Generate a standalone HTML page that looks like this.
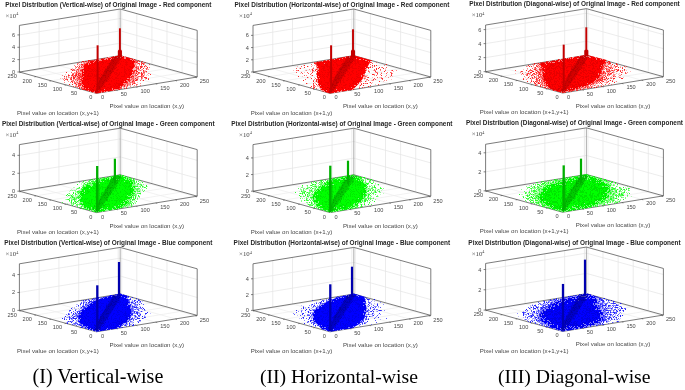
<!DOCTYPE html>
<html><head><meta charset="utf-8"><style>
html,body{margin:0;padding:0;background:#fff;width:685px;height:390px;overflow:hidden}
svg{display:block;filter:blur(0.3px)}
</style></head><body>
<svg width="685" height="390" viewBox="0 0 685 390">
<defs><filter id="rb" x="-20%" y="-20%" width="140%" height="140%"><feGaussianBlur stdDeviation="0.6"/></filter></defs>
<rect width="685" height="390" fill="#fff"/>
<line x1="39.16" y1="68.78" x2="39.16" y2="22.18" stroke="#e4e4e4" stroke-width="0.7"/>
<line x1="58.93" y1="65.57" x2="58.93" y2="18.97" stroke="#e4e4e4" stroke-width="0.7"/>
<line x1="78.69" y1="62.35" x2="78.69" y2="15.75" stroke="#e4e4e4" stroke-width="0.7"/>
<line x1="98.46" y1="59.14" x2="98.46" y2="12.54" stroke="#e4e4e4" stroke-width="0.7"/>
<line x1="118.22" y1="55.92" x2="118.22" y2="9.32" stroke="#e4e4e4" stroke-width="0.7"/>
<line x1="19.4" y1="59.64" x2="120.2" y2="43.24" stroke="#e4e4e4" stroke-width="0.7"/>
<line x1="19.4" y1="47.28" x2="120.2" y2="30.88" stroke="#e4e4e4" stroke-width="0.7"/>
<line x1="19.4" y1="34.92" x2="120.2" y2="18.52" stroke="#e4e4e4" stroke-width="0.7"/>
<line x1="182.1" y1="72.8" x2="182.1" y2="26.2" stroke="#e4e4e4" stroke-width="0.7"/>
<line x1="167" y1="68.61" x2="167" y2="22.01" stroke="#e4e4e4" stroke-width="0.7"/>
<line x1="151.91" y1="64.41" x2="151.91" y2="17.81" stroke="#e4e4e4" stroke-width="0.7"/>
<line x1="136.81" y1="60.22" x2="136.81" y2="13.62" stroke="#e4e4e4" stroke-width="0.7"/>
<line x1="121.71" y1="56.02" x2="121.71" y2="9.42" stroke="#e4e4e4" stroke-width="0.7"/>
<line x1="197.2" y1="64.64" x2="120.2" y2="43.24" stroke="#e4e4e4" stroke-width="0.7"/>
<line x1="197.2" y1="52.28" x2="120.2" y2="30.88" stroke="#e4e4e4" stroke-width="0.7"/>
<line x1="197.2" y1="39.92" x2="120.2" y2="18.52" stroke="#e4e4e4" stroke-width="0.7"/>
<line x1="116.16" y1="90.18" x2="39.16" y2="68.78" stroke="#ececec" stroke-width="0.7"/>
<line x1="135.93" y1="86.97" x2="58.93" y2="65.57" stroke="#ececec" stroke-width="0.7"/>
<line x1="155.69" y1="83.75" x2="78.69" y2="62.35" stroke="#ececec" stroke-width="0.7"/>
<line x1="175.46" y1="80.54" x2="98.46" y2="59.14" stroke="#ececec" stroke-width="0.7"/>
<line x1="195.22" y1="77.32" x2="118.22" y2="55.92" stroke="#ececec" stroke-width="0.7"/>
<line x1="81.3" y1="89.2" x2="182.1" y2="72.8" stroke="#ececec" stroke-width="0.7"/>
<line x1="66.2" y1="85.01" x2="167" y2="68.61" stroke="#ececec" stroke-width="0.7"/>
<line x1="51.11" y1="80.81" x2="151.91" y2="64.41" stroke="#ececec" stroke-width="0.7"/>
<line x1="36.01" y1="76.62" x2="136.81" y2="60.22" stroke="#ececec" stroke-width="0.7"/>
<line x1="20.91" y1="72.42" x2="121.71" y2="56.02" stroke="#ececec" stroke-width="0.7"/>
<line x1="120.2" y1="55.6" x2="120.2" y2="9" stroke="#9a9a9a" stroke-width="0.8"/>
<line x1="19.4" y1="72" x2="120.2" y2="55.6" stroke="#505050" stroke-width="0.75"/>
<line x1="197.2" y1="77" x2="120.2" y2="55.6" stroke="#505050" stroke-width="0.75"/>
<line x1="19.4" y1="72" x2="19.4" y2="25.4" stroke="#505050" stroke-width="0.75"/>
<line x1="19.4" y1="25.4" x2="120.2" y2="9" stroke="#505050" stroke-width="0.75"/>
<line x1="120.2" y1="9" x2="197.2" y2="30.4" stroke="#505050" stroke-width="0.75"/>
<line x1="197.2" y1="77" x2="197.2" y2="30.4" stroke="#505050" stroke-width="0.75"/>
<line x1="96.4" y1="93.4" x2="197.2" y2="77" stroke="#505050" stroke-width="0.75"/>
<line x1="96.4" y1="93.4" x2="19.4" y2="72" stroke="#505050" stroke-width="0.75"/>
<line x1="17.4" y1="72" x2="19.4" y2="72" stroke="#505050" stroke-width="0.7"/>
<text x="15.2" y="74" font-size="5.6" text-anchor="end" font-weight="normal" fill="#484848" font-family="'Liberation Sans', sans-serif">0</text>
<line x1="17.4" y1="59.64" x2="19.4" y2="59.64" stroke="#505050" stroke-width="0.7"/>
<text x="15.2" y="61.64" font-size="5.6" text-anchor="end" font-weight="normal" fill="#484848" font-family="'Liberation Sans', sans-serif">2</text>
<line x1="17.4" y1="47.28" x2="19.4" y2="47.28" stroke="#505050" stroke-width="0.7"/>
<text x="15.2" y="49.28" font-size="5.6" text-anchor="end" font-weight="normal" fill="#484848" font-family="'Liberation Sans', sans-serif">4</text>
<line x1="17.4" y1="34.92" x2="19.4" y2="34.92" stroke="#505050" stroke-width="0.7"/>
<text x="15.2" y="36.92" font-size="5.6" text-anchor="end" font-weight="normal" fill="#484848" font-family="'Liberation Sans', sans-serif">6</text>
<text x="100.9" y="99.4" font-size="5.6" text-anchor="start" font-weight="normal" fill="#484848" font-family="'Liberation Sans', sans-serif">0</text>
<text x="120.66" y="96.18" font-size="5.6" text-anchor="start" font-weight="normal" fill="#484848" font-family="'Liberation Sans', sans-serif">50</text>
<line x1="116.16" y1="90.18" x2="117.71" y2="90.61" stroke="#505050" stroke-width="0.6"/>
<text x="140.43" y="92.97" font-size="5.6" text-anchor="start" font-weight="normal" fill="#484848" font-family="'Liberation Sans', sans-serif">100</text>
<line x1="135.93" y1="86.97" x2="137.47" y2="87.4" stroke="#505050" stroke-width="0.6"/>
<text x="160.19" y="89.75" font-size="5.6" text-anchor="start" font-weight="normal" fill="#484848" font-family="'Liberation Sans', sans-serif">150</text>
<line x1="155.69" y1="83.75" x2="157.24" y2="84.18" stroke="#505050" stroke-width="0.6"/>
<text x="179.96" y="86.54" font-size="5.6" text-anchor="start" font-weight="normal" fill="#484848" font-family="'Liberation Sans', sans-serif">200</text>
<line x1="175.46" y1="80.54" x2="177" y2="80.97" stroke="#505050" stroke-width="0.6"/>
<text x="199.72" y="83.32" font-size="5.6" text-anchor="start" font-weight="normal" fill="#484848" font-family="'Liberation Sans', sans-serif">250</text>
<line x1="195.22" y1="77.32" x2="196.77" y2="77.75" stroke="#505050" stroke-width="0.6"/>
<line x1="81.3" y1="89.2" x2="79.72" y2="89.46" stroke="#505050" stroke-width="0.6"/>
<line x1="66.2" y1="85.01" x2="64.62" y2="85.26" stroke="#505050" stroke-width="0.6"/>
<line x1="51.11" y1="80.81" x2="49.53" y2="81.07" stroke="#505050" stroke-width="0.6"/>
<line x1="36.01" y1="76.62" x2="34.43" y2="76.87" stroke="#505050" stroke-width="0.6"/>
<line x1="20.91" y1="72.42" x2="19.33" y2="72.68" stroke="#505050" stroke-width="0.6"/>
<text x="92.3" y="99.4" font-size="5.6" text-anchor="end" font-weight="normal" fill="#484848" font-family="'Liberation Sans', sans-serif">0</text>
<text x="77.2" y="95.2" font-size="5.6" text-anchor="end" font-weight="normal" fill="#484848" font-family="'Liberation Sans', sans-serif">50</text>
<text x="62.1" y="91.01" font-size="5.6" text-anchor="end" font-weight="normal" fill="#484848" font-family="'Liberation Sans', sans-serif">100</text>
<text x="47.01" y="86.81" font-size="5.6" text-anchor="end" font-weight="normal" fill="#484848" font-family="'Liberation Sans', sans-serif">150</text>
<text x="31.91" y="82.62" font-size="5.6" text-anchor="end" font-weight="normal" fill="#484848" font-family="'Liberation Sans', sans-serif">200</text>
<text x="16.81" y="78.42" font-size="5.6" text-anchor="end" font-weight="normal" fill="#484848" font-family="'Liberation Sans', sans-serif">250</text>
<text x="5.5" y="17.6" font-size="6.8" text-anchor="start" font-weight="normal" fill="#444" font-family="'Liberation Serif', serif">×10<tspan font-size="4.2" dy="-2.4">4</tspan></text>
<text x="108.3" y="6.5" font-size="6.43" text-anchor="middle" font-weight="bold" fill="#262626" font-family="'Liberation Sans', sans-serif">Pixel Distribution (Vertical-wise) of Original Image - Red component</text>
<text x="57.9" y="114.5" font-size="6.15" text-anchor="middle" font-weight="normal" fill="#484848" font-family="'Liberation Sans', sans-serif">Pixel value on location (x,y+1)</text>
<text x="146.8" y="108.4" font-size="6.15" text-anchor="middle" font-weight="normal" fill="#484848" font-family="'Liberation Sans', sans-serif">Pixel value on location (x,y)</text>
<path d="M118.4 89.8 120.4 87.9 124.6 84 129 80 131.9 75 133.4 70 134.4 65 135.4 59.6 120.2 55.2 90.4 61 83.9 64.4 81.4 71.4 81.6 78.4 81.9 86 84 89.8 96.4 93.4Z" fill="#ff0000"/>
<path d="M119 55h2v1h-2zM104 58h2v1h-2zM126 58h2v1h-2zM102 59h1v1h-1zM104 59h1v1h-1zM107 59h1v1h-1zM110 59h1v1h-1zM123 59h2v1h-2zM127 59h2v1h-2zM131 59h2v1h-2zM134 59h1v1h-1zM94 60h1v1h-1zM96 60h1v1h-1zM102 60h1v1h-1zM109 60h1v1h-1zM125 60h1v1h-1zM128 60h4v1h-4zM89 61h1v1h-1zM97 61h2v1h-2zM102 61h1v1h-1zM106 61h1v1h-1zM121 61h1v1h-1zM123 61h1v1h-1zM126 61h1v1h-1zM132 61h3v1h-3zM91 62h1v1h-1zM95 62h1v1h-1zM97 62h1v1h-1zM101 62h3v1h-3zM105 62h1v1h-1zM125 62h3v1h-3zM132 62h1v1h-1zM87 63h1v1h-1zM92 63h1v1h-1zM95 63h1v1h-1zM100 63h1v1h-1zM103 63h1v1h-1zM107 63h1v1h-1zM120 63h1v1h-1zM126 63h1v1h-1zM130 63h1v1h-1zM132 63h1v1h-1zM87 64h1v1h-1zM94 64h1v1h-1zM97 64h2v1h-2zM102 64h1v1h-1zM120 64h1v1h-1zM125 64h3v1h-3zM89 65h1v1h-1zM92 65h1v1h-1zM97 65h1v1h-1zM122 65h1v1h-1zM126 65h1v1h-1zM88 66h1v1h-1zM101 66h1v1h-1zM105 66h1v1h-1zM118 66h1v1h-1zM124 66h1v1h-1zM129 66h2v1h-2zM132 66h1v1h-1zM88 67h1v1h-1zM93 67h1v1h-1zM99 67h1v1h-1zM103 67h2v1h-2zM121 67h2v1h-2zM124 67h1v1h-1zM130 67h3v1h-3zM83 68h2v1h-2zM88 68h3v1h-3zM94 68h1v1h-1zM99 68h1v1h-1zM124 68h1v1h-1zM127 68h1v1h-1zM82 69h1v1h-1zM91 69h3v1h-3zM95 69h1v1h-1zM99 69h1v1h-1zM102 69h1v1h-1zM117 69h2v1h-2zM124 69h2v1h-2zM128 69h2v1h-2zM84 70h2v1h-2zM87 70h2v1h-2zM92 70h1v1h-1zM94 70h1v1h-1zM96 70h1v1h-1zM100 70h1v1h-1zM116 70h2v1h-2zM124 70h1v1h-1zM126 70h1v1h-1zM128 70h1v1h-1zM130 70h1v1h-1zM82 71h1v1h-1zM85 71h2v1h-2zM89 71h3v1h-3zM93 71h1v1h-1zM95 71h1v1h-1zM98 71h2v1h-2zM102 71h1v1h-1zM124 71h2v1h-2zM129 71h1v1h-1zM83 72h1v1h-1zM86 72h1v1h-1zM97 72h1v1h-1zM114 72h3v1h-3zM119 72h1v1h-1zM121 72h1v1h-1zM124 72h2v1h-2zM84 73h2v1h-2zM88 73h2v1h-2zM91 73h2v1h-2zM100 73h1v1h-1zM114 73h1v1h-1zM116 73h2v1h-2zM119 73h1v1h-1zM125 73h2v1h-2zM129 73h1v1h-1zM83 74h2v1h-2zM88 74h1v1h-1zM92 74h1v1h-1zM94 74h1v1h-1zM96 74h1v1h-1zM98 74h2v1h-2zM115 74h2v1h-2zM118 74h2v1h-2zM124 74h1v1h-1zM126 74h1v1h-1zM129 74h3v1h-3zM87 75h2v1h-2zM90 75h1v1h-1zM92 75h1v1h-1zM94 75h4v1h-4zM100 75h1v1h-1zM117 75h2v1h-2zM124 75h1v1h-1zM128 75h1v1h-1zM83 76h1v1h-1zM85 76h1v1h-1zM87 76h5v1h-5zM94 76h3v1h-3zM112 76h1v1h-1zM117 76h1v1h-1zM121 76h4v1h-4zM83 77h1v1h-1zM93 77h1v1h-1zM98 77h1v1h-1zM111 77h1v1h-1zM115 77h2v1h-2zM129 77h1v1h-1zM83 78h1v1h-1zM87 78h1v1h-1zM89 78h2v1h-2zM95 78h1v1h-1zM98 78h1v1h-1zM110 78h1v1h-1zM112 78h1v1h-1zM115 78h4v1h-4zM120 78h1v1h-1zM82 79h1v1h-1zM85 79h4v1h-4zM97 79h1v1h-1zM113 79h2v1h-2zM122 79h1v1h-1zM85 80h1v1h-1zM90 80h1v1h-1zM93 80h2v1h-2zM109 80h1v1h-1zM111 80h1v1h-1zM116 80h1v1h-1zM118 80h1v1h-1zM123 80h1v1h-1zM125 80h2v1h-2zM82 81h1v1h-1zM88 81h1v1h-1zM95 81h1v1h-1zM108 81h1v1h-1zM111 81h1v1h-1zM120 81h2v1h-2zM125 81h1v1h-1zM82 82h1v1h-1zM87 82h1v1h-1zM116 82h1v1h-1zM121 82h2v1h-2zM125 82h1v1h-1zM88 83h1v1h-1zM92 83h1v1h-1zM95 83h1v1h-1zM109 83h1v1h-1zM114 83h1v1h-1zM116 83h5v1h-5zM123 83h1v1h-1zM83 84h1v1h-1zM88 84h1v1h-1zM91 84h1v1h-1zM106 84h1v1h-1zM108 84h3v1h-3zM115 84h1v1h-1zM118 84h3v1h-3zM122 84h1v1h-1zM82 85h1v1h-1zM84 85h1v1h-1zM113 85h1v1h-1zM115 85h1v1h-1zM118 85h2v1h-2zM121 85h1v1h-1zM84 86h1v1h-1zM105 86h1v1h-1zM110 86h2v1h-2zM114 86h1v1h-1zM116 86h2v1h-2zM87 87h1v1h-1zM90 87h1v1h-1zM107 87h2v1h-2zM110 87h1v1h-1zM118 87h1v1h-1zM85 88h1v1h-1zM89 88h1v1h-1zM91 88h1v1h-1zM106 88h1v1h-1zM109 88h2v1h-2zM112 88h1v1h-1zM116 88h2v1h-2zM86 89h1v1h-1zM90 89h1v1h-1zM103 89h2v1h-2zM107 89h1v1h-1zM117 89h1v1h-1zM106 90h1v1h-1zM110 90h1v1h-1zM113 90h1v1h-1zM90 91h1v1h-1zM107 91h1v1h-1zM96 92h1v1h-1zM100 92h1v1h-1z" fill="#8c0000" fill-opacity="0.16"/>
<path d="M114 56h1v1h-1zM122 56h1v1h-1zM124 56h1v1h-1zM108 57h3v1h-3zM117 57h1v1h-1zM120 57h1v1h-1zM124 57h2v1h-2zM105 58h3v1h-3zM111 58h1v1h-1zM113 58h1v1h-1zM124 58h2v1h-2zM98 59h3v1h-3zM104 59h2v1h-2zM107 59h1v1h-1zM110 59h1v1h-1zM130 59h2v1h-2zM133 59h1v1h-1zM95 60h1v1h-1zM99 60h3v1h-3zM132 60h1v1h-1zM134 60h1v1h-1zM94 61h1v1h-1zM98 61h1v1h-1zM89 62h1v1h-1zM93 62h1v1h-1zM88 63h1v1h-1zM90 63h1v1h-1zM134 63h1v1h-1zM88 64h1v1h-1zM83 67h1v1h-1zM82 68h2v1h-2zM133 68h1v1h-1zM132 69h2v1h-2zM83 70h1v1h-1zM83 71h1v1h-1zM81 72h1v1h-1zM132 72h1v1h-1zM83 73h1v1h-1zM131 75h1v1h-1zM83 76h1v1h-1zM130 76h1v1h-1zM82 77h1v1h-1zM127 78h2v1h-2zM82 79h1v1h-1zM126 80h2v1h-2zM124 81h1v1h-1zM123 83h2v1h-2zM82 84h1v1h-1zM83 85h1v1h-1zM120 86h1v1h-1zM83 87h1v1h-1zM85 88h1v1h-1zM88 88h1v1h-1zM112 88h1v1h-1zM104 89h1v1h-1zM112 89h1v1h-1zM114 89h4v1h-4zM88 90h1v1h-1zM98 90h1v1h-1zM113 90h1v1h-1zM90 91h1v1h-1zM94 91h1v1h-1zM101 91h1v1h-1zM104 91h1v1h-1zM106 91h2v1h-2zM93 92h2v1h-2zM101 92h1v1h-1z" fill="#fff" fill-opacity="0.5"/>
<path d="M101 58h2v1h-2zM94 59h2v1h-2zM97 59h1v1h-1zM87 61h1v1h-1zM138 61h1v1h-1zM141 61h1v1h-1zM85 62h1v1h-1zM142 62h1v1h-1zM144 62h1v1h-1zM81 63h1v1h-1zM83 63h1v1h-1zM85 63h1v1h-1zM136 63h1v1h-1zM80 64h1v1h-1zM134 64h1v1h-1zM136 64h2v1h-2zM144 64h1v1h-1zM78 65h3v1h-3zM83 65h1v1h-1zM135 65h1v1h-1zM139 65h1v1h-1zM82 66h1v1h-1zM135 66h1v1h-1zM145 66h1v1h-1zM75 67h1v1h-1zM134 67h1v1h-1zM142 67h1v1h-1zM144 67h1v1h-1zM72 68h1v1h-1zM80 68h2v1h-2zM134 68h2v1h-2zM145 68h1v1h-1zM70 69h1v1h-1zM72 69h1v1h-1zM76 69h1v1h-1zM79 69h1v1h-1zM134 69h2v1h-2zM137 69h1v1h-1zM141 69h1v1h-1zM147 69h1v1h-1zM75 70h1v1h-1zM77 70h1v1h-1zM79 70h1v1h-1zM133 70h1v1h-1zM138 70h2v1h-2zM141 70h1v1h-1zM144 70h2v1h-2zM77 71h1v1h-1zM79 71h1v1h-1zM135 71h1v1h-1zM75 72h1v1h-1zM80 72h1v1h-1zM135 72h1v1h-1zM137 72h1v1h-1zM146 72h1v1h-1zM74 73h1v1h-1zM77 73h1v1h-1zM137 73h1v1h-1zM140 73h1v1h-1zM149 73h1v1h-1zM65 74h1v1h-1zM132 74h1v1h-1zM134 74h1v1h-1zM138 74h1v1h-1zM147 74h1v1h-1zM77 75h1v1h-1zM81 75h1v1h-1zM137 75h1v1h-1zM144 75h1v1h-1zM146 75h1v1h-1zM148 75h1v1h-1zM71 76h2v1h-2zM74 76h1v1h-1zM76 76h1v1h-1zM134 76h1v1h-1zM136 76h2v1h-2zM64 77h1v1h-1zM69 77h2v1h-2zM76 77h1v1h-1zM134 77h2v1h-2zM138 77h1v1h-1zM60 78h1v1h-1zM62 78h1v1h-1zM80 78h1v1h-1zM130 78h1v1h-1zM134 78h1v1h-1zM136 78h1v1h-1zM138 78h1v1h-1zM74 79h1v1h-1zM135 79h1v1h-1zM145 79h1v1h-1zM71 80h1v1h-1zM76 80h1v1h-1zM78 80h1v1h-1zM131 80h1v1h-1zM134 80h1v1h-1zM142 80h1v1h-1zM73 81h1v1h-1zM77 81h2v1h-2zM127 81h1v1h-1zM130 81h2v1h-2zM78 82h1v1h-1zM80 82h1v1h-1zM128 82h1v1h-1zM137 82h1v1h-1zM76 83h2v1h-2zM125 83h1v1h-1zM75 84h1v1h-1zM77 84h1v1h-1zM126 84h1v1h-1zM75 85h1v1h-1zM81 85h1v1h-1zM126 85h1v1h-1zM128 85h3v1h-3zM80 86h2v1h-2zM122 86h1v1h-1zM125 86h1v1h-1zM133 86h1v1h-1zM137 86h1v1h-1zM80 87h1v1h-1zM82 87h1v1h-1zM123 87h2v1h-2z" fill="#ff0000" fill-opacity="0.25"/>
<path d="M113 56h1v1h-1zM107 57h1v1h-1zM96 59h1v1h-1zM90 60h3v1h-3zM135 60h2v1h-2zM79 62h1v1h-1zM83 62h2v1h-2zM86 62h2v1h-2zM145 62h1v1h-1zM77 63h2v1h-2zM135 63h1v1h-1zM137 63h1v1h-1zM144 63h1v1h-1zM79 64h1v1h-1zM83 64h1v1h-1zM135 64h1v1h-1zM74 65h1v1h-1zM81 65h1v1h-1zM136 65h1v1h-1zM141 65h1v1h-1zM137 66h2v1h-2zM79 67h2v1h-2zM137 67h1v1h-1zM149 67h1v1h-1zM75 68h1v1h-1zM78 68h1v1h-1zM147 68h1v1h-1zM74 69h1v1h-1zM80 69h1v1h-1zM139 69h1v1h-1zM142 69h1v1h-1zM148 69h1v1h-1zM73 70h1v1h-1zM76 70h1v1h-1zM80 71h1v1h-1zM144 71h2v1h-2zM74 72h1v1h-1zM78 72h2v1h-2zM72 73h1v1h-1zM75 73h1v1h-1zM134 73h2v1h-2zM139 73h1v1h-1zM143 73h2v1h-2zM148 73h1v1h-1zM68 74h1v1h-1zM77 74h1v1h-1zM79 74h1v1h-1zM133 74h1v1h-1zM144 74h1v1h-1zM62 75h1v1h-1zM73 75h1v1h-1zM133 75h2v1h-2zM142 75h1v1h-1zM68 76h1v1h-1zM78 76h1v1h-1zM135 76h1v1h-1zM66 77h1v1h-1zM68 77h1v1h-1zM75 77h1v1h-1zM77 77h1v1h-1zM132 77h1v1h-1zM136 77h1v1h-1zM142 77h1v1h-1zM66 78h1v1h-1zM76 78h1v1h-1zM81 78h1v1h-1zM131 78h1v1h-1zM137 78h1v1h-1zM142 78h1v1h-1zM145 78h1v1h-1zM63 79h1v1h-1zM73 79h1v1h-1zM76 79h2v1h-2zM130 79h1v1h-1zM132 79h1v1h-1zM134 79h1v1h-1zM141 79h1v1h-1zM67 80h1v1h-1zM72 80h1v1h-1zM75 80h1v1h-1zM79 80h2v1h-2zM132 80h1v1h-1zM137 80h1v1h-1zM68 81h1v1h-1zM76 81h1v1h-1zM81 81h1v1h-1zM128 81h1v1h-1zM64 82h1v1h-1zM70 82h1v1h-1zM75 82h2v1h-2zM81 82h1v1h-1zM129 82h1v1h-1zM131 82h1v1h-1zM133 82h1v1h-1zM128 83h3v1h-3zM132 83h1v1h-1zM135 83h1v1h-1zM140 83h1v1h-1zM124 84h1v1h-1zM128 84h2v1h-2zM137 84h1v1h-1zM76 85h1v1h-1zM123 85h1v1h-1zM125 85h1v1h-1zM134 85h1v1h-1zM136 85h1v1h-1zM140 85h1v1h-1zM76 86h2v1h-2zM79 86h1v1h-1zM123 86h1v1h-1zM126 86h2v1h-2zM130 86h1v1h-1zM77 87h1v1h-1z" fill="#ff0000" fill-opacity="0.45"/>
<path d="M138 60h1v1h-1zM86 61h1v1h-1zM135 61h2v1h-2zM142 61h1v1h-1zM81 62h1v1h-1zM135 62h1v1h-1zM137 62h1v1h-1zM84 63h1v1h-1zM139 63h1v1h-1zM141 63h1v1h-1zM143 63h1v1h-1zM77 64h1v1h-1zM139 64h1v1h-1zM149 64h1v1h-1zM82 65h1v1h-1zM145 65h1v1h-1zM75 66h1v1h-1zM77 66h1v1h-1zM136 66h1v1h-1zM142 66h1v1h-1zM146 66h1v1h-1zM76 67h1v1h-1zM78 67h1v1h-1zM81 67h2v1h-2zM135 67h1v1h-1zM138 67h1v1h-1zM140 67h1v1h-1zM79 68h1v1h-1zM136 68h2v1h-2zM146 68h1v1h-1zM73 69h1v1h-1zM78 69h1v1h-1zM81 69h1v1h-1zM136 69h1v1h-1zM138 69h1v1h-1zM146 69h1v1h-1zM74 70h1v1h-1zM78 70h1v1h-1zM140 70h1v1h-1zM78 71h1v1h-1zM143 71h1v1h-1zM71 72h1v1h-1zM76 72h2v1h-2zM134 72h1v1h-1zM136 72h1v1h-1zM139 72h1v1h-1zM143 72h2v1h-2zM73 73h1v1h-1zM80 73h1v1h-1zM132 73h1v1h-1zM138 73h1v1h-1zM142 73h1v1h-1zM73 74h1v1h-1zM75 74h1v1h-1zM135 74h1v1h-1zM69 75h1v1h-1zM71 75h1v1h-1zM74 75h1v1h-1zM80 75h1v1h-1zM132 75h1v1h-1zM135 75h1v1h-1zM143 75h1v1h-1zM66 76h1v1h-1zM79 76h1v1h-1zM81 76h1v1h-1zM138 76h6v1h-6zM80 77h2v1h-2zM130 77h1v1h-1zM133 77h1v1h-1zM137 77h1v1h-1zM146 77h1v1h-1zM64 78h1v1h-1zM70 78h2v1h-2zM77 78h2v1h-2zM132 78h2v1h-2zM141 78h1v1h-1zM148 78h1v1h-1zM65 79h2v1h-2zM70 79h1v1h-1zM75 79h1v1h-1zM78 79h2v1h-2zM131 79h1v1h-1zM133 79h1v1h-1zM64 80h1v1h-1zM73 80h1v1h-1zM130 80h1v1h-1zM140 80h1v1h-1zM72 81h1v1h-1zM74 81h1v1h-1zM133 81h2v1h-2zM74 82h1v1h-1zM77 82h1v1h-1zM79 82h1v1h-1zM130 82h1v1h-1zM132 82h1v1h-1zM134 82h1v1h-1zM74 83h1v1h-1zM81 83h1v1h-1zM126 83h2v1h-2zM133 83h1v1h-1zM78 84h2v1h-2zM81 84h1v1h-1zM125 84h1v1h-1zM127 84h1v1h-1zM130 84h1v1h-1zM136 84h1v1h-1zM73 86h1v1h-1zM75 86h1v1h-1zM121 87h1v1h-1zM126 87h1v1h-1zM81 88h2v1h-2zM120 88h2v1h-2zM124 88h1v1h-1zM126 88h1v1h-1z" fill="#ff0000" fill-opacity="0.65"/>
<path d="M88 60h2v1h-2zM82 61h2v1h-2zM85 61h1v1h-1zM88 61h1v1h-1zM137 61h1v1h-1zM139 61h1v1h-1zM136 62h1v1h-1zM141 62h1v1h-1zM138 63h1v1h-1zM142 63h1v1h-1zM81 64h2v1h-2zM141 64h1v1h-1zM143 64h1v1h-1zM134 65h1v1h-1zM79 66h1v1h-1zM81 66h1v1h-1zM134 66h1v1h-1zM140 66h2v1h-2zM144 66h1v1h-1zM136 67h1v1h-1zM141 67h1v1h-1zM147 67h1v1h-1zM138 68h1v1h-1zM140 68h1v1h-1zM143 68h1v1h-1zM71 69h1v1h-1zM77 69h1v1h-1zM72 70h1v1h-1zM80 70h2v1h-2zM134 70h3v1h-3zM143 70h1v1h-1zM76 71h1v1h-1zM133 71h2v1h-2zM136 71h2v1h-2zM146 71h1v1h-1zM66 72h1v1h-1zM133 72h1v1h-1zM138 72h1v1h-1zM141 72h1v1h-1zM76 73h1v1h-1zM78 73h2v1h-2zM133 73h1v1h-1zM136 73h1v1h-1zM141 73h1v1h-1zM72 74h1v1h-1zM76 74h1v1h-1zM78 74h1v1h-1zM80 74h1v1h-1zM137 74h1v1h-1zM141 74h2v1h-2zM150 74h1v1h-1zM68 75h1v1h-1zM72 75h1v1h-1zM75 75h2v1h-2zM78 75h2v1h-2zM136 75h1v1h-1zM141 75h1v1h-1zM64 76h1v1h-1zM73 76h1v1h-1zM75 76h1v1h-1zM77 76h1v1h-1zM80 76h1v1h-1zM131 76h3v1h-3zM71 77h1v1h-1zM73 77h2v1h-2zM78 77h2v1h-2zM131 77h1v1h-1zM141 77h1v1h-1zM144 77h2v1h-2zM73 78h2v1h-2zM79 78h1v1h-1zM135 78h1v1h-1zM146 78h1v1h-1zM67 79h1v1h-1zM71 79h1v1h-1zM80 79h2v1h-2zM129 79h1v1h-1zM136 79h2v1h-2zM148 79h1v1h-1zM77 80h1v1h-1zM81 80h1v1h-1zM128 80h2v1h-2zM133 80h1v1h-1zM135 80h2v1h-2zM143 80h1v1h-1zM71 81h1v1h-1zM79 81h2v1h-2zM129 81h1v1h-1zM132 81h1v1h-1zM72 82h1v1h-1zM126 82h2v1h-2zM75 83h1v1h-1zM78 83h3v1h-3zM134 83h1v1h-1zM69 84h1v1h-1zM72 84h1v1h-1zM76 84h1v1h-1zM80 84h1v1h-1zM132 84h1v1h-1zM78 85h3v1h-3zM124 85h1v1h-1zM127 85h1v1h-1zM78 86h1v1h-1zM124 86h1v1h-1zM79 87h1v1h-1zM81 87h1v1h-1zM79 88h1v1h-1zM82 89h2v1h-2zM119 89h1v1h-1z" fill="#ff0000" fill-opacity="0.85"/>
<g filter="url(#rb)">
<path d="M94.58 92.64 95.94 89.03 97.3 85.42 98.65 81.81 100.01 78.2 102.24 74.59 104.51 70.98 106.79 67.37 109.06 63.76 111.33 60.15 113.6 56.55 122.6 56.55 120.33 60.15 118.06 63.76 115.79 67.37 113.51 70.98 111.24 74.59 108.95 78.2 106.22 81.81 103.48 85.42 100.75 89.03 98.02 92.64Z" fill="#8c0000" fill-opacity="0.22"/>
<path d="M95.04 92.64 96.58 89.03 98.12 85.42 99.66 81.81 101.2 78.2 103.44 74.59 105.71 70.98 107.99 67.37 110.26 63.76 112.53 60.15 114.8 56.55 121.6 56.55 119.33 60.15 117.06 63.76 114.79 67.37 112.51 70.98 110.24 74.59 107.95 78.2 105.38 81.81 102.8 85.42 100.22 89.03 97.64 92.64Z" fill="#8c0000" fill-opacity="0.2"/>
<path d="M94.78 92.64 96.21 89.03 97.64 85.42 99.07 81.81 100.51 78.2 102.74 74.59 105.01 70.98 107.29 67.37 109.56 63.76 111.83 60.15 114.1 56.55 116.6 56.55 114.33 60.15 112.06 63.76 109.79 67.37 107.51 70.98 105.24 74.59 102.99 78.2 101.17 81.81 99.36 85.42 97.54 89.03 95.73 92.64Z" fill="#8c0000" fill-opacity="0.15"/>
<path d="M117 56h1v1h-1zM119 56h1v1h-1zM112 57h1v1h-1zM117 57h1v1h-1zM119 57h1v1h-1zM112 58h1v1h-1zM114 59h1v1h-1zM112 60h1v1h-1zM115 60h1v1h-1zM110 62h1v1h-1zM114 62h1v1h-1zM116 62h1v1h-1zM119 62h1v1h-1zM108 63h1v1h-1zM115 63h1v1h-1zM110 64h1v1h-1zM115 64h1v1h-1zM113 66h1v1h-1zM107 67h1v1h-1zM109 67h1v1h-1zM105 68h1v1h-1zM107 68h2v1h-2zM111 68h2v1h-2zM114 68h1v1h-1zM106 69h1v1h-1zM114 69h1v1h-1zM104 70h2v1h-2zM105 71h1v1h-1zM112 71h1v1h-1zM103 72h1v1h-1zM106 73h1v1h-1zM108 74h1v1h-1zM102 75h1v1h-1zM110 75h1v1h-1zM105 76h1v1h-1zM109 77h1v1h-1zM107 78h1v1h-1zM109 78h1v1h-1zM99 79h3v1h-3zM105 79h1v1h-1zM107 80h1v1h-1zM102 81h2v1h-2zM107 81h1v1h-1zM98 82h2v1h-2zM97 83h1v1h-1zM103 84h1v1h-1zM97 85h1v1h-1zM102 85h1v1h-1zM104 85h1v1h-1zM101 86h1v1h-1zM103 86h1v1h-1zM102 87h1v1h-1zM93 89h1v1h-1zM101 89h2v1h-2zM97 90h1v1h-1zM94 91h1v1h-1zM101 91h1v1h-1z" fill="#8c0000" fill-opacity="0.2"/>
<path d="M120 56h1v1h-1zM115 57h1v1h-1zM118 57h1v1h-1zM122 57h1v1h-1zM113 58h1v1h-1zM117 58h1v1h-1zM121 58h1v1h-1zM111 59h1v1h-1zM120 59h1v1h-1zM111 60h1v1h-1zM113 61h1v1h-1zM109 63h1v1h-1zM113 63h1v1h-1zM118 63h1v1h-1zM112 65h1v1h-1zM107 66h1v1h-1zM113 67h1v1h-1zM116 67h1v1h-1zM115 68h1v1h-1zM105 69h1v1h-1zM112 69h1v1h-1zM107 70h2v1h-2zM110 70h1v1h-1zM104 71h1v1h-1zM106 71h1v1h-1zM109 71h2v1h-2zM113 71h1v1h-1zM106 72h1v1h-1zM111 72h1v1h-1zM110 73h1v1h-1zM101 74h1v1h-1zM103 75h3v1h-3zM108 76h1v1h-1zM99 77h1v1h-1zM101 77h1v1h-1zM105 77h1v1h-1zM99 78h2v1h-2zM108 79h1v1h-1zM99 80h1v1h-1zM104 80h1v1h-1zM106 80h1v1h-1zM99 81h1v1h-1zM106 81h1v1h-1zM103 82h1v1h-1zM98 83h1v1h-1zM102 83h1v1h-1zM96 84h1v1h-1zM94 85h1v1h-1zM94 86h1v1h-1zM96 86h2v1h-2zM99 86h1v1h-1zM104 86h1v1h-1zM93 87h1v1h-1zM97 87h1v1h-1zM99 87h1v1h-1zM99 88h1v1h-1zM92 89h1v1h-1zM97 89h1v1h-1zM100 89h1v1h-1zM91 90h1v1h-1zM93 90h1v1h-1zM91 91h1v1h-1zM95 91h1v1h-1z" fill="#8c0000" fill-opacity="0.35"/>
</g>
<rect x="96.6" y="45.3" width="2" height="46.19" fill="#c30000"/>
<rect x="118.95" y="28.3" width="1.9" height="27.78" fill="#c30000"/>
<path d="M118.6 49.8L121.2 49.8L121.95 51L121.95 56.58L117.85 56.58L117.85 51Z" fill="#c30000"/>
<line x1="272.76" y1="68.78" x2="272.76" y2="22.18" stroke="#e4e4e4" stroke-width="0.7"/>
<line x1="292.53" y1="65.57" x2="292.53" y2="18.97" stroke="#e4e4e4" stroke-width="0.7"/>
<line x1="312.29" y1="62.35" x2="312.29" y2="15.75" stroke="#e4e4e4" stroke-width="0.7"/>
<line x1="332.06" y1="59.14" x2="332.06" y2="12.54" stroke="#e4e4e4" stroke-width="0.7"/>
<line x1="351.82" y1="55.92" x2="351.82" y2="9.32" stroke="#e4e4e4" stroke-width="0.7"/>
<line x1="253" y1="59.79" x2="353.8" y2="43.39" stroke="#e4e4e4" stroke-width="0.7"/>
<line x1="253" y1="47.57" x2="353.8" y2="31.17" stroke="#e4e4e4" stroke-width="0.7"/>
<line x1="253" y1="35.36" x2="353.8" y2="18.96" stroke="#e4e4e4" stroke-width="0.7"/>
<line x1="415.7" y1="72.8" x2="415.7" y2="26.2" stroke="#e4e4e4" stroke-width="0.7"/>
<line x1="400.6" y1="68.61" x2="400.6" y2="22.01" stroke="#e4e4e4" stroke-width="0.7"/>
<line x1="385.51" y1="64.41" x2="385.51" y2="17.81" stroke="#e4e4e4" stroke-width="0.7"/>
<line x1="370.41" y1="60.22" x2="370.41" y2="13.62" stroke="#e4e4e4" stroke-width="0.7"/>
<line x1="355.31" y1="56.02" x2="355.31" y2="9.42" stroke="#e4e4e4" stroke-width="0.7"/>
<line x1="430.8" y1="64.79" x2="353.8" y2="43.39" stroke="#e4e4e4" stroke-width="0.7"/>
<line x1="430.8" y1="52.57" x2="353.8" y2="31.17" stroke="#e4e4e4" stroke-width="0.7"/>
<line x1="430.8" y1="40.36" x2="353.8" y2="18.96" stroke="#e4e4e4" stroke-width="0.7"/>
<line x1="349.76" y1="90.18" x2="272.76" y2="68.78" stroke="#ececec" stroke-width="0.7"/>
<line x1="369.53" y1="86.97" x2="292.53" y2="65.57" stroke="#ececec" stroke-width="0.7"/>
<line x1="389.29" y1="83.75" x2="312.29" y2="62.35" stroke="#ececec" stroke-width="0.7"/>
<line x1="409.06" y1="80.54" x2="332.06" y2="59.14" stroke="#ececec" stroke-width="0.7"/>
<line x1="428.82" y1="77.32" x2="351.82" y2="55.92" stroke="#ececec" stroke-width="0.7"/>
<line x1="314.9" y1="89.2" x2="415.7" y2="72.8" stroke="#ececec" stroke-width="0.7"/>
<line x1="299.8" y1="85.01" x2="400.6" y2="68.61" stroke="#ececec" stroke-width="0.7"/>
<line x1="284.71" y1="80.81" x2="385.51" y2="64.41" stroke="#ececec" stroke-width="0.7"/>
<line x1="269.61" y1="76.62" x2="370.41" y2="60.22" stroke="#ececec" stroke-width="0.7"/>
<line x1="254.51" y1="72.42" x2="355.31" y2="56.02" stroke="#ececec" stroke-width="0.7"/>
<line x1="353.8" y1="55.6" x2="353.8" y2="9" stroke="#9a9a9a" stroke-width="0.8"/>
<line x1="253" y1="72" x2="353.8" y2="55.6" stroke="#505050" stroke-width="0.75"/>
<line x1="430.8" y1="77" x2="353.8" y2="55.6" stroke="#505050" stroke-width="0.75"/>
<line x1="253" y1="72" x2="253" y2="25.4" stroke="#505050" stroke-width="0.75"/>
<line x1="253" y1="25.4" x2="353.8" y2="9" stroke="#505050" stroke-width="0.75"/>
<line x1="353.8" y1="9" x2="430.8" y2="30.4" stroke="#505050" stroke-width="0.75"/>
<line x1="430.8" y1="77" x2="430.8" y2="30.4" stroke="#505050" stroke-width="0.75"/>
<line x1="330" y1="93.4" x2="430.8" y2="77" stroke="#505050" stroke-width="0.75"/>
<line x1="330" y1="93.4" x2="253" y2="72" stroke="#505050" stroke-width="0.75"/>
<line x1="251" y1="72" x2="253" y2="72" stroke="#505050" stroke-width="0.7"/>
<text x="248.8" y="74" font-size="5.6" text-anchor="end" font-weight="normal" fill="#484848" font-family="'Liberation Sans', sans-serif">0</text>
<line x1="251" y1="59.79" x2="253" y2="59.79" stroke="#505050" stroke-width="0.7"/>
<text x="248.8" y="61.79" font-size="5.6" text-anchor="end" font-weight="normal" fill="#484848" font-family="'Liberation Sans', sans-serif">2</text>
<line x1="251" y1="47.57" x2="253" y2="47.57" stroke="#505050" stroke-width="0.7"/>
<text x="248.8" y="49.57" font-size="5.6" text-anchor="end" font-weight="normal" fill="#484848" font-family="'Liberation Sans', sans-serif">4</text>
<line x1="251" y1="35.36" x2="253" y2="35.36" stroke="#505050" stroke-width="0.7"/>
<text x="248.8" y="37.36" font-size="5.6" text-anchor="end" font-weight="normal" fill="#484848" font-family="'Liberation Sans', sans-serif">6</text>
<text x="334.5" y="99.4" font-size="5.6" text-anchor="start" font-weight="normal" fill="#484848" font-family="'Liberation Sans', sans-serif">0</text>
<text x="354.26" y="96.18" font-size="5.6" text-anchor="start" font-weight="normal" fill="#484848" font-family="'Liberation Sans', sans-serif">50</text>
<line x1="349.76" y1="90.18" x2="351.31" y2="90.61" stroke="#505050" stroke-width="0.6"/>
<text x="374.03" y="92.97" font-size="5.6" text-anchor="start" font-weight="normal" fill="#484848" font-family="'Liberation Sans', sans-serif">100</text>
<line x1="369.53" y1="86.97" x2="371.07" y2="87.4" stroke="#505050" stroke-width="0.6"/>
<text x="393.79" y="89.75" font-size="5.6" text-anchor="start" font-weight="normal" fill="#484848" font-family="'Liberation Sans', sans-serif">150</text>
<line x1="389.29" y1="83.75" x2="390.84" y2="84.18" stroke="#505050" stroke-width="0.6"/>
<text x="413.56" y="86.54" font-size="5.6" text-anchor="start" font-weight="normal" fill="#484848" font-family="'Liberation Sans', sans-serif">200</text>
<line x1="409.06" y1="80.54" x2="410.6" y2="80.97" stroke="#505050" stroke-width="0.6"/>
<text x="433.32" y="83.32" font-size="5.6" text-anchor="start" font-weight="normal" fill="#484848" font-family="'Liberation Sans', sans-serif">250</text>
<line x1="428.82" y1="77.32" x2="430.37" y2="77.75" stroke="#505050" stroke-width="0.6"/>
<line x1="314.9" y1="89.2" x2="313.32" y2="89.46" stroke="#505050" stroke-width="0.6"/>
<line x1="299.8" y1="85.01" x2="298.22" y2="85.26" stroke="#505050" stroke-width="0.6"/>
<line x1="284.71" y1="80.81" x2="283.13" y2="81.07" stroke="#505050" stroke-width="0.6"/>
<line x1="269.61" y1="76.62" x2="268.03" y2="76.87" stroke="#505050" stroke-width="0.6"/>
<line x1="254.51" y1="72.42" x2="252.93" y2="72.68" stroke="#505050" stroke-width="0.6"/>
<text x="325.9" y="99.4" font-size="5.6" text-anchor="end" font-weight="normal" fill="#484848" font-family="'Liberation Sans', sans-serif">0</text>
<text x="310.8" y="95.2" font-size="5.6" text-anchor="end" font-weight="normal" fill="#484848" font-family="'Liberation Sans', sans-serif">50</text>
<text x="295.7" y="91.01" font-size="5.6" text-anchor="end" font-weight="normal" fill="#484848" font-family="'Liberation Sans', sans-serif">100</text>
<text x="280.61" y="86.81" font-size="5.6" text-anchor="end" font-weight="normal" fill="#484848" font-family="'Liberation Sans', sans-serif">150</text>
<text x="265.51" y="82.62" font-size="5.6" text-anchor="end" font-weight="normal" fill="#484848" font-family="'Liberation Sans', sans-serif">200</text>
<text x="250.41" y="78.42" font-size="5.6" text-anchor="end" font-weight="normal" fill="#484848" font-family="'Liberation Sans', sans-serif">250</text>
<text x="239.1" y="17.6" font-size="6.8" text-anchor="start" font-weight="normal" fill="#444" font-family="'Liberation Serif', serif">×10<tspan font-size="4.2" dy="-2.4">4</tspan></text>
<text x="341.9" y="6.5" font-size="6.43" text-anchor="middle" font-weight="bold" fill="#262626" font-family="'Liberation Sans', sans-serif">Pixel Distribution (Horizontal-wise) of Original Image - Red component</text>
<text x="291.5" y="114.5" font-size="6.15" text-anchor="middle" font-weight="normal" fill="#484848" font-family="'Liberation Sans', sans-serif">Pixel value on location (x+1,y)</text>
<text x="380.4" y="108.4" font-size="6.15" text-anchor="middle" font-weight="normal" fill="#484848" font-family="'Liberation Sans', sans-serif">Pixel value on location (x,y)</text>
<path d="M355 87.6 358.3 84.3 362.6 78.9 364.8 73.6 366.9 68.2 370.2 61.7 370.2 59.9 353.8 55.2 316 62.2 317 69.7 317 77.9 318.2 85 321.7 91 330 93.4 353.05 89.65Z" fill="#ff0000"/>
<path d="M353 55h1v1h-1zM342 57h1v1h-1zM357 57h1v1h-1zM361 57h1v1h-1zM338 58h1v1h-1zM342 58h1v1h-1zM344 58h1v1h-1zM356 58h1v1h-1zM358 58h2v1h-2zM362 58h1v1h-1zM331 59h1v1h-1zM334 59h1v1h-1zM336 59h1v1h-1zM341 59h2v1h-2zM355 59h1v1h-1zM357 59h1v1h-1zM366 59h1v1h-1zM334 60h1v1h-1zM336 60h1v1h-1zM338 60h1v1h-1zM340 60h1v1h-1zM343 60h1v1h-1zM355 60h1v1h-1zM357 60h1v1h-1zM363 60h2v1h-2zM320 61h2v1h-2zM325 61h1v1h-1zM328 61h1v1h-1zM333 61h1v1h-1zM336 61h1v1h-1zM341 61h1v1h-1zM354 61h2v1h-2zM357 61h2v1h-2zM362 61h1v1h-1zM364 61h2v1h-2zM368 61h2v1h-2zM318 62h1v1h-1zM320 62h1v1h-1zM322 62h2v1h-2zM326 62h1v1h-1zM328 62h1v1h-1zM331 62h1v1h-1zM334 62h2v1h-2zM355 62h1v1h-1zM357 62h2v1h-2zM316 63h3v1h-3zM324 63h2v1h-2zM327 63h1v1h-1zM331 63h1v1h-1zM336 63h1v1h-1zM354 63h3v1h-3zM358 63h1v1h-1zM365 63h1v1h-1zM316 64h4v1h-4zM324 64h4v1h-4zM333 64h1v1h-1zM336 64h2v1h-2zM353 64h1v1h-1zM355 64h1v1h-1zM359 64h2v1h-2zM363 64h1v1h-1zM365 64h1v1h-1zM325 65h3v1h-3zM333 65h1v1h-1zM337 65h4v1h-4zM352 65h1v1h-1zM355 65h1v1h-1zM321 66h4v1h-4zM326 66h4v1h-4zM337 66h1v1h-1zM351 66h2v1h-2zM358 66h2v1h-2zM323 67h2v1h-2zM327 67h1v1h-1zM329 67h1v1h-1zM332 67h1v1h-1zM334 67h1v1h-1zM350 67h3v1h-3zM360 67h1v1h-1zM362 67h1v1h-1zM366 67h1v1h-1zM322 68h3v1h-3zM329 68h2v1h-2zM332 68h1v1h-1zM336 68h1v1h-1zM352 68h5v1h-5zM358 68h1v1h-1zM361 68h2v1h-2zM317 69h1v1h-1zM321 69h1v1h-1zM323 69h1v1h-1zM327 69h2v1h-2zM332 69h2v1h-2zM349 69h1v1h-1zM360 69h1v1h-1zM317 70h2v1h-2zM323 70h3v1h-3zM328 70h1v1h-1zM330 70h2v1h-2zM352 70h2v1h-2zM358 70h2v1h-2zM361 70h1v1h-1zM317 71h1v1h-1zM321 71h1v1h-1zM329 71h1v1h-1zM332 71h3v1h-3zM336 71h1v1h-1zM348 71h1v1h-1zM351 71h2v1h-2zM356 71h1v1h-1zM322 72h1v1h-1zM325 72h1v1h-1zM327 72h4v1h-4zM347 72h1v1h-1zM349 72h1v1h-1zM352 72h1v1h-1zM356 72h1v1h-1zM364 72h1v1h-1zM318 73h2v1h-2zM328 73h1v1h-1zM331 73h2v1h-2zM349 73h1v1h-1zM353 73h1v1h-1zM358 73h1v1h-1zM360 73h1v1h-1zM364 73h1v1h-1zM317 74h1v1h-1zM320 74h1v1h-1zM322 74h1v1h-1zM324 74h1v1h-1zM327 74h2v1h-2zM334 74h1v1h-1zM347 74h2v1h-2zM350 74h2v1h-2zM356 74h2v1h-2zM363 74h1v1h-1zM319 75h1v1h-1zM323 75h1v1h-1zM328 75h1v1h-1zM331 75h1v1h-1zM348 75h1v1h-1zM350 75h1v1h-1zM358 75h1v1h-1zM320 76h1v1h-1zM322 76h1v1h-1zM324 76h1v1h-1zM326 76h2v1h-2zM345 76h1v1h-1zM356 76h2v1h-2zM360 76h1v1h-1zM319 77h1v1h-1zM323 77h1v1h-1zM327 77h1v1h-1zM331 77h2v1h-2zM348 77h1v1h-1zM352 77h1v1h-1zM357 77h3v1h-3zM320 78h1v1h-1zM324 78h1v1h-1zM329 78h1v1h-1zM331 78h1v1h-1zM343 78h1v1h-1zM347 78h1v1h-1zM351 78h1v1h-1zM354 78h1v1h-1zM356 78h1v1h-1zM329 79h1v1h-1zM343 79h1v1h-1zM348 79h1v1h-1zM351 79h1v1h-1zM355 79h1v1h-1zM359 79h1v1h-1zM317 80h1v1h-1zM324 80h1v1h-1zM329 80h1v1h-1zM342 80h2v1h-2zM346 80h2v1h-2zM352 80h1v1h-1zM356 80h1v1h-1zM360 80h1v1h-1zM318 81h2v1h-2zM321 81h1v1h-1zM329 81h1v1h-1zM343 81h1v1h-1zM353 81h3v1h-3zM357 81h2v1h-2zM360 81h1v1h-1zM321 82h1v1h-1zM325 82h4v1h-4zM343 82h2v1h-2zM353 82h1v1h-1zM319 83h2v1h-2zM327 83h2v1h-2zM340 83h1v1h-1zM349 83h1v1h-1zM352 83h2v1h-2zM355 83h2v1h-2zM318 84h1v1h-1zM323 84h2v1h-2zM327 84h1v1h-1zM341 84h1v1h-1zM345 84h2v1h-2zM350 84h1v1h-1zM321 85h2v1h-2zM325 85h1v1h-1zM339 85h1v1h-1zM343 85h3v1h-3zM349 85h1v1h-1zM356 85h1v1h-1zM320 86h1v1h-1zM322 86h2v1h-2zM338 86h1v1h-1zM349 86h1v1h-1zM351 86h1v1h-1zM355 86h1v1h-1zM325 87h1v1h-1zM339 87h1v1h-1zM341 87h2v1h-2zM345 87h1v1h-1zM351 87h1v1h-1zM321 88h2v1h-2zM325 88h1v1h-1zM338 88h1v1h-1zM342 88h1v1h-1zM348 88h1v1h-1zM353 88h1v1h-1zM343 89h1v1h-1zM346 89h1v1h-1zM324 90h1v1h-1zM341 90h1v1h-1zM347 90h1v1h-1zM335 91h1v1h-1zM329 92h1v1h-1z" fill="#8c0000" fill-opacity="0.16"/>
<path d="M352 55h2v1h-2zM349 56h1v1h-1zM354 56h1v1h-1zM345 57h1v1h-1zM349 57h1v1h-1zM336 58h1v1h-1zM342 58h1v1h-1zM356 58h1v1h-1zM334 59h1v1h-1zM339 59h1v1h-1zM359 59h2v1h-2zM363 59h1v1h-1zM326 60h1v1h-1zM329 60h1v1h-1zM365 60h2v1h-2zM322 61h1v1h-1zM330 61h1v1h-1zM368 61h1v1h-1zM324 63h1v1h-1zM317 66h1v1h-1zM365 67h1v1h-1zM317 68h2v1h-2zM366 68h1v1h-1zM317 69h2v1h-2zM365 69h1v1h-1zM317 70h1v1h-1zM318 71h1v1h-1zM363 74h1v1h-1zM361 75h1v1h-1zM318 76h1v1h-1zM361 76h1v1h-1zM317 78h1v1h-1zM319 78h1v1h-1zM317 80h1v1h-1zM359 82h1v1h-1zM318 83h1v1h-1zM357 83h1v1h-1zM318 85h1v1h-1zM320 85h1v1h-1zM354 85h2v1h-2zM319 86h1v1h-1zM351 87h1v1h-1zM320 88h2v1h-2zM353 88h1v1h-1zM336 89h1v1h-1zM344 89h1v1h-1zM352 89h1v1h-1zM321 90h3v1h-3zM326 90h1v1h-1zM341 90h1v1h-1zM347 90h1v1h-1zM324 91h1v1h-1zM337 91h2v1h-2zM340 91h2v1h-2zM334 92h1v1h-1z" fill="#fff" fill-opacity="0.5"/>
<path d="M319 61h1v1h-1zM312 62h1v1h-1zM369 63h1v1h-1zM303 65h1v1h-1zM312 65h1v1h-1zM314 65h1v1h-1zM297 66h1v1h-1zM308 66h1v1h-1zM316 66h1v1h-1zM372 66h1v1h-1zM313 67h1v1h-1zM299 68h1v1h-1zM312 68h1v1h-1zM385 68h1v1h-1zM311 69h1v1h-1zM385 69h1v1h-1zM293 70h1v1h-1zM305 70h1v1h-1zM373 70h1v1h-1zM310 71h1v1h-1zM313 71h2v1h-2zM393 71h1v1h-1zM304 72h1v1h-1zM375 72h1v1h-1zM381 72h1v1h-1zM300 73h1v1h-1zM311 75h1v1h-1zM365 75h3v1h-3zM302 76h1v1h-1zM316 76h1v1h-1zM392 76h1v1h-1zM308 77h1v1h-1zM310 77h1v1h-1zM314 77h1v1h-1zM364 77h2v1h-2zM372 77h1v1h-1zM379 77h2v1h-2zM363 78h1v1h-1zM364 79h1v1h-1zM391 79h1v1h-1zM366 80h1v1h-1zM371 80h1v1h-1zM315 81h1v1h-1zM366 81h1v1h-1zM383 81h1v1h-1zM314 82h1v1h-1zM317 82h1v1h-1zM369 82h1v1h-1zM372 82h1v1h-1zM307 83h1v1h-1zM364 83h1v1h-1zM375 84h1v1h-1zM359 85h1v1h-1zM314 86h1v1h-1zM317 86h2v1h-2zM359 86h1v1h-1zM320 89h1v1h-1z" fill="#ff0000" fill-opacity="0.25"/>
<path d="M346 56h1v1h-1zM317 61h1v1h-1zM315 62h1v1h-1zM376 62h1v1h-1zM315 64h1v1h-1zM384 65h1v1h-1zM311 66h1v1h-1zM370 66h1v1h-1zM369 67h1v1h-1zM381 67h1v1h-1zM309 69h1v1h-1zM315 69h1v1h-1zM297 70h1v1h-1zM306 70h1v1h-1zM366 70h1v1h-1zM368 70h1v1h-1zM375 70h1v1h-1zM380 70h1v1h-1zM391 70h1v1h-1zM396 70h1v1h-1zM312 71h1v1h-1zM316 71h1v1h-1zM369 71h1v1h-1zM369 72h1v1h-1zM377 72h1v1h-1zM387 72h1v1h-1zM391 72h1v1h-1zM392 73h1v1h-1zM374 74h1v1h-1zM377 74h1v1h-1zM380 74h1v1h-1zM306 75h1v1h-1zM374 75h1v1h-1zM386 75h1v1h-1zM364 76h1v1h-1zM366 76h1v1h-1zM385 76h1v1h-1zM390 76h1v1h-1zM381 77h1v1h-1zM388 77h1v1h-1zM365 78h1v1h-1zM314 79h1v1h-1zM366 79h1v1h-1zM372 80h2v1h-2zM384 80h1v1h-1zM386 80h1v1h-1zM360 82h1v1h-1zM315 83h1v1h-1zM366 83h1v1h-1zM371 83h1v1h-1zM317 85h1v1h-1zM315 86h1v1h-1zM364 87h1v1h-1zM359 88h1v1h-1z" fill="#ff0000" fill-opacity="0.45"/>
<path d="M324 60h1v1h-1zM371 60h1v1h-1zM314 62h1v1h-1zM371 62h1v1h-1zM372 63h1v1h-1zM311 64h1v1h-1zM370 64h1v1h-1zM301 66h1v1h-1zM374 66h1v1h-1zM372 67h1v1h-1zM382 67h1v1h-1zM386 67h1v1h-1zM296 68h1v1h-1zM313 68h1v1h-1zM374 69h1v1h-1zM380 69h1v1h-1zM296 70h1v1h-1zM313 70h1v1h-1zM374 70h1v1h-1zM385 70h1v1h-1zM368 71h1v1h-1zM296 72h1v1h-1zM301 72h1v1h-1zM307 72h1v1h-1zM365 72h1v1h-1zM376 72h1v1h-1zM390 72h1v1h-1zM302 73h1v1h-1zM308 73h1v1h-1zM311 73h1v1h-1zM316 73h1v1h-1zM381 73h1v1h-1zM386 73h1v1h-1zM310 74h1v1h-1zM316 74h1v1h-1zM391 74h1v1h-1zM304 75h1v1h-1zM364 75h1v1h-1zM376 75h1v1h-1zM365 76h1v1h-1zM367 77h1v1h-1zM377 77h1v1h-1zM315 78h1v1h-1zM364 78h1v1h-1zM374 78h1v1h-1zM381 78h1v1h-1zM305 79h1v1h-1zM367 79h1v1h-1zM375 79h1v1h-1zM382 79h1v1h-1zM313 80h1v1h-1zM368 80h1v1h-1zM361 81h1v1h-1zM361 83h1v1h-1zM365 83h1v1h-1zM313 84h1v1h-1zM378 84h1v1h-1zM313 85h2v1h-2zM370 85h1v1h-1zM313 86h1v1h-1zM310 87h1v1h-1zM313 87h1v1h-1zM359 87h1v1h-1zM362 87h1v1h-1zM316 88h1v1h-1z" fill="#ff0000" fill-opacity="0.65"/>
<path d="M370 60h1v1h-1zM370 62h1v1h-1zM314 63h2v1h-2zM386 64h1v1h-1zM304 65h1v1h-1zM372 65h1v1h-1zM374 65h1v1h-1zM376 65h1v1h-1zM307 66h1v1h-1zM304 67h1v1h-1zM367 67h2v1h-2zM370 67h1v1h-1zM379 67h1v1h-1zM300 68h1v1h-1zM368 68h1v1h-1zM376 68h1v1h-1zM378 68h1v1h-1zM383 68h1v1h-1zM312 69h1v1h-1zM316 69h1v1h-1zM376 69h1v1h-1zM298 70h1v1h-1zM312 70h1v1h-1zM315 70h1v1h-1zM392 70h1v1h-1zM375 71h1v1h-1zM384 71h1v1h-1zM312 72h1v1h-1zM377 73h1v1h-1zM391 73h1v1h-1zM372 74h2v1h-2zM312 75h1v1h-1zM381 75h1v1h-1zM391 75h1v1h-1zM298 76h1v1h-1zM307 77h1v1h-1zM368 77h1v1h-1zM311 78h1v1h-1zM382 78h1v1h-1zM316 79h1v1h-1zM373 79h1v1h-1zM303 80h1v1h-1zM316 80h1v1h-1zM313 81h1v1h-1zM316 81h1v1h-1zM365 81h1v1h-1zM379 81h1v1h-1zM370 82h1v1h-1zM306 83h1v1h-1zM313 83h1v1h-1zM363 83h1v1h-1zM367 83h1v1h-1zM316 84h1v1h-1zM361 84h1v1h-1zM360 85h1v1h-1zM363 85h1v1h-1zM311 86h1v1h-1zM368 86h1v1h-1zM314 87h1v1h-1zM313 88h1v1h-1zM353 89h1v1h-1z" fill="#ff0000" fill-opacity="0.85"/>
<g filter="url(#rb)">
<path d="M328.18 92.64 329.54 89.03 330.9 85.42 332.25 81.81 333.61 78.2 335.84 74.59 338.11 70.98 340.39 67.37 342.66 63.76 344.93 60.15 347.2 56.55 356.2 56.55 353.93 60.15 351.66 63.76 349.39 67.37 347.11 70.98 344.84 74.59 342.55 78.2 339.82 81.81 337.08 85.42 334.35 89.03 331.62 92.64Z" fill="#8c0000" fill-opacity="0.22"/>
<path d="M328.64 92.64 330.18 89.03 331.72 85.42 333.26 81.81 334.8 78.2 337.04 74.59 339.31 70.98 341.59 67.37 343.86 63.76 346.13 60.15 348.4 56.55 355.2 56.55 352.93 60.15 350.66 63.76 348.39 67.37 346.11 70.98 343.84 74.59 341.55 78.2 338.98 81.81 336.4 85.42 333.82 89.03 331.24 92.64Z" fill="#8c0000" fill-opacity="0.2"/>
<path d="M328.38 92.64 329.81 89.03 331.24 85.42 332.67 81.81 334.1 78.2 336.34 74.59 338.61 70.98 340.89 67.37 343.16 63.76 345.43 60.15 347.7 56.55 350.2 56.55 347.93 60.15 345.66 63.76 343.39 67.37 341.11 70.98 338.84 74.59 336.59 78.2 334.77 81.81 332.96 85.42 331.14 89.03 329.33 92.64Z" fill="#8c0000" fill-opacity="0.15"/>
<path d="M349 56h1v1h-1zM346 57h1v1h-1zM348 57h1v1h-1zM354 57h1v1h-1zM349 58h1v1h-1zM351 58h1v1h-1zM345 59h1v1h-1zM349 60h1v1h-1zM353 60h2v1h-2zM343 61h1v1h-1zM348 62h1v1h-1zM343 63h1v1h-1zM346 63h1v1h-1zM352 63h1v1h-1zM342 64h1v1h-1zM345 64h1v1h-1zM348 64h1v1h-1zM346 65h1v1h-1zM349 65h1v1h-1zM345 66h2v1h-2zM349 66h1v1h-1zM340 67h1v1h-1zM343 67h1v1h-1zM349 67h1v1h-1zM340 68h2v1h-2zM348 68h1v1h-1zM338 69h2v1h-2zM345 69h2v1h-2zM343 70h2v1h-2zM347 70h1v1h-1zM340 71h1v1h-1zM345 71h1v1h-1zM347 71h1v1h-1zM336 72h1v1h-1zM338 72h1v1h-1zM343 74h1v1h-1zM336 75h1v1h-1zM338 75h2v1h-2zM342 75h3v1h-3zM335 76h1v1h-1zM333 77h1v1h-1zM337 77h2v1h-2zM340 77h2v1h-2zM341 78h1v1h-1zM334 79h2v1h-2zM338 79h1v1h-1zM332 80h1v1h-1zM336 80h1v1h-1zM331 81h1v1h-1zM333 81h1v1h-1zM336 81h1v1h-1zM331 83h2v1h-2zM330 84h1v1h-1zM339 84h1v1h-1zM328 85h1v1h-1zM332 86h1v1h-1zM328 87h1v1h-1zM331 87h1v1h-1zM335 88h1v1h-1zM332 89h2v1h-2zM335 89h1v1h-1zM325 90h1v1h-1z" fill="#8c0000" fill-opacity="0.2"/>
<path d="M348 56h1v1h-1zM355 57h1v1h-1zM355 58h1v1h-1zM350 59h1v1h-1zM352 59h1v1h-1zM349 61h1v1h-1zM352 61h1v1h-1zM347 62h1v1h-1zM350 62h2v1h-2zM342 63h1v1h-1zM344 63h1v1h-1zM341 64h1v1h-1zM343 65h3v1h-3zM348 65h1v1h-1zM342 67h1v1h-1zM344 67h1v1h-1zM339 68h1v1h-1zM349 68h1v1h-1zM340 69h2v1h-2zM346 70h1v1h-1zM337 71h1v1h-1zM341 72h1v1h-1zM343 72h1v1h-1zM339 73h1v1h-1zM345 73h1v1h-1zM337 74h1v1h-1zM341 75h1v1h-1zM338 76h1v1h-1zM344 76h1v1h-1zM335 77h1v1h-1zM337 78h3v1h-3zM336 79h1v1h-1zM335 80h1v1h-1zM340 80h1v1h-1zM340 81h1v1h-1zM331 82h1v1h-1zM336 82h3v1h-3zM340 82h1v1h-1zM336 83h1v1h-1zM332 84h2v1h-2zM332 85h1v1h-1zM334 85h4v1h-4zM327 87h1v1h-1zM333 87h3v1h-3zM329 88h1v1h-1zM334 88h1v1h-1zM326 89h1v1h-1zM333 90h1v1h-1zM325 91h1v1h-1zM334 91h1v1h-1z" fill="#8c0000" fill-opacity="0.35"/>
</g>
<rect x="330.1" y="45.3" width="2" height="46.35" fill="#c30000"/>
<rect x="352.05" y="29.3" width="1.9" height="27.57" fill="#c30000"/>
<path d="M351.7 49.8L354.3 49.8L355.05 51L355.05 57.37L350.95 57.37L350.95 51Z" fill="#c30000"/>
<line x1="505.36" y1="68.43" x2="505.36" y2="21.83" stroke="#e4e4e4" stroke-width="0.7"/>
<line x1="525.13" y1="65.22" x2="525.13" y2="18.62" stroke="#e4e4e4" stroke-width="0.7"/>
<line x1="544.89" y1="62" x2="544.89" y2="15.4" stroke="#e4e4e4" stroke-width="0.7"/>
<line x1="564.66" y1="58.79" x2="564.66" y2="12.19" stroke="#e4e4e4" stroke-width="0.7"/>
<line x1="584.42" y1="55.57" x2="584.42" y2="8.97" stroke="#e4e4e4" stroke-width="0.7"/>
<line x1="485.6" y1="57.63" x2="586.4" y2="41.23" stroke="#e4e4e4" stroke-width="0.7"/>
<line x1="485.6" y1="43.62" x2="586.4" y2="27.22" stroke="#e4e4e4" stroke-width="0.7"/>
<line x1="485.6" y1="29.6" x2="586.4" y2="13.2" stroke="#e4e4e4" stroke-width="0.7"/>
<line x1="648.3" y1="72.45" x2="648.3" y2="25.85" stroke="#e4e4e4" stroke-width="0.7"/>
<line x1="633.2" y1="68.26" x2="633.2" y2="21.66" stroke="#e4e4e4" stroke-width="0.7"/>
<line x1="618.11" y1="64.06" x2="618.11" y2="17.46" stroke="#e4e4e4" stroke-width="0.7"/>
<line x1="603.01" y1="59.87" x2="603.01" y2="13.27" stroke="#e4e4e4" stroke-width="0.7"/>
<line x1="587.91" y1="55.67" x2="587.91" y2="9.07" stroke="#e4e4e4" stroke-width="0.7"/>
<line x1="663.4" y1="62.63" x2="586.4" y2="41.23" stroke="#e4e4e4" stroke-width="0.7"/>
<line x1="663.4" y1="48.62" x2="586.4" y2="27.22" stroke="#e4e4e4" stroke-width="0.7"/>
<line x1="663.4" y1="34.6" x2="586.4" y2="13.2" stroke="#e4e4e4" stroke-width="0.7"/>
<line x1="582.36" y1="89.83" x2="505.36" y2="68.43" stroke="#ececec" stroke-width="0.7"/>
<line x1="602.13" y1="86.62" x2="525.13" y2="65.22" stroke="#ececec" stroke-width="0.7"/>
<line x1="621.89" y1="83.4" x2="544.89" y2="62" stroke="#ececec" stroke-width="0.7"/>
<line x1="641.66" y1="80.19" x2="564.66" y2="58.79" stroke="#ececec" stroke-width="0.7"/>
<line x1="661.42" y1="76.97" x2="584.42" y2="55.57" stroke="#ececec" stroke-width="0.7"/>
<line x1="547.5" y1="88.85" x2="648.3" y2="72.45" stroke="#ececec" stroke-width="0.7"/>
<line x1="532.4" y1="84.66" x2="633.2" y2="68.26" stroke="#ececec" stroke-width="0.7"/>
<line x1="517.31" y1="80.46" x2="618.11" y2="64.06" stroke="#ececec" stroke-width="0.7"/>
<line x1="502.21" y1="76.27" x2="603.01" y2="59.87" stroke="#ececec" stroke-width="0.7"/>
<line x1="487.11" y1="72.07" x2="587.91" y2="55.67" stroke="#ececec" stroke-width="0.7"/>
<line x1="586.4" y1="55.25" x2="586.4" y2="8.65" stroke="#9a9a9a" stroke-width="0.8"/>
<line x1="485.6" y1="71.65" x2="586.4" y2="55.25" stroke="#505050" stroke-width="0.75"/>
<line x1="663.4" y1="76.65" x2="586.4" y2="55.25" stroke="#505050" stroke-width="0.75"/>
<line x1="485.6" y1="71.65" x2="485.6" y2="25.05" stroke="#505050" stroke-width="0.75"/>
<line x1="485.6" y1="25.05" x2="586.4" y2="8.65" stroke="#505050" stroke-width="0.75"/>
<line x1="586.4" y1="8.65" x2="663.4" y2="30.05" stroke="#505050" stroke-width="0.75"/>
<line x1="663.4" y1="76.65" x2="663.4" y2="30.05" stroke="#505050" stroke-width="0.75"/>
<line x1="562.6" y1="93.05" x2="663.4" y2="76.65" stroke="#505050" stroke-width="0.75"/>
<line x1="562.6" y1="93.05" x2="485.6" y2="71.65" stroke="#505050" stroke-width="0.75"/>
<line x1="483.6" y1="71.65" x2="485.6" y2="71.65" stroke="#505050" stroke-width="0.7"/>
<text x="481.4" y="73.65" font-size="5.6" text-anchor="end" font-weight="normal" fill="#484848" font-family="'Liberation Sans', sans-serif">0</text>
<line x1="483.6" y1="57.63" x2="485.6" y2="57.63" stroke="#505050" stroke-width="0.7"/>
<text x="481.4" y="59.63" font-size="5.6" text-anchor="end" font-weight="normal" fill="#484848" font-family="'Liberation Sans', sans-serif">2</text>
<line x1="483.6" y1="43.62" x2="485.6" y2="43.62" stroke="#505050" stroke-width="0.7"/>
<text x="481.4" y="45.62" font-size="5.6" text-anchor="end" font-weight="normal" fill="#484848" font-family="'Liberation Sans', sans-serif">4</text>
<line x1="483.6" y1="29.6" x2="485.6" y2="29.6" stroke="#505050" stroke-width="0.7"/>
<text x="481.4" y="31.6" font-size="5.6" text-anchor="end" font-weight="normal" fill="#484848" font-family="'Liberation Sans', sans-serif">6</text>
<text x="567.1" y="99.05" font-size="5.6" text-anchor="start" font-weight="normal" fill="#484848" font-family="'Liberation Sans', sans-serif">0</text>
<text x="586.86" y="95.83" font-size="5.6" text-anchor="start" font-weight="normal" fill="#484848" font-family="'Liberation Sans', sans-serif">50</text>
<line x1="582.36" y1="89.83" x2="583.91" y2="90.26" stroke="#505050" stroke-width="0.6"/>
<text x="606.63" y="92.62" font-size="5.6" text-anchor="start" font-weight="normal" fill="#484848" font-family="'Liberation Sans', sans-serif">100</text>
<line x1="602.13" y1="86.62" x2="603.67" y2="87.05" stroke="#505050" stroke-width="0.6"/>
<text x="626.39" y="89.4" font-size="5.6" text-anchor="start" font-weight="normal" fill="#484848" font-family="'Liberation Sans', sans-serif">150</text>
<line x1="621.89" y1="83.4" x2="623.44" y2="83.83" stroke="#505050" stroke-width="0.6"/>
<text x="646.16" y="86.19" font-size="5.6" text-anchor="start" font-weight="normal" fill="#484848" font-family="'Liberation Sans', sans-serif">200</text>
<line x1="641.66" y1="80.19" x2="643.2" y2="80.62" stroke="#505050" stroke-width="0.6"/>
<text x="665.92" y="82.97" font-size="5.6" text-anchor="start" font-weight="normal" fill="#484848" font-family="'Liberation Sans', sans-serif">250</text>
<line x1="661.42" y1="76.97" x2="662.97" y2="77.4" stroke="#505050" stroke-width="0.6"/>
<line x1="547.5" y1="88.85" x2="545.92" y2="89.11" stroke="#505050" stroke-width="0.6"/>
<line x1="532.4" y1="84.66" x2="530.82" y2="84.91" stroke="#505050" stroke-width="0.6"/>
<line x1="517.31" y1="80.46" x2="515.73" y2="80.72" stroke="#505050" stroke-width="0.6"/>
<line x1="502.21" y1="76.27" x2="500.63" y2="76.52" stroke="#505050" stroke-width="0.6"/>
<line x1="487.11" y1="72.07" x2="485.53" y2="72.33" stroke="#505050" stroke-width="0.6"/>
<text x="558.5" y="99.05" font-size="5.6" text-anchor="end" font-weight="normal" fill="#484848" font-family="'Liberation Sans', sans-serif">0</text>
<text x="543.4" y="94.85" font-size="5.6" text-anchor="end" font-weight="normal" fill="#484848" font-family="'Liberation Sans', sans-serif">50</text>
<text x="528.3" y="90.66" font-size="5.6" text-anchor="end" font-weight="normal" fill="#484848" font-family="'Liberation Sans', sans-serif">100</text>
<text x="513.21" y="86.46" font-size="5.6" text-anchor="end" font-weight="normal" fill="#484848" font-family="'Liberation Sans', sans-serif">150</text>
<text x="498.11" y="82.27" font-size="5.6" text-anchor="end" font-weight="normal" fill="#484848" font-family="'Liberation Sans', sans-serif">200</text>
<text x="483.01" y="78.07" font-size="5.6" text-anchor="end" font-weight="normal" fill="#484848" font-family="'Liberation Sans', sans-serif">250</text>
<text x="471.7" y="17.25" font-size="6.8" text-anchor="start" font-weight="normal" fill="#444" font-family="'Liberation Serif', serif">×10<tspan font-size="4.2" dy="-2.4">4</tspan></text>
<text x="574.5" y="6.15" font-size="6.43" text-anchor="middle" font-weight="bold" fill="#262626" font-family="'Liberation Sans', sans-serif">Pixel Distribution (Diagonal-wise) of Original Image - Red component</text>
<text x="524.1" y="114.15" font-size="6.15" text-anchor="middle" font-weight="normal" fill="#484848" font-family="'Liberation Sans', sans-serif">Pixel value on location (x+1,y+1)</text>
<text x="613" y="108.05" font-size="6.15" text-anchor="middle" font-weight="normal" fill="#484848" font-family="'Liberation Sans', sans-serif">Pixel value on location (x,y)</text>
<path d="M577.6 89.05 586 86.05 593.5 82.85 598.9 78.55 601.1 73.15 602.1 67.75 605.4 62.45 606.6 60.05 586.4 54.85 540.1 63.15 542.1 69.35 543.2 77.55 545 84.65 550.9 89.35 562.6 93.05Z" fill="#ff0000"/>
<path d="M583 55h3v1h-3zM587 55h1v1h-1zM577 56h1v1h-1zM590 56h1v1h-1zM575 57h1v1h-1zM577 57h1v1h-1zM589 57h3v1h-3zM593 57h1v1h-1zM566 58h3v1h-3zM570 58h1v1h-1zM573 58h1v1h-1zM589 58h1v1h-1zM593 58h1v1h-1zM597 58h1v1h-1zM562 59h1v1h-1zM564 59h2v1h-2zM567 59h1v1h-1zM569 59h1v1h-1zM571 59h1v1h-1zM576 59h1v1h-1zM588 59h1v1h-1zM591 59h1v1h-1zM594 59h3v1h-3zM598 59h1v1h-1zM600 59h3v1h-3zM555 60h3v1h-3zM562 60h1v1h-1zM564 60h1v1h-1zM567 60h3v1h-3zM571 60h1v1h-1zM573 60h2v1h-2zM591 60h3v1h-3zM596 60h1v1h-1zM602 60h1v1h-1zM605 60h1v1h-1zM550 61h1v1h-1zM552 61h3v1h-3zM557 61h6v1h-6zM567 61h2v1h-2zM570 61h1v1h-1zM573 61h1v1h-1zM589 61h1v1h-1zM591 61h1v1h-1zM595 61h1v1h-1zM597 61h1v1h-1zM599 61h4v1h-4zM544 62h1v1h-1zM546 62h1v1h-1zM548 62h1v1h-1zM551 62h3v1h-3zM555 62h1v1h-1zM557 62h3v1h-3zM562 62h1v1h-1zM564 62h1v1h-1zM569 62h1v1h-1zM571 62h2v1h-2zM590 62h1v1h-1zM593 62h1v1h-1zM596 62h2v1h-2zM601 62h1v1h-1zM540 63h4v1h-4zM548 63h1v1h-1zM554 63h2v1h-2zM557 63h3v1h-3zM561 63h2v1h-2zM565 63h1v1h-1zM585 63h1v1h-1zM590 63h1v1h-1zM592 63h3v1h-3zM596 63h2v1h-2zM600 63h1v1h-1zM602 63h2v1h-2zM541 64h3v1h-3zM545 64h1v1h-1zM550 64h4v1h-4zM555 64h1v1h-1zM559 64h1v1h-1zM561 64h1v1h-1zM564 64h1v1h-1zM568 64h4v1h-4zM573 64h1v1h-1zM585 64h2v1h-2zM591 64h2v1h-2zM595 64h1v1h-1zM600 64h1v1h-1zM602 64h2v1h-2zM547 65h1v1h-1zM550 65h5v1h-5zM558 65h1v1h-1zM561 65h3v1h-3zM565 65h1v1h-1zM571 65h1v1h-1zM584 65h1v1h-1zM586 65h1v1h-1zM588 65h3v1h-3zM592 65h2v1h-2zM599 65h1v1h-1zM601 65h3v1h-3zM546 66h1v1h-1zM549 66h2v1h-2zM552 66h2v1h-2zM556 66h4v1h-4zM562 66h2v1h-2zM565 66h1v1h-1zM567 66h5v1h-5zM586 66h1v1h-1zM593 66h1v1h-1zM595 66h2v1h-2zM599 66h2v1h-2zM542 67h1v1h-1zM544 67h1v1h-1zM548 67h2v1h-2zM551 67h1v1h-1zM555 67h2v1h-2zM559 67h2v1h-2zM566 67h2v1h-2zM571 67h1v1h-1zM583 67h2v1h-2zM588 67h2v1h-2zM593 67h1v1h-1zM599 67h3v1h-3zM547 68h3v1h-3zM551 68h5v1h-5zM557 68h1v1h-1zM560 68h5v1h-5zM566 68h1v1h-1zM582 68h3v1h-3zM592 68h3v1h-3zM597 68h1v1h-1zM599 68h1v1h-1zM542 69h2v1h-2zM546 69h3v1h-3zM553 69h1v1h-1zM555 69h1v1h-1zM560 69h1v1h-1zM564 69h1v1h-1zM583 69h1v1h-1zM585 69h1v1h-1zM592 69h1v1h-1zM597 69h2v1h-2zM601 69h1v1h-1zM542 70h2v1h-2zM546 70h1v1h-1zM549 70h3v1h-3zM554 70h1v1h-1zM558 70h1v1h-1zM561 70h1v1h-1zM566 70h3v1h-3zM581 70h1v1h-1zM583 70h4v1h-4zM588 70h3v1h-3zM595 70h1v1h-1zM601 70h1v1h-1zM542 71h2v1h-2zM549 71h1v1h-1zM553 71h2v1h-2zM556 71h1v1h-1zM559 71h1v1h-1zM567 71h1v1h-1zM582 71h2v1h-2zM586 71h1v1h-1zM590 71h3v1h-3zM594 71h1v1h-1zM545 72h2v1h-2zM548 72h4v1h-4zM554 72h1v1h-1zM556 72h2v1h-2zM559 72h1v1h-1zM566 72h2v1h-2zM580 72h2v1h-2zM583 72h2v1h-2zM588 72h1v1h-1zM592 72h3v1h-3zM596 72h1v1h-1zM599 72h1v1h-1zM546 73h2v1h-2zM550 73h2v1h-2zM553 73h2v1h-2zM556 73h8v1h-8zM580 73h2v1h-2zM585 73h1v1h-1zM587 73h1v1h-1zM589 73h5v1h-5zM595 73h1v1h-1zM598 73h1v1h-1zM543 74h1v1h-1zM546 74h1v1h-1zM549 74h2v1h-2zM552 74h1v1h-1zM554 74h1v1h-1zM556 74h1v1h-1zM559 74h1v1h-1zM561 74h3v1h-3zM578 74h2v1h-2zM583 74h1v1h-1zM586 74h1v1h-1zM593 74h2v1h-2zM596 74h3v1h-3zM545 75h1v1h-1zM549 75h1v1h-1zM554 75h3v1h-3zM559 75h2v1h-2zM564 75h2v1h-2zM578 75h3v1h-3zM588 75h1v1h-1zM591 75h1v1h-1zM596 75h1v1h-1zM543 76h3v1h-3zM547 76h1v1h-1zM550 76h1v1h-1zM553 76h2v1h-2zM559 76h3v1h-3zM563 76h1v1h-1zM565 76h1v1h-1zM581 76h3v1h-3zM585 76h4v1h-4zM591 76h5v1h-5zM598 76h1v1h-1zM544 77h1v1h-1zM548 77h1v1h-1zM550 77h2v1h-2zM553 77h1v1h-1zM558 77h1v1h-1zM561 77h1v1h-1zM564 77h1v1h-1zM576 77h1v1h-1zM580 77h1v1h-1zM583 77h1v1h-1zM585 77h2v1h-2zM590 77h2v1h-2zM598 77h1v1h-1zM543 78h3v1h-3zM547 78h3v1h-3zM551 78h1v1h-1zM553 78h1v1h-1zM555 78h2v1h-2zM559 78h1v1h-1zM562 78h1v1h-1zM564 78h1v1h-1zM577 78h1v1h-1zM579 78h1v1h-1zM582 78h2v1h-2zM588 78h1v1h-1zM591 78h2v1h-2zM596 78h3v1h-3zM544 79h3v1h-3zM548 79h1v1h-1zM550 79h3v1h-3zM559 79h1v1h-1zM561 79h1v1h-1zM575 79h1v1h-1zM577 79h2v1h-2zM586 79h1v1h-1zM588 79h1v1h-1zM595 79h2v1h-2zM546 80h5v1h-5zM554 80h1v1h-1zM557 80h1v1h-1zM563 80h1v1h-1zM579 80h3v1h-3zM583 80h2v1h-2zM587 80h2v1h-2zM590 80h4v1h-4zM544 81h2v1h-2zM549 81h2v1h-2zM554 81h3v1h-3zM558 81h1v1h-1zM561 81h2v1h-2zM574 81h2v1h-2zM577 81h1v1h-1zM580 81h1v1h-1zM582 81h1v1h-1zM585 81h1v1h-1zM587 81h1v1h-1zM590 81h2v1h-2zM594 81h1v1h-1zM544 82h1v1h-1zM548 82h2v1h-2zM551 82h1v1h-1zM554 82h1v1h-1zM556 82h1v1h-1zM561 82h1v1h-1zM573 82h3v1h-3zM577 82h2v1h-2zM583 82h1v1h-1zM587 82h1v1h-1zM589 82h1v1h-1zM591 82h1v1h-1zM547 83h1v1h-1zM549 83h1v1h-1zM555 83h1v1h-1zM559 83h1v1h-1zM561 83h1v1h-1zM578 83h1v1h-1zM581 83h1v1h-1zM583 83h2v1h-2zM587 83h1v1h-1zM591 83h1v1h-1zM548 84h2v1h-2zM551 84h5v1h-5zM557 84h1v1h-1zM572 84h1v1h-1zM575 84h2v1h-2zM578 84h2v1h-2zM581 84h1v1h-1zM583 84h1v1h-1zM587 84h1v1h-1zM589 84h1v1h-1zM547 85h1v1h-1zM549 85h1v1h-1zM552 85h1v1h-1zM558 85h1v1h-1zM572 85h3v1h-3zM579 85h3v1h-3zM583 85h3v1h-3zM547 86h1v1h-1zM549 86h2v1h-2zM552 86h1v1h-1zM554 86h1v1h-1zM558 86h2v1h-2zM572 86h3v1h-3zM576 86h2v1h-2zM580 86h3v1h-3zM549 87h2v1h-2zM555 87h1v1h-1zM571 87h1v1h-1zM575 87h1v1h-1zM578 87h1v1h-1zM581 87h1v1h-1zM550 88h4v1h-4zM555 88h1v1h-1zM570 88h1v1h-1zM573 88h2v1h-2zM576 88h1v1h-1zM552 89h3v1h-3zM556 89h2v1h-2zM569 89h1v1h-1zM571 89h3v1h-3zM568 90h1v1h-1zM571 90h1v1h-1zM561 92h1v1h-1z" fill="#8c0000" fill-opacity="0.2"/>
<path d="M584 55h1v1h-1zM579 56h1v1h-1zM583 56h1v1h-1zM586 56h4v1h-4zM572 57h2v1h-2zM584 57h1v1h-1zM589 57h2v1h-2zM595 57h1v1h-1zM566 58h1v1h-1zM568 58h1v1h-1zM570 58h1v1h-1zM572 58h1v1h-1zM577 58h2v1h-2zM596 58h1v1h-1zM560 59h1v1h-1zM563 59h1v1h-1zM596 59h1v1h-1zM600 59h1v1h-1zM602 59h1v1h-1zM555 60h1v1h-1zM559 60h1v1h-1zM561 60h1v1h-1zM549 61h1v1h-1zM558 61h2v1h-2zM562 61h1v1h-1zM605 61h1v1h-1zM548 62h1v1h-1zM550 62h1v1h-1zM552 62h3v1h-3zM545 63h1v1h-1zM546 64h1v1h-1zM603 64h1v1h-1zM601 65h1v1h-1zM542 67h1v1h-1zM600 67h1v1h-1zM544 68h1v1h-1zM543 71h1v1h-1zM544 72h1v1h-1zM598 73h1v1h-1zM598 74h1v1h-1zM600 74h1v1h-1zM596 78h1v1h-1zM598 78h1v1h-1zM596 79h1v1h-1zM595 80h1v1h-1zM545 81h1v1h-1zM594 81h1v1h-1zM545 83h1v1h-1zM587 83h1v1h-1zM591 83h1v1h-1zM545 84h1v1h-1zM547 84h1v1h-1zM547 86h1v1h-1zM581 86h1v1h-1zM584 86h1v1h-1zM578 87h1v1h-1zM580 87h1v1h-1zM570 88h1v1h-1zM572 88h1v1h-1zM575 88h1v1h-1zM567 89h1v1h-1zM575 89h1v1h-1zM564 90h1v1h-1zM568 90h1v1h-1zM561 91h1v1h-1zM563 91h1v1h-1zM565 91h3v1h-3zM561 92h1v1h-1z" fill="#fff" fill-opacity="0.5"/>
<path d="M559 59h1v1h-1zM553 60h1v1h-1zM548 61h1v1h-1zM606 61h1v1h-1zM535 63h1v1h-1zM537 63h1v1h-1zM539 63h1v1h-1zM606 63h2v1h-2zM533 64h1v1h-1zM538 64h1v1h-1zM606 64h2v1h-2zM610 64h1v1h-1zM530 65h1v1h-1zM537 65h1v1h-1zM539 65h1v1h-1zM606 65h1v1h-1zM610 65h1v1h-1zM527 66h1v1h-1zM533 66h1v1h-1zM538 66h1v1h-1zM540 66h1v1h-1zM604 66h1v1h-1zM610 66h1v1h-1zM613 66h2v1h-2zM620 66h1v1h-1zM537 67h1v1h-1zM539 67h1v1h-1zM606 67h1v1h-1zM612 67h2v1h-2zM625 67h1v1h-1zM604 68h1v1h-1zM608 68h2v1h-2zM611 68h1v1h-1zM614 68h1v1h-1zM523 69h1v1h-1zM527 69h1v1h-1zM533 69h1v1h-1zM536 69h3v1h-3zM611 69h1v1h-1zM602 70h2v1h-2zM610 70h1v1h-1zM626 70h1v1h-1zM520 71h1v1h-1zM529 71h1v1h-1zM535 71h1v1h-1zM539 71h1v1h-1zM602 71h1v1h-1zM622 71h1v1h-1zM630 71h1v1h-1zM525 72h1v1h-1zM528 72h1v1h-1zM537 72h1v1h-1zM541 72h1v1h-1zM608 72h1v1h-1zM611 72h1v1h-1zM614 72h1v1h-1zM515 73h1v1h-1zM526 73h1v1h-1zM541 73h1v1h-1zM606 73h2v1h-2zM609 73h1v1h-1zM613 73h1v1h-1zM616 73h1v1h-1zM619 73h1v1h-1zM525 74h1v1h-1zM530 74h1v1h-1zM533 74h1v1h-1zM542 74h1v1h-1zM603 74h2v1h-2zM611 74h1v1h-1zM615 74h1v1h-1zM618 74h1v1h-1zM536 75h1v1h-1zM541 75h1v1h-1zM602 75h1v1h-1zM608 75h1v1h-1zM612 75h1v1h-1zM531 76h1v1h-1zM606 76h1v1h-1zM608 76h1v1h-1zM611 76h1v1h-1zM618 76h1v1h-1zM525 77h1v1h-1zM531 77h1v1h-1zM611 77h2v1h-2zM623 77h1v1h-1zM527 78h1v1h-1zM534 78h1v1h-1zM540 78h1v1h-1zM604 78h2v1h-2zM607 78h1v1h-1zM535 79h1v1h-1zM541 79h1v1h-1zM604 80h2v1h-2zM609 80h1v1h-1zM598 81h1v1h-1zM606 81h2v1h-2zM537 82h1v1h-1zM539 82h1v1h-1zM543 82h1v1h-1zM597 82h1v1h-1zM602 82h1v1h-1zM604 82h2v1h-2zM537 83h1v1h-1zM543 83h1v1h-1zM595 83h1v1h-1zM606 83h1v1h-1zM537 84h1v1h-1zM543 84h1v1h-1zM595 84h1v1h-1zM536 85h2v1h-2zM592 85h2v1h-2zM595 85h1v1h-1zM597 85h1v1h-1zM600 85h1v1h-1zM541 86h1v1h-1zM544 86h1v1h-1zM589 86h2v1h-2zM597 86h1v1h-1zM543 87h1v1h-1zM548 87h1v1h-1zM586 87h1v1h-1zM590 87h1v1h-1zM593 87h1v1h-1zM547 88h1v1h-1zM549 88h1v1h-1zM581 88h2v1h-2zM585 88h1v1h-1zM550 89h1v1h-1zM578 89h2v1h-2zM581 89h1v1h-1zM583 89h1v1h-1zM554 90h1v1h-1zM570 91h1v1h-1z" fill="#ff0000" fill-opacity="0.25"/>
<path d="M552 60h1v1h-1zM554 60h1v1h-1zM540 62h2v1h-2zM606 62h1v1h-1zM608 62h1v1h-1zM610 62h1v1h-1zM536 63h1v1h-1zM532 64h1v1h-1zM537 64h1v1h-1zM605 64h1v1h-1zM609 64h1v1h-1zM533 65h1v1h-1zM540 65h1v1h-1zM607 65h1v1h-1zM611 65h1v1h-1zM617 65h1v1h-1zM526 66h1v1h-1zM607 66h1v1h-1zM611 66h1v1h-1zM617 66h1v1h-1zM626 66h1v1h-1zM534 67h1v1h-1zM538 67h1v1h-1zM608 67h1v1h-1zM620 67h1v1h-1zM527 68h1v1h-1zM534 68h1v1h-1zM536 68h1v1h-1zM540 68h2v1h-2zM607 68h1v1h-1zM603 69h2v1h-2zM607 69h1v1h-1zM614 69h2v1h-2zM617 69h1v1h-1zM532 70h1v1h-1zM535 70h1v1h-1zM537 70h1v1h-1zM539 70h1v1h-1zM606 70h3v1h-3zM613 70h1v1h-1zM541 71h1v1h-1zM613 71h1v1h-1zM617 71h1v1h-1zM520 72h1v1h-1zM535 72h1v1h-1zM602 72h1v1h-1zM605 72h1v1h-1zM607 72h1v1h-1zM609 72h1v1h-1zM613 72h1v1h-1zM622 72h1v1h-1zM627 72h1v1h-1zM529 73h2v1h-2zM537 73h2v1h-2zM540 73h1v1h-1zM542 73h1v1h-1zM604 73h1v1h-1zM626 73h1v1h-1zM521 74h1v1h-1zM523 74h1v1h-1zM526 74h1v1h-1zM529 74h1v1h-1zM536 74h1v1h-1zM601 74h1v1h-1zM605 74h1v1h-1zM613 74h2v1h-2zM532 75h2v1h-2zM537 75h1v1h-1zM605 75h1v1h-1zM609 75h1v1h-1zM613 75h2v1h-2zM619 75h2v1h-2zM524 76h1v1h-1zM529 76h1v1h-1zM536 76h1v1h-1zM539 76h1v1h-1zM542 76h1v1h-1zM600 76h2v1h-2zM603 76h1v1h-1zM614 76h1v1h-1zM535 77h2v1h-2zM538 77h1v1h-1zM540 77h1v1h-1zM599 77h2v1h-2zM603 77h1v1h-1zM610 77h1v1h-1zM620 77h1v1h-1zM533 78h1v1h-1zM537 78h1v1h-1zM541 78h1v1h-1zM610 78h1v1h-1zM526 79h1v1h-1zM531 79h1v1h-1zM540 79h1v1h-1zM601 79h1v1h-1zM603 79h1v1h-1zM613 79h1v1h-1zM538 80h1v1h-1zM542 80h1v1h-1zM606 80h1v1h-1zM612 80h1v1h-1zM542 81h1v1h-1zM601 81h1v1h-1zM616 81h1v1h-1zM530 82h1v1h-1zM541 82h1v1h-1zM595 82h1v1h-1zM606 82h1v1h-1zM541 83h1v1h-1zM594 83h1v1h-1zM597 83h1v1h-1zM599 83h1v1h-1zM535 84h1v1h-1zM540 84h1v1h-1zM542 84h1v1h-1zM544 84h1v1h-1zM590 84h1v1h-1zM592 84h2v1h-2zM602 84h1v1h-1zM608 84h1v1h-1zM611 84h1v1h-1zM543 85h1v1h-1zM545 85h1v1h-1zM588 85h1v1h-1zM598 85h1v1h-1zM601 85h1v1h-1zM603 85h1v1h-1zM542 86h1v1h-1zM545 86h1v1h-1zM592 86h1v1h-1zM596 86h1v1h-1zM598 86h1v1h-1zM547 87h1v1h-1zM582 87h2v1h-2zM588 87h1v1h-1zM546 88h1v1h-1zM579 88h1v1h-1zM584 88h1v1h-1zM587 88h2v1h-2zM582 89h1v1h-1zM574 90h1v1h-1zM557 91h1v1h-1zM568 91h1v1h-1z" fill="#ff0000" fill-opacity="0.45"/>
<path d="M546 61h2v1h-2zM609 61h1v1h-1zM542 62h2v1h-2zM608 63h1v1h-1zM616 63h1v1h-1zM534 64h1v1h-1zM604 64h1v1h-1zM608 64h1v1h-1zM617 64h1v1h-1zM538 65h1v1h-1zM604 65h2v1h-2zM536 66h1v1h-1zM539 66h1v1h-1zM605 66h1v1h-1zM608 66h1v1h-1zM615 66h1v1h-1zM624 66h1v1h-1zM540 67h1v1h-1zM603 67h2v1h-2zM610 67h2v1h-2zM615 67h1v1h-1zM622 67h1v1h-1zM532 68h1v1h-1zM535 68h1v1h-1zM539 68h1v1h-1zM603 68h1v1h-1zM605 68h2v1h-2zM530 69h1v1h-1zM608 69h2v1h-2zM515 70h1v1h-1zM529 70h2v1h-2zM541 70h1v1h-1zM611 70h1v1h-1zM614 70h1v1h-1zM620 70h1v1h-1zM622 70h1v1h-1zM624 70h1v1h-1zM522 71h1v1h-1zM538 71h1v1h-1zM540 71h1v1h-1zM604 71h1v1h-1zM606 71h1v1h-1zM609 71h2v1h-2zM616 71h1v1h-1zM540 72h1v1h-1zM542 72h1v1h-1zM601 72h1v1h-1zM604 72h1v1h-1zM625 72h1v1h-1zM527 73h1v1h-1zM536 73h1v1h-1zM602 73h1v1h-1zM625 73h1v1h-1zM534 74h2v1h-2zM538 74h1v1h-1zM541 74h1v1h-1zM602 74h1v1h-1zM607 74h2v1h-2zM610 74h1v1h-1zM621 74h1v1h-1zM526 75h2v1h-2zM540 75h1v1h-1zM601 75h1v1h-1zM603 75h2v1h-2zM538 76h1v1h-1zM540 76h2v1h-2zM602 76h1v1h-1zM615 76h1v1h-1zM534 77h1v1h-1zM541 77h2v1h-2zM601 77h1v1h-1zM619 77h1v1h-1zM523 78h1v1h-1zM532 78h1v1h-1zM599 78h2v1h-2zM611 78h1v1h-1zM537 79h1v1h-1zM542 79h1v1h-1zM605 79h1v1h-1zM607 79h1v1h-1zM531 80h1v1h-1zM536 80h2v1h-2zM543 80h1v1h-1zM599 80h1v1h-1zM602 80h1v1h-1zM536 81h2v1h-2zM539 81h1v1h-1zM541 81h1v1h-1zM595 81h2v1h-2zM602 81h1v1h-1zM536 82h1v1h-1zM540 82h1v1h-1zM542 82h1v1h-1zM594 82h1v1h-1zM596 82h1v1h-1zM598 82h1v1h-1zM607 82h1v1h-1zM534 83h1v1h-1zM542 83h1v1h-1zM592 83h1v1h-1zM596 83h1v1h-1zM609 83h1v1h-1zM536 84h1v1h-1zM541 84h1v1h-1zM605 84h1v1h-1zM542 85h1v1h-1zM587 85h1v1h-1zM594 85h1v1h-1zM546 86h1v1h-1zM585 86h4v1h-4zM591 86h1v1h-1zM601 86h1v1h-1zM584 87h1v1h-1zM589 87h1v1h-1zM548 88h1v1h-1zM580 88h1v1h-1zM583 88h1v1h-1zM576 89h2v1h-2zM573 90h1v1h-1zM576 90h2v1h-2zM569 91h1v1h-1zM571 91h1v1h-1zM565 92h1v1h-1z" fill="#ff0000" fill-opacity="0.65"/>
<path d="M571 57h1v1h-1zM565 58h1v1h-1zM558 59h1v1h-1zM608 61h1v1h-1zM605 62h1v1h-1zM607 62h1v1h-1zM609 62h1v1h-1zM534 63h1v1h-1zM538 63h1v1h-1zM605 63h1v1h-1zM609 63h2v1h-2zM539 64h2v1h-2zM612 64h1v1h-1zM616 64h1v1h-1zM528 65h1v1h-1zM536 65h1v1h-1zM614 65h1v1h-1zM529 66h1v1h-1zM531 66h1v1h-1zM537 66h1v1h-1zM603 66h1v1h-1zM606 66h1v1h-1zM616 66h1v1h-1zM535 67h1v1h-1zM541 67h1v1h-1zM602 67h1v1h-1zM609 67h1v1h-1zM618 67h1v1h-1zM602 68h1v1h-1zM610 68h1v1h-1zM612 68h1v1h-1zM622 68h1v1h-1zM534 69h2v1h-2zM539 69h3v1h-3zM602 69h1v1h-1zM606 69h1v1h-1zM616 69h1v1h-1zM618 69h1v1h-1zM624 69h1v1h-1zM526 70h1v1h-1zM531 70h1v1h-1zM536 70h1v1h-1zM540 70h1v1h-1zM609 70h1v1h-1zM612 70h1v1h-1zM617 70h2v1h-2zM521 71h1v1h-1zM528 71h1v1h-1zM532 71h2v1h-2zM537 71h1v1h-1zM601 71h1v1h-1zM603 71h1v1h-1zM607 71h2v1h-2zM620 71h1v1h-1zM530 72h2v1h-2zM536 72h1v1h-1zM538 72h2v1h-2zM603 72h1v1h-1zM612 72h1v1h-1zM621 72h1v1h-1zM522 73h1v1h-1zM528 73h1v1h-1zM533 73h2v1h-2zM539 73h1v1h-1zM601 73h1v1h-1zM603 73h1v1h-1zM605 73h1v1h-1zM608 73h1v1h-1zM610 73h2v1h-2zM527 74h1v1h-1zM532 74h1v1h-1zM539 74h2v1h-2zM609 74h1v1h-1zM531 75h1v1h-1zM538 75h1v1h-1zM542 75h1v1h-1zM600 75h1v1h-1zM607 75h1v1h-1zM534 76h1v1h-1zM605 76h1v1h-1zM613 76h1v1h-1zM528 77h1v1h-1zM532 77h1v1h-1zM539 77h1v1h-1zM602 77h1v1h-1zM604 77h1v1h-1zM606 77h1v1h-1zM530 78h1v1h-1zM536 78h1v1h-1zM538 78h1v1h-1zM542 78h1v1h-1zM601 78h2v1h-2zM606 78h1v1h-1zM608 78h1v1h-1zM613 78h2v1h-2zM621 78h2v1h-2zM523 79h1v1h-1zM536 79h1v1h-1zM539 79h1v1h-1zM543 79h1v1h-1zM598 79h3v1h-3zM602 79h1v1h-1zM604 79h1v1h-1zM539 80h1v1h-1zM541 80h1v1h-1zM596 80h3v1h-3zM600 80h2v1h-2zM610 80h1v1h-1zM527 81h1v1h-1zM531 81h1v1h-1zM533 81h1v1h-1zM535 81h1v1h-1zM543 81h1v1h-1zM597 81h1v1h-1zM599 81h1v1h-1zM603 81h1v1h-1zM608 81h1v1h-1zM612 81h1v1h-1zM534 82h1v1h-1zM538 82h1v1h-1zM600 82h1v1h-1zM614 82h1v1h-1zM535 83h1v1h-1zM538 83h2v1h-2zM544 83h1v1h-1zM593 83h1v1h-1zM601 83h1v1h-1zM591 84h1v1h-1zM535 85h1v1h-1zM540 85h1v1h-1zM544 85h1v1h-1zM590 85h1v1h-1zM540 86h1v1h-1zM544 87h2v1h-2zM585 87h1v1h-1zM587 87h1v1h-1zM591 87h1v1h-1zM594 87h1v1h-1zM596 87h1v1h-1zM580 89h1v1h-1zM553 90h1v1h-1zM572 90h1v1h-1z" fill="#ff0000" fill-opacity="0.85"/>
<g filter="url(#rb)">
<path d="M560.78 92.29 562.14 88.68 563.5 85.07 564.85 81.46 566.21 77.85 568.44 74.24 570.71 70.63 572.99 67.02 575.26 63.41 577.53 59.8 579.8 56.2 588.8 56.2 586.53 59.8 584.26 63.41 581.99 67.02 579.71 70.63 577.44 74.24 575.15 77.85 572.42 81.46 569.68 85.07 566.95 88.68 564.22 92.29Z" fill="#8c0000" fill-opacity="0.22"/>
<path d="M561.24 92.29 562.78 88.68 564.32 85.07 565.86 81.46 567.4 77.85 569.64 74.24 571.91 70.63 574.19 67.02 576.46 63.41 578.73 59.8 581 56.2 587.8 56.2 585.53 59.8 583.26 63.41 580.99 67.02 578.71 70.63 576.44 74.24 574.15 77.85 571.58 81.46 569 85.07 566.42 88.68 563.84 92.29Z" fill="#8c0000" fill-opacity="0.2"/>
<path d="M560.98 92.29 562.41 88.68 563.84 85.07 565.27 81.46 566.71 77.85 568.94 74.24 571.21 70.63 573.49 67.02 575.76 63.41 578.03 59.8 580.3 56.2 582.8 56.2 580.53 59.8 578.26 63.41 575.99 67.02 573.71 70.63 571.44 74.24 569.19 77.85 567.37 81.46 565.56 85.07 563.74 88.68 561.93 92.29Z" fill="#8c0000" fill-opacity="0.15"/>
<path d="M580 56h1v1h-1zM582 56h1v1h-1zM585 56h1v1h-1zM589 56h1v1h-1zM580 57h1v1h-1zM582 57h1v1h-1zM584 57h1v1h-1zM586 57h1v1h-1zM578 58h1v1h-1zM586 58h1v1h-1zM577 59h3v1h-3zM584 59h1v1h-1zM578 60h2v1h-2zM585 60h1v1h-1zM583 61h2v1h-2zM581 62h1v1h-1zM576 63h1v1h-1zM582 64h1v1h-1zM573 65h2v1h-2zM577 66h1v1h-1zM572 67h1v1h-1zM576 67h1v1h-1zM578 67h1v1h-1zM582 67h1v1h-1zM576 69h2v1h-2zM573 70h2v1h-2zM576 71h1v1h-1zM577 72h1v1h-1zM569 73h2v1h-2zM576 73h1v1h-1zM570 74h1v1h-1zM577 74h1v1h-1zM568 75h4v1h-4zM574 75h1v1h-1zM568 76h2v1h-2zM573 76h1v1h-1zM575 76h1v1h-1zM572 77h1v1h-1zM565 78h1v1h-1zM570 78h1v1h-1zM568 79h1v1h-1zM572 79h1v1h-1zM574 79h1v1h-1zM563 81h1v1h-1zM565 81h1v1h-1zM568 81h1v1h-1zM568 82h2v1h-2zM565 83h1v1h-1zM570 84h2v1h-2zM560 85h1v1h-1zM563 85h2v1h-2zM567 85h1v1h-1zM570 85h1v1h-1zM560 86h2v1h-2zM565 87h1v1h-1zM568 87h1v1h-1zM561 88h1v1h-1zM563 88h2v1h-2zM567 89h2v1h-2zM560 90h1v1h-1zM565 91h1v1h-1z" fill="#8c0000" fill-opacity="0.2"/>
<path d="M583 56h2v1h-2zM587 56h1v1h-1zM588 57h1v1h-1zM582 58h1v1h-1zM584 58h1v1h-1zM586 59h1v1h-1zM582 60h1v1h-1zM575 61h1v1h-1zM577 61h1v1h-1zM578 62h1v1h-1zM580 62h1v1h-1zM583 62h2v1h-2zM574 63h1v1h-1zM578 63h1v1h-1zM582 63h3v1h-3zM577 64h1v1h-1zM580 64h1v1h-1zM583 65h1v1h-1zM572 66h1v1h-1zM575 66h1v1h-1zM575 67h1v1h-1zM581 67h1v1h-1zM571 68h1v1h-1zM574 68h1v1h-1zM577 68h1v1h-1zM581 68h1v1h-1zM571 69h3v1h-3zM579 69h2v1h-2zM575 70h1v1h-1zM578 70h1v1h-1zM570 71h2v1h-2zM575 71h1v1h-1zM570 72h1v1h-1zM575 73h1v1h-1zM568 74h1v1h-1zM574 74h1v1h-1zM576 74h1v1h-1zM571 78h1v1h-1zM574 78h1v1h-1zM571 79h1v1h-1zM564 80h1v1h-1zM567 80h1v1h-1zM571 80h1v1h-1zM564 81h1v1h-1zM569 81h1v1h-1zM562 82h1v1h-1zM570 82h1v1h-1zM562 84h2v1h-2zM565 85h1v1h-1zM568 85h1v1h-1zM562 86h2v1h-2zM560 87h1v1h-1zM564 87h1v1h-1zM558 88h2v1h-2zM565 88h1v1h-1zM558 89h1v1h-1zM561 89h3v1h-3zM557 90h1v1h-1zM561 90h1v1h-1zM563 90h1v1h-1zM565 90h1v1h-1zM558 91h1v1h-1z" fill="#8c0000" fill-opacity="0.35"/>
</g>
<rect x="562.7" y="44.65" width="2" height="46.65" fill="#c30000"/>
<rect x="585.35" y="27.35" width="1.9" height="28.06" fill="#c30000"/>
<path d="M585 49.65L587.6 49.65L588.35 50.85L588.35 55.91L584.25 55.91L584.25 50.85Z" fill="#c30000"/>
<line x1="39.16" y1="187.98" x2="39.16" y2="141.38" stroke="#e4e4e4" stroke-width="0.7"/>
<line x1="58.93" y1="184.77" x2="58.93" y2="138.17" stroke="#e4e4e4" stroke-width="0.7"/>
<line x1="78.69" y1="181.55" x2="78.69" y2="134.95" stroke="#e4e4e4" stroke-width="0.7"/>
<line x1="98.46" y1="178.34" x2="98.46" y2="131.74" stroke="#e4e4e4" stroke-width="0.7"/>
<line x1="118.22" y1="175.12" x2="118.22" y2="128.52" stroke="#e4e4e4" stroke-width="0.7"/>
<line x1="19.4" y1="173.28" x2="120.2" y2="156.88" stroke="#e4e4e4" stroke-width="0.7"/>
<line x1="19.4" y1="155.35" x2="120.2" y2="138.95" stroke="#e4e4e4" stroke-width="0.7"/>
<line x1="182.1" y1="192" x2="182.1" y2="145.4" stroke="#e4e4e4" stroke-width="0.7"/>
<line x1="167" y1="187.81" x2="167" y2="141.21" stroke="#e4e4e4" stroke-width="0.7"/>
<line x1="151.91" y1="183.61" x2="151.91" y2="137.01" stroke="#e4e4e4" stroke-width="0.7"/>
<line x1="136.81" y1="179.42" x2="136.81" y2="132.82" stroke="#e4e4e4" stroke-width="0.7"/>
<line x1="121.71" y1="175.22" x2="121.71" y2="128.62" stroke="#e4e4e4" stroke-width="0.7"/>
<line x1="197.2" y1="178.28" x2="120.2" y2="156.88" stroke="#e4e4e4" stroke-width="0.7"/>
<line x1="197.2" y1="160.35" x2="120.2" y2="138.95" stroke="#e4e4e4" stroke-width="0.7"/>
<line x1="116.16" y1="209.38" x2="39.16" y2="187.98" stroke="#ececec" stroke-width="0.7"/>
<line x1="135.93" y1="206.17" x2="58.93" y2="184.77" stroke="#ececec" stroke-width="0.7"/>
<line x1="155.69" y1="202.95" x2="78.69" y2="181.55" stroke="#ececec" stroke-width="0.7"/>
<line x1="175.46" y1="199.74" x2="98.46" y2="178.34" stroke="#ececec" stroke-width="0.7"/>
<line x1="195.22" y1="196.52" x2="118.22" y2="175.12" stroke="#ececec" stroke-width="0.7"/>
<line x1="81.3" y1="208.4" x2="182.1" y2="192" stroke="#ececec" stroke-width="0.7"/>
<line x1="66.2" y1="204.21" x2="167" y2="187.81" stroke="#ececec" stroke-width="0.7"/>
<line x1="51.11" y1="200.01" x2="151.91" y2="183.61" stroke="#ececec" stroke-width="0.7"/>
<line x1="36.01" y1="195.82" x2="136.81" y2="179.42" stroke="#ececec" stroke-width="0.7"/>
<line x1="20.91" y1="191.62" x2="121.71" y2="175.22" stroke="#ececec" stroke-width="0.7"/>
<line x1="120.2" y1="174.8" x2="120.2" y2="128.2" stroke="#9a9a9a" stroke-width="0.8"/>
<line x1="19.4" y1="191.2" x2="120.2" y2="174.8" stroke="#505050" stroke-width="0.75"/>
<line x1="197.2" y1="196.2" x2="120.2" y2="174.8" stroke="#505050" stroke-width="0.75"/>
<line x1="19.4" y1="191.2" x2="19.4" y2="144.6" stroke="#505050" stroke-width="0.75"/>
<line x1="19.4" y1="144.6" x2="120.2" y2="128.2" stroke="#505050" stroke-width="0.75"/>
<line x1="120.2" y1="128.2" x2="197.2" y2="149.6" stroke="#505050" stroke-width="0.75"/>
<line x1="197.2" y1="196.2" x2="197.2" y2="149.6" stroke="#505050" stroke-width="0.75"/>
<line x1="96.4" y1="212.6" x2="197.2" y2="196.2" stroke="#505050" stroke-width="0.75"/>
<line x1="96.4" y1="212.6" x2="19.4" y2="191.2" stroke="#505050" stroke-width="0.75"/>
<line x1="17.4" y1="191.2" x2="19.4" y2="191.2" stroke="#505050" stroke-width="0.7"/>
<text x="15.2" y="193.2" font-size="5.6" text-anchor="end" font-weight="normal" fill="#484848" font-family="'Liberation Sans', sans-serif">0</text>
<line x1="17.4" y1="173.28" x2="19.4" y2="173.28" stroke="#505050" stroke-width="0.7"/>
<text x="15.2" y="175.28" font-size="5.6" text-anchor="end" font-weight="normal" fill="#484848" font-family="'Liberation Sans', sans-serif">2</text>
<line x1="17.4" y1="155.35" x2="19.4" y2="155.35" stroke="#505050" stroke-width="0.7"/>
<text x="15.2" y="157.35" font-size="5.6" text-anchor="end" font-weight="normal" fill="#484848" font-family="'Liberation Sans', sans-serif">4</text>
<text x="100.9" y="218.6" font-size="5.6" text-anchor="start" font-weight="normal" fill="#484848" font-family="'Liberation Sans', sans-serif">0</text>
<text x="120.66" y="215.38" font-size="5.6" text-anchor="start" font-weight="normal" fill="#484848" font-family="'Liberation Sans', sans-serif">50</text>
<line x1="116.16" y1="209.38" x2="117.71" y2="209.81" stroke="#505050" stroke-width="0.6"/>
<text x="140.43" y="212.17" font-size="5.6" text-anchor="start" font-weight="normal" fill="#484848" font-family="'Liberation Sans', sans-serif">100</text>
<line x1="135.93" y1="206.17" x2="137.47" y2="206.6" stroke="#505050" stroke-width="0.6"/>
<text x="160.19" y="208.95" font-size="5.6" text-anchor="start" font-weight="normal" fill="#484848" font-family="'Liberation Sans', sans-serif">150</text>
<line x1="155.69" y1="202.95" x2="157.24" y2="203.38" stroke="#505050" stroke-width="0.6"/>
<text x="179.96" y="205.74" font-size="5.6" text-anchor="start" font-weight="normal" fill="#484848" font-family="'Liberation Sans', sans-serif">200</text>
<line x1="175.46" y1="199.74" x2="177" y2="200.17" stroke="#505050" stroke-width="0.6"/>
<text x="199.72" y="202.52" font-size="5.6" text-anchor="start" font-weight="normal" fill="#484848" font-family="'Liberation Sans', sans-serif">250</text>
<line x1="195.22" y1="196.52" x2="196.77" y2="196.95" stroke="#505050" stroke-width="0.6"/>
<line x1="81.3" y1="208.4" x2="79.72" y2="208.66" stroke="#505050" stroke-width="0.6"/>
<line x1="66.2" y1="204.21" x2="64.62" y2="204.46" stroke="#505050" stroke-width="0.6"/>
<line x1="51.11" y1="200.01" x2="49.53" y2="200.27" stroke="#505050" stroke-width="0.6"/>
<line x1="36.01" y1="195.82" x2="34.43" y2="196.07" stroke="#505050" stroke-width="0.6"/>
<line x1="20.91" y1="191.62" x2="19.33" y2="191.88" stroke="#505050" stroke-width="0.6"/>
<text x="92.3" y="218.6" font-size="5.6" text-anchor="end" font-weight="normal" fill="#484848" font-family="'Liberation Sans', sans-serif">0</text>
<text x="77.2" y="214.4" font-size="5.6" text-anchor="end" font-weight="normal" fill="#484848" font-family="'Liberation Sans', sans-serif">50</text>
<text x="62.1" y="210.21" font-size="5.6" text-anchor="end" font-weight="normal" fill="#484848" font-family="'Liberation Sans', sans-serif">100</text>
<text x="47.01" y="206.01" font-size="5.6" text-anchor="end" font-weight="normal" fill="#484848" font-family="'Liberation Sans', sans-serif">150</text>
<text x="31.91" y="201.82" font-size="5.6" text-anchor="end" font-weight="normal" fill="#484848" font-family="'Liberation Sans', sans-serif">200</text>
<text x="16.81" y="197.62" font-size="5.6" text-anchor="end" font-weight="normal" fill="#484848" font-family="'Liberation Sans', sans-serif">250</text>
<text x="5.5" y="136.8" font-size="6.8" text-anchor="start" font-weight="normal" fill="#444" font-family="'Liberation Serif', serif">×10<tspan font-size="4.2" dy="-2.4">4</tspan></text>
<text x="108.3" y="125.7" font-size="6.43" text-anchor="middle" font-weight="bold" fill="#262626" font-family="'Liberation Sans', sans-serif">Pixel Distribution (Vertical-wise) of Original Image - Green component</text>
<text x="57.9" y="233.7" font-size="6.15" text-anchor="middle" font-weight="normal" fill="#484848" font-family="'Liberation Sans', sans-serif">Pixel value on location (x,y+1)</text>
<text x="146.8" y="227.6" font-size="6.15" text-anchor="middle" font-weight="normal" fill="#484848" font-family="'Liberation Sans', sans-serif">Pixel value on location (x,y)</text>
<path d="M118.4 209 123.7 206.4 129.3 202 132.6 196.5 135.9 189.8 134.8 183.2 130.4 179.1 120.2 174.6 104.4 178.6 95.4 181.8 87.1 184.2 81.2 190 78.9 195.9 80 201.8 83.6 207.7 86.4 209.1 96.4 212.6Z" fill="#00ff00"/>
<path d="M110 177h1v1h-1zM106 178h1v1h-1zM110 178h1v1h-1zM122 178h1v1h-1zM127 178h2v1h-2zM102 179h2v1h-2zM108 179h2v1h-2zM123 179h1v1h-1zM99 180h1v1h-1zM105 180h1v1h-1zM107 180h2v1h-2zM121 180h2v1h-2zM126 180h1v1h-1zM103 181h1v1h-1zM107 181h2v1h-2zM121 181h1v1h-1zM129 181h1v1h-1zM96 182h2v1h-2zM100 182h1v1h-1zM120 182h1v1h-1zM125 182h3v1h-3zM129 182h1v1h-1zM132 182h1v1h-1zM92 183h1v1h-1zM97 183h1v1h-1zM99 183h1v1h-1zM105 183h1v1h-1zM107 183h1v1h-1zM120 183h1v1h-1zM124 183h1v1h-1zM126 183h2v1h-2zM129 183h1v1h-1zM131 183h2v1h-2zM134 183h1v1h-1zM90 184h2v1h-2zM94 184h1v1h-1zM97 184h1v1h-1zM102 184h1v1h-1zM119 184h1v1h-1zM122 184h1v1h-1zM133 184h1v1h-1zM87 185h1v1h-1zM90 185h1v1h-1zM94 185h1v1h-1zM99 185h1v1h-1zM117 185h1v1h-1zM119 185h2v1h-2zM123 185h1v1h-1zM125 185h1v1h-1zM129 185h2v1h-2zM85 186h1v1h-1zM95 186h1v1h-1zM101 186h2v1h-2zM124 186h1v1h-1zM126 186h1v1h-1zM128 186h2v1h-2zM84 187h1v1h-1zM86 187h1v1h-1zM88 187h1v1h-1zM91 187h1v1h-1zM93 187h1v1h-1zM96 187h1v1h-1zM100 187h1v1h-1zM102 187h3v1h-3zM119 187h1v1h-1zM125 187h1v1h-1zM128 187h1v1h-1zM134 187h1v1h-1zM84 188h2v1h-2zM87 188h1v1h-1zM91 188h1v1h-1zM93 188h2v1h-2zM98 188h1v1h-1zM100 188h1v1h-1zM102 188h1v1h-1zM116 188h2v1h-2zM119 188h1v1h-1zM125 188h1v1h-1zM130 188h2v1h-2zM97 189h1v1h-1zM99 189h1v1h-1zM102 189h1v1h-1zM115 189h1v1h-1zM122 189h1v1h-1zM127 189h1v1h-1zM129 189h2v1h-2zM133 189h2v1h-2zM81 190h1v1h-1zM85 190h1v1h-1zM87 190h1v1h-1zM92 190h1v1h-1zM95 190h2v1h-2zM98 190h1v1h-1zM115 190h2v1h-2zM124 190h1v1h-1zM130 190h1v1h-1zM81 191h2v1h-2zM85 191h1v1h-1zM87 191h3v1h-3zM93 191h1v1h-1zM114 191h1v1h-1zM116 191h1v1h-1zM120 191h1v1h-1zM125 191h1v1h-1zM130 191h2v1h-2zM133 191h1v1h-1zM84 192h1v1h-1zM88 192h1v1h-1zM90 192h1v1h-1zM101 192h1v1h-1zM117 192h1v1h-1zM120 192h1v1h-1zM126 192h1v1h-1zM130 192h1v1h-1zM81 193h3v1h-3zM86 193h2v1h-2zM95 193h1v1h-1zM99 193h1v1h-1zM112 193h2v1h-2zM117 193h2v1h-2zM125 193h1v1h-1zM127 193h1v1h-1zM129 193h2v1h-2zM132 193h1v1h-1zM83 194h1v1h-1zM85 194h1v1h-1zM96 194h1v1h-1zM112 194h2v1h-2zM116 194h1v1h-1zM123 194h1v1h-1zM127 194h1v1h-1zM132 194h2v1h-2zM82 195h1v1h-1zM90 195h1v1h-1zM99 195h1v1h-1zM115 195h1v1h-1zM118 195h1v1h-1zM132 195h1v1h-1zM79 196h1v1h-1zM93 196h1v1h-1zM95 196h1v1h-1zM113 196h1v1h-1zM116 196h1v1h-1zM119 196h1v1h-1zM121 196h2v1h-2zM125 196h1v1h-1zM130 196h1v1h-1zM79 197h1v1h-1zM95 197h1v1h-1zM110 197h2v1h-2zM117 197h1v1h-1zM120 197h1v1h-1zM125 197h2v1h-2zM128 197h1v1h-1zM131 197h1v1h-1zM80 198h1v1h-1zM82 198h1v1h-1zM85 198h1v1h-1zM87 198h1v1h-1zM96 198h2v1h-2zM111 198h1v1h-1zM113 198h1v1h-1zM116 198h2v1h-2zM119 198h1v1h-1zM81 199h1v1h-1zM84 199h1v1h-1zM86 199h1v1h-1zM91 199h2v1h-2zM96 199h1v1h-1zM109 199h1v1h-1zM118 199h1v1h-1zM120 199h2v1h-2zM124 199h1v1h-1zM128 199h1v1h-1zM89 200h1v1h-1zM91 200h1v1h-1zM94 200h1v1h-1zM109 200h1v1h-1zM111 200h2v1h-2zM114 200h4v1h-4zM119 200h1v1h-1zM122 200h1v1h-1zM124 200h2v1h-2zM128 200h1v1h-1zM83 201h1v1h-1zM85 201h1v1h-1zM89 201h1v1h-1zM91 201h1v1h-1zM107 201h3v1h-3zM116 201h1v1h-1zM119 201h1v1h-1zM124 201h1v1h-1zM85 202h1v1h-1zM87 202h2v1h-2zM91 202h1v1h-1zM116 202h1v1h-1zM121 202h4v1h-4zM126 202h1v1h-1zM81 203h2v1h-2zM86 203h1v1h-1zM88 203h3v1h-3zM92 203h1v1h-1zM108 203h1v1h-1zM112 203h1v1h-1zM115 203h1v1h-1zM123 203h1v1h-1zM125 203h1v1h-1zM82 204h2v1h-2zM90 204h1v1h-1zM106 204h4v1h-4zM114 204h1v1h-1zM120 204h1v1h-1zM122 204h1v1h-1zM84 205h1v1h-1zM88 205h1v1h-1zM90 205h1v1h-1zM109 205h1v1h-1zM117 205h1v1h-1zM121 205h1v1h-1zM123 205h2v1h-2zM92 206h1v1h-1zM104 206h2v1h-2zM107 206h1v1h-1zM109 206h1v1h-1zM112 206h1v1h-1zM114 206h3v1h-3zM85 207h3v1h-3zM89 207h1v1h-1zM106 207h1v1h-1zM108 207h1v1h-1zM118 207h2v1h-2zM89 208h1v1h-1zM91 208h1v1h-1zM105 208h1v1h-1zM113 208h1v1h-1zM89 209h2v1h-2zM107 209h1v1h-1zM109 209h1v1h-1zM108 210h1v1h-1zM98 211h1v1h-1zM101 211h2v1h-2z" fill="#007800" fill-opacity="0.16"/>
<path d="M119 175h1v1h-1zM121 175h1v1h-1zM115 176h1v1h-1zM121 176h1v1h-1zM123 176h2v1h-2zM109 177h2v1h-2zM112 177h1v1h-1zM114 177h1v1h-1zM126 177h1v1h-1zM107 178h1v1h-1zM109 178h2v1h-2zM124 178h1v1h-1zM126 178h1v1h-1zM128 178h1v1h-1zM105 179h1v1h-1zM109 179h1v1h-1zM115 179h2v1h-2zM118 179h1v1h-1zM125 179h2v1h-2zM128 179h1v1h-1zM100 180h1v1h-1zM129 180h1v1h-1zM96 181h1v1h-1zM98 181h1v1h-1zM100 181h2v1h-2zM103 181h1v1h-1zM124 181h1v1h-1zM132 181h1v1h-1zM95 182h3v1h-3zM130 182h1v1h-1zM133 182h1v1h-1zM91 183h1v1h-1zM96 183h1v1h-1zM99 183h1v1h-1zM133 183h1v1h-1zM88 184h5v1h-5zM132 184h3v1h-3zM90 185h3v1h-3zM132 185h3v1h-3zM85 186h1v1h-1zM91 186h1v1h-1zM132 186h1v1h-1zM131 187h1v1h-1zM133 187h1v1h-1zM135 187h1v1h-1zM89 188h1v1h-1zM133 188h2v1h-2zM134 189h2v1h-2zM81 190h1v1h-1zM84 190h1v1h-1zM134 190h2v1h-2zM84 191h1v1h-1zM133 191h1v1h-1zM82 192h1v1h-1zM133 192h2v1h-2zM84 193h1v1h-1zM131 193h1v1h-1zM79 194h1v1h-1zM132 194h1v1h-1zM80 195h1v1h-1zM127 195h1v1h-1zM131 195h1v1h-1zM79 196h1v1h-1zM81 196h1v1h-1zM128 196h3v1h-3zM132 196h1v1h-1zM80 197h1v1h-1zM79 198h2v1h-2zM130 198h1v1h-1zM127 199h3v1h-3zM125 200h2v1h-2zM128 200h2v1h-2zM123 201h1v1h-1zM127 201h1v1h-1zM129 201h1v1h-1zM81 202h2v1h-2zM124 202h1v1h-1zM82 203h1v1h-1zM121 203h1v1h-1zM123 203h2v1h-2zM83 205h1v1h-1zM118 205h1v1h-1zM120 205h1v1h-1zM123 205h1v1h-1zM83 206h1v1h-1zM114 206h2v1h-2zM122 206h1v1h-1zM83 207h1v1h-1zM86 207h1v1h-1zM91 207h1v1h-1zM107 207h1v1h-1zM115 207h1v1h-1zM120 207h1v1h-1zM86 208h1v1h-1zM88 208h1v1h-1zM91 208h1v1h-1zM101 208h2v1h-2zM112 208h1v1h-1zM116 208h1v1h-1zM118 208h1v1h-1zM88 209h1v1h-1zM91 209h1v1h-1zM94 209h1v1h-1zM97 209h1v1h-1zM100 209h1v1h-1zM104 209h1v1h-1zM106 209h2v1h-2zM112 209h2v1h-2zM90 210h4v1h-4zM95 210h1v1h-1zM105 210h4v1h-4zM96 211h1v1h-1zM98 211h1v1h-1zM102 211h1v1h-1z" fill="#fff" fill-opacity="0.5"/>
<path d="M115 175h1v1h-1zM122 175h1v1h-1zM111 176h1v1h-1zM106 177h1v1h-1zM128 177h1v1h-1zM130 177h1v1h-1zM129 178h1v1h-1zM134 178h1v1h-1zM97 179h1v1h-1zM134 179h1v1h-1zM91 180h1v1h-1zM98 180h1v1h-1zM136 180h1v1h-1zM141 181h1v1h-1zM83 182h1v1h-1zM88 182h1v1h-1zM91 182h1v1h-1zM135 182h1v1h-1zM139 182h2v1h-2zM81 183h1v1h-1zM83 183h1v1h-1zM140 183h1v1h-1zM81 184h1v1h-1zM135 184h2v1h-2zM82 185h1v1h-1zM84 185h2v1h-2zM135 185h2v1h-2zM140 185h1v1h-1zM142 185h1v1h-1zM81 186h2v1h-2zM138 186h1v1h-1zM147 186h1v1h-1zM73 187h2v1h-2zM78 187h1v1h-1zM138 187h1v1h-1zM143 187h1v1h-1zM76 188h1v1h-1zM82 188h1v1h-1zM141 188h1v1h-1zM71 189h1v1h-1zM80 189h1v1h-1zM139 189h2v1h-2zM71 190h1v1h-1zM73 190h1v1h-1zM78 190h1v1h-1zM80 190h1v1h-1zM138 190h1v1h-1zM140 190h1v1h-1zM69 191h1v1h-1zM76 191h1v1h-1zM136 191h1v1h-1zM140 191h1v1h-1zM75 192h2v1h-2zM137 192h1v1h-1zM140 192h1v1h-1zM68 193h1v1h-1zM77 193h1v1h-1zM79 193h1v1h-1zM135 193h2v1h-2zM70 194h1v1h-1zM77 194h2v1h-2zM140 194h1v1h-1zM72 195h1v1h-1zM77 195h2v1h-2zM67 196h1v1h-1zM73 196h1v1h-1zM75 196h2v1h-2zM136 196h1v1h-1zM71 197h1v1h-1zM75 197h1v1h-1zM132 197h1v1h-1zM137 197h1v1h-1zM70 198h1v1h-1zM72 198h1v1h-1zM77 198h1v1h-1zM134 198h1v1h-1zM65 199h1v1h-1zM131 199h1v1h-1zM72 200h1v1h-1zM75 200h2v1h-2zM133 200h3v1h-3zM76 201h1v1h-1zM134 201h1v1h-1zM70 202h1v1h-1zM78 202h2v1h-2zM131 202h1v1h-1zM134 202h2v1h-2zM67 203h1v1h-1zM72 203h1v1h-1zM77 203h1v1h-1zM127 203h1v1h-1zM72 204h1v1h-1zM126 204h1v1h-1zM133 204h1v1h-1zM75 205h1v1h-1zM79 205h1v1h-1zM81 205h1v1h-1zM130 205h1v1h-1zM132 205h1v1h-1zM80 206h1v1h-1zM123 206h1v1h-1zM126 206h1v1h-1zM128 206h1v1h-1z" fill="#00ff00" fill-opacity="0.25"/>
<path d="M114 175h1v1h-1zM116 175h1v1h-1zM109 176h2v1h-2zM102 177h3v1h-3zM108 177h1v1h-1zM127 177h1v1h-1zM101 178h2v1h-2zM133 178h1v1h-1zM100 179h2v1h-2zM92 180h2v1h-2zM97 180h1v1h-1zM139 180h2v1h-2zM79 182h1v1h-1zM82 182h1v1h-1zM86 182h2v1h-2zM92 182h1v1h-1zM135 183h1v1h-1zM137 183h1v1h-1zM83 184h2v1h-2zM138 184h2v1h-2zM143 184h1v1h-1zM137 185h1v1h-1zM84 186h1v1h-1zM139 186h1v1h-1zM143 186h1v1h-1zM140 187h1v1h-1zM142 187h1v1h-1zM79 188h1v1h-1zM136 188h1v1h-1zM76 189h1v1h-1zM138 189h1v1h-1zM142 189h1v1h-1zM70 190h1v1h-1zM72 190h1v1h-1zM74 190h2v1h-2zM79 190h1v1h-1zM136 190h1v1h-1zM139 190h1v1h-1zM142 190h1v1h-1zM75 191h1v1h-1zM135 192h1v1h-1zM134 194h1v1h-1zM136 194h1v1h-1zM70 195h1v1h-1zM73 195h1v1h-1zM75 195h1v1h-1zM136 195h1v1h-1zM77 196h1v1h-1zM139 197h1v1h-1zM71 198h1v1h-1zM73 198h1v1h-1zM75 198h1v1h-1zM66 199h1v1h-1zM69 199h1v1h-1zM71 199h2v1h-2zM76 199h1v1h-1zM79 199h1v1h-1zM137 199h1v1h-1zM130 200h1v1h-1zM69 201h1v1h-1zM78 201h1v1h-1zM75 202h1v1h-1zM74 203h1v1h-1zM79 203h1v1h-1zM135 203h1v1h-1zM71 204h1v1h-1zM78 204h1v1h-1zM128 204h1v1h-1zM76 205h1v1h-1zM125 205h1v1h-1zM127 205h3v1h-3zM82 206h1v1h-1zM124 206h1v1h-1zM127 206h1v1h-1zM80 207h1v1h-1zM123 207h1v1h-1zM84 208h1v1h-1zM120 208h1v1h-1zM89 210h1v1h-1z" fill="#00ff00" fill-opacity="0.45"/>
<path d="M112 176h1v1h-1zM125 176h2v1h-2zM103 178h1v1h-1zM130 178h2v1h-2zM92 179h1v1h-1zM94 179h1v1h-1zM98 179h1v1h-1zM131 179h1v1h-1zM85 180h1v1h-1zM89 180h2v1h-2zM95 180h1v1h-1zM132 180h1v1h-1zM134 180h1v1h-1zM88 181h2v1h-2zM94 181h1v1h-1zM133 181h1v1h-1zM138 181h1v1h-1zM85 182h1v1h-1zM89 182h2v1h-2zM136 182h1v1h-1zM88 183h1v1h-1zM86 184h1v1h-1zM137 184h1v1h-1zM140 184h2v1h-2zM135 186h1v1h-1zM140 186h1v1h-1zM145 187h1v1h-1zM77 188h2v1h-2zM81 188h1v1h-1zM137 188h3v1h-3zM146 188h1v1h-1zM81 189h1v1h-1zM136 189h2v1h-2zM137 190h1v1h-1zM144 190h1v1h-1zM79 191h1v1h-1zM137 191h2v1h-2zM143 191h1v1h-1zM77 192h2v1h-2zM69 193h1v1h-1zM137 193h2v1h-2zM72 194h1v1h-1zM75 194h2v1h-2zM135 194h1v1h-1zM69 195h1v1h-1zM133 195h3v1h-3zM71 196h1v1h-1zM133 196h1v1h-1zM138 196h2v1h-2zM70 197h1v1h-1zM73 197h2v1h-2zM76 197h1v1h-1zM69 198h1v1h-1zM76 198h1v1h-1zM131 198h1v1h-1zM133 198h1v1h-1zM137 198h1v1h-1zM67 199h1v1h-1zM75 199h1v1h-1zM79 200h1v1h-1zM132 200h1v1h-1zM74 201h1v1h-1zM131 201h1v1h-1zM62 202h1v1h-1zM129 202h2v1h-2zM132 202h1v1h-1zM71 203h1v1h-1zM73 203h1v1h-1zM129 203h3v1h-3zM73 204h1v1h-1zM76 204h2v1h-2zM79 204h1v1h-1zM127 204h1v1h-1zM129 204h1v1h-1zM77 205h1v1h-1zM131 205h1v1h-1zM77 206h1v1h-1zM125 206h1v1h-1zM131 206h1v1h-1zM79 207h1v1h-1zM81 207h1v1h-1zM122 207h1v1h-1zM127 207h1v1h-1zM82 208h1v1h-1zM119 208h1v1h-1zM85 209h1v1h-1zM87 209h1v1h-1zM92 211h1v1h-1z" fill="#00ff00" fill-opacity="0.65"/>
<path d="M123 175h1v1h-1zM107 177h1v1h-1zM129 177h1v1h-1zM98 178h1v1h-1zM100 178h1v1h-1zM104 178h1v1h-1zM91 179h1v1h-1zM99 179h1v1h-1zM133 179h1v1h-1zM133 180h1v1h-1zM83 181h1v1h-1zM91 181h3v1h-3zM95 181h1v1h-1zM134 181h1v1h-1zM136 181h1v1h-1zM134 182h1v1h-1zM142 182h1v1h-1zM84 183h1v1h-1zM87 183h1v1h-1zM89 183h1v1h-1zM138 183h1v1h-1zM77 184h1v1h-1zM85 184h1v1h-1zM83 185h1v1h-1zM141 185h1v1h-1zM146 185h1v1h-1zM83 186h1v1h-1zM136 186h2v1h-2zM142 186h1v1h-1zM146 186h1v1h-1zM79 187h1v1h-1zM82 187h2v1h-2zM144 187h1v1h-1zM77 191h2v1h-2zM80 191h1v1h-1zM135 191h1v1h-1zM139 191h1v1h-1zM73 192h1v1h-1zM79 192h1v1h-1zM73 193h1v1h-1zM75 193h1v1h-1zM78 193h1v1h-1zM134 193h1v1h-1zM139 193h2v1h-2zM67 194h1v1h-1zM66 195h1v1h-1zM68 195h1v1h-1zM71 195h1v1h-1zM138 195h1v1h-1zM72 196h1v1h-1zM78 196h1v1h-1zM135 196h1v1h-1zM72 197h1v1h-1zM77 197h2v1h-2zM133 197h1v1h-1zM135 197h1v1h-1zM74 198h1v1h-1zM78 198h1v1h-1zM135 198h1v1h-1zM68 199h1v1h-1zM73 199h2v1h-2zM132 199h3v1h-3zM69 200h1v1h-1zM71 200h1v1h-1zM74 200h1v1h-1zM78 200h1v1h-1zM71 201h1v1h-1zM75 201h1v1h-1zM77 201h1v1h-1zM130 201h1v1h-1zM136 201h1v1h-1zM71 202h1v1h-1zM73 202h1v1h-1zM76 202h1v1h-1zM75 203h1v1h-1zM80 203h1v1h-1zM128 203h1v1h-1zM133 203h1v1h-1zM80 204h2v1h-2zM131 204h1v1h-1zM72 205h1v1h-1zM126 205h1v1h-1zM81 206h1v1h-1zM121 207h1v1h-1zM83 208h1v1h-1zM86 209h1v1h-1z" fill="#00ff00" fill-opacity="0.85"/>
<g filter="url(#rb)">
<path d="M94.58 211.84 95.94 208.23 97.3 204.62 98.65 201.01 100.01 197.4 102.24 193.79 104.51 190.18 106.79 186.57 109.06 182.96 111.33 179.35 113.6 175.74 122.6 175.74 120.33 179.35 118.06 182.96 115.79 186.57 113.51 190.18 111.24 193.79 108.95 197.4 106.22 201.01 103.48 204.62 100.75 208.23 98.02 211.84Z" fill="#007800" fill-opacity="0.22"/>
<path d="M95.04 211.84 96.58 208.23 98.12 204.62 99.66 201.01 101.2 197.4 103.44 193.79 105.71 190.18 107.99 186.57 110.26 182.96 112.53 179.35 114.8 175.74 121.6 175.74 119.33 179.35 117.06 182.96 114.79 186.57 112.51 190.18 110.24 193.79 107.95 197.4 105.38 201.01 102.8 204.62 100.22 208.23 97.64 211.84Z" fill="#007800" fill-opacity="0.2"/>
<path d="M94.78 211.84 96.21 208.23 97.64 204.62 99.07 201.01 100.51 197.4 102.74 193.79 105.01 190.18 107.29 186.57 109.56 182.96 111.83 179.35 114.1 175.74 116.6 175.74 114.33 179.35 112.06 182.96 109.79 186.57 107.51 190.18 105.24 193.79 102.99 197.4 101.17 201.01 99.36 204.62 97.54 208.23 95.73 211.84Z" fill="#007800" fill-opacity="0.15"/>
<path d="M120 175h2v1h-2zM118 176h1v1h-1zM121 176h1v1h-1zM111 177h1v1h-1zM113 177h1v1h-1zM120 177h1v1h-1zM111 178h1v1h-1zM118 178h1v1h-1zM121 178h1v1h-1zM113 179h2v1h-2zM116 180h2v1h-2zM119 180h1v1h-1zM119 181h1v1h-1zM109 182h1v1h-1zM109 183h1v1h-1zM114 183h1v1h-1zM117 183h2v1h-2zM114 184h2v1h-2zM108 185h1v1h-1zM116 185h1v1h-1zM107 186h1v1h-1zM105 187h1v1h-1zM107 187h1v1h-1zM112 187h1v1h-1zM114 187h1v1h-1zM109 188h1v1h-1zM105 190h1v1h-1zM113 190h1v1h-1zM105 192h1v1h-1zM109 193h1v1h-1zM108 194h1v1h-1zM103 195h2v1h-2zM100 196h2v1h-2zM105 198h1v1h-1zM99 201h1v1h-1zM101 202h1v1h-1zM104 202h1v1h-1zM95 203h2v1h-2zM98 203h1v1h-1zM100 203h1v1h-1zM98 204h1v1h-1zM103 204h1v1h-1zM95 206h1v1h-1zM103 206h1v1h-1zM103 207h1v1h-1zM96 208h1v1h-1zM101 208h1v1h-1zM101 209h1v1h-1zM95 210h1v1h-1zM98 210h1v1h-1z" fill="#007800" fill-opacity="0.2"/>
<path d="M117 175h1v1h-1zM119 175h1v1h-1zM114 177h1v1h-1zM119 177h1v1h-1zM113 178h2v1h-2zM111 179h1v1h-1zM110 180h1v1h-1zM114 180h1v1h-1zM110 181h1v1h-1zM114 181h1v1h-1zM112 182h1v1h-1zM117 182h1v1h-1zM116 183h1v1h-1zM112 185h1v1h-1zM116 186h1v1h-1zM108 187h1v1h-1zM110 187h2v1h-2zM115 187h1v1h-1zM107 188h1v1h-1zM110 188h1v1h-1zM113 188h1v1h-1zM115 188h1v1h-1zM105 189h1v1h-1zM107 190h1v1h-1zM110 190h1v1h-1zM110 191h1v1h-1zM102 192h1v1h-1zM106 192h2v1h-2zM109 192h1v1h-1zM111 192h1v1h-1zM101 193h1v1h-1zM105 193h1v1h-1zM107 193h1v1h-1zM110 193h1v1h-1zM101 194h1v1h-1zM104 194h1v1h-1zM107 194h1v1h-1zM110 194h1v1h-1zM105 195h1v1h-1zM108 195h1v1h-1zM104 197h1v1h-1zM106 197h2v1h-2zM100 199h1v1h-1zM106 199h2v1h-2zM99 200h1v1h-1zM106 200h2v1h-2zM96 201h1v1h-1zM99 202h1v1h-1zM97 203h1v1h-1zM99 203h1v1h-1zM102 203h1v1h-1zM99 204h1v1h-1zM105 204h1v1h-1zM94 205h1v1h-1zM97 205h1v1h-1zM103 205h2v1h-2zM94 206h1v1h-1zM96 206h1v1h-1zM98 206h1v1h-1zM93 207h1v1h-1zM101 207h1v1h-1zM93 208h1v1h-1zM99 208h1v1h-1zM91 209h1v1h-1zM93 209h1v1h-1zM97 209h1v1h-1zM91 210h1v1h-1z" fill="#007800" fill-opacity="0.35"/>
</g>
<rect x="95.8" y="179.6" width="3.8" height="32" fill="#00af00" fill-opacity="0.45" filter="url(#rb)"/>
<rect x="96.05" y="166" width="2.3" height="45.33" fill="#00af00"/>
<rect x="113.8" y="158.7" width="2.2" height="24.52" fill="#00af00"/>
<line x1="272.76" y1="187.98" x2="272.76" y2="141.38" stroke="#e4e4e4" stroke-width="0.7"/>
<line x1="292.53" y1="184.77" x2="292.53" y2="138.17" stroke="#e4e4e4" stroke-width="0.7"/>
<line x1="312.29" y1="181.55" x2="312.29" y2="134.95" stroke="#e4e4e4" stroke-width="0.7"/>
<line x1="332.06" y1="178.34" x2="332.06" y2="131.74" stroke="#e4e4e4" stroke-width="0.7"/>
<line x1="351.82" y1="175.12" x2="351.82" y2="128.52" stroke="#e4e4e4" stroke-width="0.7"/>
<line x1="253" y1="174.56" x2="353.8" y2="158.16" stroke="#e4e4e4" stroke-width="0.7"/>
<line x1="253" y1="157.91" x2="353.8" y2="141.51" stroke="#e4e4e4" stroke-width="0.7"/>
<line x1="415.7" y1="192" x2="415.7" y2="145.4" stroke="#e4e4e4" stroke-width="0.7"/>
<line x1="400.6" y1="187.81" x2="400.6" y2="141.21" stroke="#e4e4e4" stroke-width="0.7"/>
<line x1="385.51" y1="183.61" x2="385.51" y2="137.01" stroke="#e4e4e4" stroke-width="0.7"/>
<line x1="370.41" y1="179.42" x2="370.41" y2="132.82" stroke="#e4e4e4" stroke-width="0.7"/>
<line x1="355.31" y1="175.22" x2="355.31" y2="128.62" stroke="#e4e4e4" stroke-width="0.7"/>
<line x1="430.8" y1="179.56" x2="353.8" y2="158.16" stroke="#e4e4e4" stroke-width="0.7"/>
<line x1="430.8" y1="162.91" x2="353.8" y2="141.51" stroke="#e4e4e4" stroke-width="0.7"/>
<line x1="349.76" y1="209.38" x2="272.76" y2="187.98" stroke="#ececec" stroke-width="0.7"/>
<line x1="369.53" y1="206.17" x2="292.53" y2="184.77" stroke="#ececec" stroke-width="0.7"/>
<line x1="389.29" y1="202.95" x2="312.29" y2="181.55" stroke="#ececec" stroke-width="0.7"/>
<line x1="409.06" y1="199.74" x2="332.06" y2="178.34" stroke="#ececec" stroke-width="0.7"/>
<line x1="428.82" y1="196.52" x2="351.82" y2="175.12" stroke="#ececec" stroke-width="0.7"/>
<line x1="314.9" y1="208.4" x2="415.7" y2="192" stroke="#ececec" stroke-width="0.7"/>
<line x1="299.8" y1="204.21" x2="400.6" y2="187.81" stroke="#ececec" stroke-width="0.7"/>
<line x1="284.71" y1="200.01" x2="385.51" y2="183.61" stroke="#ececec" stroke-width="0.7"/>
<line x1="269.61" y1="195.82" x2="370.41" y2="179.42" stroke="#ececec" stroke-width="0.7"/>
<line x1="254.51" y1="191.62" x2="355.31" y2="175.22" stroke="#ececec" stroke-width="0.7"/>
<line x1="353.8" y1="174.8" x2="353.8" y2="128.2" stroke="#9a9a9a" stroke-width="0.8"/>
<line x1="253" y1="191.2" x2="353.8" y2="174.8" stroke="#505050" stroke-width="0.75"/>
<line x1="430.8" y1="196.2" x2="353.8" y2="174.8" stroke="#505050" stroke-width="0.75"/>
<line x1="253" y1="191.2" x2="253" y2="144.6" stroke="#505050" stroke-width="0.75"/>
<line x1="253" y1="144.6" x2="353.8" y2="128.2" stroke="#505050" stroke-width="0.75"/>
<line x1="353.8" y1="128.2" x2="430.8" y2="149.6" stroke="#505050" stroke-width="0.75"/>
<line x1="430.8" y1="196.2" x2="430.8" y2="149.6" stroke="#505050" stroke-width="0.75"/>
<line x1="330" y1="212.6" x2="430.8" y2="196.2" stroke="#505050" stroke-width="0.75"/>
<line x1="330" y1="212.6" x2="253" y2="191.2" stroke="#505050" stroke-width="0.75"/>
<line x1="251" y1="191.2" x2="253" y2="191.2" stroke="#505050" stroke-width="0.7"/>
<text x="248.8" y="193.2" font-size="5.6" text-anchor="end" font-weight="normal" fill="#484848" font-family="'Liberation Sans', sans-serif">0</text>
<line x1="251" y1="174.56" x2="253" y2="174.56" stroke="#505050" stroke-width="0.7"/>
<text x="248.8" y="176.56" font-size="5.6" text-anchor="end" font-weight="normal" fill="#484848" font-family="'Liberation Sans', sans-serif">2</text>
<line x1="251" y1="157.91" x2="253" y2="157.91" stroke="#505050" stroke-width="0.7"/>
<text x="248.8" y="159.91" font-size="5.6" text-anchor="end" font-weight="normal" fill="#484848" font-family="'Liberation Sans', sans-serif">4</text>
<text x="334.5" y="218.6" font-size="5.6" text-anchor="start" font-weight="normal" fill="#484848" font-family="'Liberation Sans', sans-serif">0</text>
<text x="354.26" y="215.38" font-size="5.6" text-anchor="start" font-weight="normal" fill="#484848" font-family="'Liberation Sans', sans-serif">50</text>
<line x1="349.76" y1="209.38" x2="351.31" y2="209.81" stroke="#505050" stroke-width="0.6"/>
<text x="374.03" y="212.17" font-size="5.6" text-anchor="start" font-weight="normal" fill="#484848" font-family="'Liberation Sans', sans-serif">100</text>
<line x1="369.53" y1="206.17" x2="371.07" y2="206.6" stroke="#505050" stroke-width="0.6"/>
<text x="393.79" y="208.95" font-size="5.6" text-anchor="start" font-weight="normal" fill="#484848" font-family="'Liberation Sans', sans-serif">150</text>
<line x1="389.29" y1="202.95" x2="390.84" y2="203.38" stroke="#505050" stroke-width="0.6"/>
<text x="413.56" y="205.74" font-size="5.6" text-anchor="start" font-weight="normal" fill="#484848" font-family="'Liberation Sans', sans-serif">200</text>
<line x1="409.06" y1="199.74" x2="410.6" y2="200.17" stroke="#505050" stroke-width="0.6"/>
<text x="433.32" y="202.52" font-size="5.6" text-anchor="start" font-weight="normal" fill="#484848" font-family="'Liberation Sans', sans-serif">250</text>
<line x1="428.82" y1="196.52" x2="430.37" y2="196.95" stroke="#505050" stroke-width="0.6"/>
<line x1="314.9" y1="208.4" x2="313.32" y2="208.66" stroke="#505050" stroke-width="0.6"/>
<line x1="299.8" y1="204.21" x2="298.22" y2="204.46" stroke="#505050" stroke-width="0.6"/>
<line x1="284.71" y1="200.01" x2="283.13" y2="200.27" stroke="#505050" stroke-width="0.6"/>
<line x1="269.61" y1="195.82" x2="268.03" y2="196.07" stroke="#505050" stroke-width="0.6"/>
<line x1="254.51" y1="191.62" x2="252.93" y2="191.88" stroke="#505050" stroke-width="0.6"/>
<text x="325.9" y="218.6" font-size="5.6" text-anchor="end" font-weight="normal" fill="#484848" font-family="'Liberation Sans', sans-serif">0</text>
<text x="310.8" y="214.4" font-size="5.6" text-anchor="end" font-weight="normal" fill="#484848" font-family="'Liberation Sans', sans-serif">50</text>
<text x="295.7" y="210.21" font-size="5.6" text-anchor="end" font-weight="normal" fill="#484848" font-family="'Liberation Sans', sans-serif">100</text>
<text x="280.61" y="206.01" font-size="5.6" text-anchor="end" font-weight="normal" fill="#484848" font-family="'Liberation Sans', sans-serif">150</text>
<text x="265.51" y="201.82" font-size="5.6" text-anchor="end" font-weight="normal" fill="#484848" font-family="'Liberation Sans', sans-serif">200</text>
<text x="250.41" y="197.62" font-size="5.6" text-anchor="end" font-weight="normal" fill="#484848" font-family="'Liberation Sans', sans-serif">250</text>
<text x="239.1" y="136.8" font-size="6.8" text-anchor="start" font-weight="normal" fill="#444" font-family="'Liberation Serif', serif">×10<tspan font-size="4.2" dy="-2.4">4</tspan></text>
<text x="341.9" y="125.7" font-size="6.43" text-anchor="middle" font-weight="bold" fill="#262626" font-family="'Liberation Sans', sans-serif">Pixel Distribution (Horizontal-wise) of Original Image - Green component</text>
<text x="291.5" y="233.7" font-size="6.15" text-anchor="middle" font-weight="normal" fill="#484848" font-family="'Liberation Sans', sans-serif">Pixel value on location (x+1,y)</text>
<text x="380.4" y="227.6" font-size="6.15" text-anchor="middle" font-weight="normal" fill="#484848" font-family="'Liberation Sans', sans-serif">Pixel value on location (x,y)</text>
<path d="M350 209.3 354.5 206.4 361.2 202 365.6 196.5 367.8 189.8 366.7 184.3 360 178.1 353.8 174.6 338 178.1 327.6 181.6 322.9 184 315.8 189.9 312.3 196.9 314.7 204 320.6 208.7 330 212.6Z" fill="#00ff00"/>
<path d="M345 176h1v1h-1zM341 178h3v1h-3zM355 178h1v1h-1zM339 179h2v1h-2zM342 179h2v1h-2zM356 179h1v1h-1zM358 179h1v1h-1zM360 179h1v1h-1zM331 180h2v1h-2zM334 180h1v1h-1zM342 180h1v1h-1zM357 180h1v1h-1zM329 181h1v1h-1zM335 181h2v1h-2zM340 181h1v1h-1zM355 181h1v1h-1zM357 181h1v1h-1zM360 181h2v1h-2zM327 182h1v1h-1zM338 182h1v1h-1zM340 182h1v1h-1zM353 182h1v1h-1zM355 182h1v1h-1zM357 182h2v1h-2zM360 182h1v1h-1zM362 182h2v1h-2zM324 183h1v1h-1zM332 183h1v1h-1zM352 183h1v1h-1zM354 183h1v1h-1zM359 183h2v1h-2zM365 183h1v1h-1zM324 184h2v1h-2zM336 184h1v1h-1zM352 184h2v1h-2zM355 184h1v1h-1zM357 184h2v1h-2zM360 184h1v1h-1zM363 184h1v1h-1zM321 185h1v1h-1zM325 185h1v1h-1zM328 185h1v1h-1zM330 185h1v1h-1zM332 185h1v1h-1zM334 185h1v1h-1zM352 185h1v1h-1zM355 185h1v1h-1zM357 185h1v1h-1zM359 185h2v1h-2zM364 185h1v1h-1zM322 186h1v1h-1zM328 186h1v1h-1zM335 186h1v1h-1zM355 186h1v1h-1zM321 187h1v1h-1zM325 187h1v1h-1zM327 187h2v1h-2zM330 187h3v1h-3zM334 187h2v1h-2zM351 187h2v1h-2zM358 187h1v1h-1zM360 187h1v1h-1zM362 187h2v1h-2zM366 187h1v1h-1zM321 188h1v1h-1zM329 188h1v1h-1zM335 188h1v1h-1zM349 188h1v1h-1zM355 188h1v1h-1zM364 188h1v1h-1zM366 188h1v1h-1zM316 189h1v1h-1zM318 189h1v1h-1zM323 189h1v1h-1zM327 189h3v1h-3zM335 189h1v1h-1zM350 189h1v1h-1zM353 189h1v1h-1zM356 189h1v1h-1zM358 189h1v1h-1zM363 189h1v1h-1zM365 189h2v1h-2zM317 190h3v1h-3zM322 190h2v1h-2zM325 190h2v1h-2zM329 190h1v1h-1zM349 190h1v1h-1zM351 190h1v1h-1zM356 190h1v1h-1zM361 190h1v1h-1zM364 190h2v1h-2zM322 191h1v1h-1zM325 191h1v1h-1zM329 191h5v1h-5zM335 191h1v1h-1zM350 191h1v1h-1zM352 191h3v1h-3zM357 191h1v1h-1zM360 191h1v1h-1zM363 191h3v1h-3zM316 192h1v1h-1zM320 192h1v1h-1zM327 192h1v1h-1zM333 192h1v1h-1zM351 192h1v1h-1zM358 192h1v1h-1zM361 192h1v1h-1zM365 192h1v1h-1zM315 193h1v1h-1zM321 193h1v1h-1zM327 193h1v1h-1zM331 193h1v1h-1zM346 193h1v1h-1zM350 193h1v1h-1zM353 193h1v1h-1zM359 193h1v1h-1zM361 193h4v1h-4zM325 194h1v1h-1zM328 194h2v1h-2zM332 194h1v1h-1zM347 194h1v1h-1zM350 194h1v1h-1zM352 194h1v1h-1zM354 194h1v1h-1zM356 194h1v1h-1zM361 194h2v1h-2zM313 195h1v1h-1zM315 195h2v1h-2zM318 195h1v1h-1zM320 195h1v1h-1zM348 195h1v1h-1zM350 195h1v1h-1zM359 195h1v1h-1zM362 195h2v1h-2zM313 196h2v1h-2zM316 196h1v1h-1zM318 196h1v1h-1zM320 196h2v1h-2zM323 196h1v1h-1zM325 196h1v1h-1zM329 196h4v1h-4zM344 196h1v1h-1zM346 196h1v1h-1zM348 196h1v1h-1zM350 196h1v1h-1zM352 196h1v1h-1zM354 196h1v1h-1zM361 196h2v1h-2zM365 196h1v1h-1zM313 197h1v1h-1zM316 197h1v1h-1zM318 197h1v1h-1zM322 197h1v1h-1zM324 197h1v1h-1zM346 197h1v1h-1zM355 197h1v1h-1zM357 197h2v1h-2zM363 197h2v1h-2zM313 198h2v1h-2zM316 198h2v1h-2zM320 198h1v1h-1zM326 198h1v1h-1zM343 198h1v1h-1zM359 198h1v1h-1zM362 198h1v1h-1zM313 199h2v1h-2zM328 199h1v1h-1zM343 199h1v1h-1zM345 199h1v1h-1zM347 199h2v1h-2zM352 199h2v1h-2zM356 199h2v1h-2zM359 199h1v1h-1zM362 199h1v1h-1zM317 200h1v1h-1zM322 200h1v1h-1zM328 200h1v1h-1zM346 200h1v1h-1zM349 200h1v1h-1zM352 200h1v1h-1zM355 200h2v1h-2zM360 200h2v1h-2zM314 201h1v1h-1zM316 201h1v1h-1zM324 201h4v1h-4zM329 201h1v1h-1zM345 201h1v1h-1zM350 201h1v1h-1zM356 201h3v1h-3zM360 201h1v1h-1zM315 202h1v1h-1zM319 202h1v1h-1zM322 202h1v1h-1zM325 202h2v1h-2zM328 202h1v1h-1zM340 202h1v1h-1zM347 202h2v1h-2zM350 202h1v1h-1zM322 203h1v1h-1zM341 203h1v1h-1zM346 203h1v1h-1zM350 203h1v1h-1zM354 203h1v1h-1zM357 203h1v1h-1zM322 204h1v1h-1zM325 204h2v1h-2zM342 204h2v1h-2zM346 204h1v1h-1zM350 204h1v1h-1zM353 204h1v1h-1zM355 204h1v1h-1zM317 205h1v1h-1zM319 205h2v1h-2zM339 205h3v1h-3zM344 205h2v1h-2zM353 205h1v1h-1zM318 206h1v1h-1zM323 206h2v1h-2zM339 206h3v1h-3zM343 206h1v1h-1zM345 206h1v1h-1zM352 206h2v1h-2zM319 207h1v1h-1zM322 207h1v1h-1zM337 207h1v1h-1zM342 207h4v1h-4zM321 208h1v1h-1zM325 208h1v1h-1zM339 208h2v1h-2zM344 208h1v1h-1zM348 208h1v1h-1zM350 208h1v1h-1zM323 209h1v1h-1zM336 209h3v1h-3zM343 209h1v1h-1zM346 209h1v1h-1zM348 209h1v1h-1zM336 210h1v1h-1zM339 210h1v1h-1zM327 211h1v1h-1z" fill="#007800" fill-opacity="0.16"/>
<path d="M350 175h1v1h-1zM353 175h2v1h-2zM346 176h2v1h-2zM350 176h1v1h-1zM352 176h1v1h-1zM354 176h1v1h-1zM343 177h2v1h-2zM353 177h1v1h-1zM355 177h1v1h-1zM357 177h1v1h-1zM338 178h3v1h-3zM345 178h1v1h-1zM348 178h1v1h-1zM359 178h1v1h-1zM337 179h1v1h-1zM340 179h3v1h-3zM345 179h2v1h-2zM356 179h1v1h-1zM360 179h1v1h-1zM331 180h2v1h-2zM358 180h1v1h-1zM360 180h1v1h-1zM328 181h1v1h-1zM330 181h1v1h-1zM332 181h1v1h-1zM339 181h1v1h-1zM361 181h1v1h-1zM363 181h1v1h-1zM363 182h2v1h-2zM326 183h1v1h-1zM364 183h2v1h-2zM322 184h3v1h-3zM330 184h1v1h-1zM332 184h2v1h-2zM366 184h1v1h-1zM321 185h1v1h-1zM323 185h1v1h-1zM325 185h2v1h-2zM328 185h1v1h-1zM321 186h1v1h-1zM325 186h1v1h-1zM366 186h1v1h-1zM320 187h1v1h-1zM364 187h2v1h-2zM318 188h3v1h-3zM366 188h2v1h-2zM316 189h1v1h-1zM319 189h1v1h-1zM365 189h3v1h-3zM317 190h1v1h-1zM320 190h1v1h-1zM366 190h2v1h-2zM316 191h1v1h-1zM366 191h1v1h-1zM363 193h1v1h-1zM365 193h2v1h-2zM317 194h1v1h-1zM315 195h1v1h-1zM363 195h1v1h-1zM363 196h1v1h-1zM314 197h1v1h-1zM363 197h1v1h-1zM314 198h2v1h-2zM358 198h1v1h-1zM314 199h2v1h-2zM362 199h1v1h-1zM361 200h1v1h-1zM318 201h1v1h-1zM361 201h1v1h-1zM315 202h1v1h-1zM318 202h1v1h-1zM357 202h1v1h-1zM359 202h1v1h-1zM315 203h3v1h-3zM354 203h1v1h-1zM356 203h1v1h-1zM358 203h1v1h-1zM315 204h1v1h-1zM353 204h2v1h-2zM320 205h2v1h-2zM353 205h2v1h-2zM318 206h2v1h-2zM343 206h1v1h-1zM351 206h1v1h-1zM334 207h1v1h-1zM336 207h1v1h-1zM340 207h1v1h-1zM348 207h1v1h-1zM350 207h1v1h-1zM321 208h2v1h-2zM336 208h1v1h-1zM349 208h1v1h-1zM329 209h2v1h-2zM338 209h1v1h-1zM340 209h2v1h-2zM343 209h1v1h-1zM347 209h2v1h-2zM326 210h2v1h-2zM335 210h1v1h-1zM338 210h2v1h-2zM331 211h1v1h-1zM333 211h1v1h-1zM336 211h1v1h-1zM330 212h1v1h-1z" fill="#fff" fill-opacity="0.5"/>
<path d="M337 177h1v1h-1zM329 178h1v1h-1zM336 178h1v1h-1zM325 179h1v1h-1zM370 179h1v1h-1zM318 180h1v1h-1zM316 181h1v1h-1zM366 182h1v1h-1zM368 182h1v1h-1zM312 183h1v1h-1zM368 184h1v1h-1zM375 184h1v1h-1zM377 184h1v1h-1zM306 185h1v1h-1zM314 185h1v1h-1zM316 185h1v1h-1zM369 185h1v1h-1zM378 185h1v1h-1zM317 186h1v1h-1zM310 187h1v1h-1zM314 187h2v1h-2zM369 187h1v1h-1zM371 187h1v1h-1zM300 188h1v1h-1zM308 188h1v1h-1zM314 188h1v1h-1zM370 188h1v1h-1zM376 188h1v1h-1zM305 189h2v1h-2zM309 189h1v1h-1zM312 189h1v1h-1zM368 189h1v1h-1zM377 189h1v1h-1zM379 189h1v1h-1zM382 189h1v1h-1zM304 190h1v1h-1zM312 190h1v1h-1zM373 190h1v1h-1zM379 190h1v1h-1zM381 190h1v1h-1zM299 191h1v1h-1zM314 191h1v1h-1zM369 192h1v1h-1zM303 193h1v1h-1zM306 193h1v1h-1zM312 193h2v1h-2zM369 193h1v1h-1zM383 193h1v1h-1zM308 194h1v1h-1zM310 194h1v1h-1zM367 194h1v1h-1zM371 194h1v1h-1zM380 194h1v1h-1zM303 195h1v1h-1zM308 195h1v1h-1zM310 195h3v1h-3zM367 195h1v1h-1zM369 195h1v1h-1zM310 196h3v1h-3zM367 196h1v1h-1zM370 196h1v1h-1zM378 196h1v1h-1zM308 197h1v1h-1zM365 197h1v1h-1zM369 197h1v1h-1zM373 197h1v1h-1zM304 198h1v1h-1zM310 198h1v1h-1zM312 198h1v1h-1zM367 198h1v1h-1zM372 198h1v1h-1zM307 199h1v1h-1zM312 199h1v1h-1zM305 200h1v1h-1zM363 200h1v1h-1zM363 201h1v1h-1zM312 202h1v1h-1zM363 202h1v1h-1zM367 202h1v1h-1zM307 203h1v1h-1zM360 203h1v1h-1zM307 204h1v1h-1zM314 204h1v1h-1zM362 204h1v1h-1zM314 205h2v1h-2zM364 205h2v1h-2zM355 206h1v1h-1zM312 207h2v1h-2zM317 207h1v1h-1zM353 207h2v1h-2zM317 208h1v1h-1zM351 208h1v1h-1zM319 209h1v1h-1zM322 210h1v1h-1z" fill="#00ff00" fill-opacity="0.25"/>
<path d="M348 175h1v1h-1zM342 176h1v1h-1zM344 176h1v1h-1zM360 176h1v1h-1zM335 177h1v1h-1zM364 178h2v1h-2zM363 179h1v1h-1zM365 179h1v1h-1zM328 180h1v1h-1zM365 180h1v1h-1zM369 180h1v1h-1zM372 180h1v1h-1zM320 181h1v1h-1zM370 181h1v1h-1zM373 181h1v1h-1zM313 182h1v1h-1zM316 182h1v1h-1zM320 182h1v1h-1zM369 182h1v1h-1zM318 183h1v1h-1zM320 183h1v1h-1zM322 183h1v1h-1zM375 183h1v1h-1zM314 184h1v1h-1zM312 185h1v1h-1zM315 185h1v1h-1zM318 185h1v1h-1zM320 185h1v1h-1zM371 185h1v1h-1zM302 186h1v1h-1zM307 186h1v1h-1zM312 186h1v1h-1zM318 186h1v1h-1zM370 186h1v1h-1zM372 186h1v1h-1zM301 187h2v1h-2zM307 187h2v1h-2zM373 187h1v1h-1zM303 188h2v1h-2zM313 188h1v1h-1zM369 188h1v1h-1zM375 188h1v1h-1zM383 188h1v1h-1zM300 189h2v1h-2zM311 189h1v1h-1zM314 189h1v1h-1zM369 189h1v1h-1zM372 189h1v1h-1zM375 189h1v1h-1zM301 190h1v1h-1zM369 190h1v1h-1zM374 190h2v1h-2zM302 191h2v1h-2zM309 191h2v1h-2zM313 191h1v1h-1zM371 191h1v1h-1zM374 191h1v1h-1zM378 191h1v1h-1zM306 192h1v1h-1zM308 192h1v1h-1zM310 192h1v1h-1zM373 192h2v1h-2zM379 192h2v1h-2zM299 193h1v1h-1zM301 193h1v1h-1zM311 193h1v1h-1zM367 193h2v1h-2zM309 194h1v1h-1zM311 194h1v1h-1zM313 194h1v1h-1zM366 194h1v1h-1zM373 194h1v1h-1zM377 195h1v1h-1zM301 196h1v1h-1zM304 196h1v1h-1zM371 196h1v1h-1zM306 197h1v1h-1zM368 197h1v1h-1zM370 197h1v1h-1zM302 198h1v1h-1zM307 198h1v1h-1zM364 198h1v1h-1zM369 198h1v1h-1zM371 198h1v1h-1zM311 199h1v1h-1zM375 199h1v1h-1zM301 200h1v1h-1zM313 200h1v1h-1zM366 200h1v1h-1zM369 200h1v1h-1zM301 201h1v1h-1zM311 201h1v1h-1zM367 201h1v1h-1zM370 201h1v1h-1zM306 202h2v1h-2zM364 202h1v1h-1zM312 203h1v1h-1zM369 203h1v1h-1zM311 204h2v1h-2zM360 204h1v1h-1zM358 205h1v1h-1zM314 206h3v1h-3zM356 206h1v1h-1zM360 206h1v1h-1zM357 207h2v1h-2zM360 207h1v1h-1zM354 208h1v1h-1zM322 209h1v1h-1z" fill="#00ff00" fill-opacity="0.45"/>
<path d="M357 176h1v1h-1zM338 177h1v1h-1zM340 177h1v1h-1zM360 178h1v1h-1zM362 179h1v1h-1zM368 179h1v1h-1zM320 180h1v1h-1zM322 180h1v1h-1zM325 180h1v1h-1zM330 180h1v1h-1zM323 181h1v1h-1zM326 181h1v1h-1zM365 181h1v1h-1zM311 182h1v1h-1zM321 182h1v1h-1zM365 182h1v1h-1zM370 182h1v1h-1zM373 182h1v1h-1zM311 183h1v1h-1zM316 183h1v1h-1zM321 183h1v1h-1zM319 184h3v1h-3zM307 185h1v1h-1zM310 185h1v1h-1zM374 185h1v1h-1zM313 186h2v1h-2zM316 186h1v1h-1zM319 186h1v1h-1zM367 186h1v1h-1zM369 186h1v1h-1zM309 187h1v1h-1zM318 187h1v1h-1zM372 187h1v1h-1zM380 187h1v1h-1zM298 188h1v1h-1zM306 188h1v1h-1zM310 188h1v1h-1zM315 188h1v1h-1zM368 188h1v1h-1zM371 188h2v1h-2zM381 188h1v1h-1zM303 189h1v1h-1zM315 189h1v1h-1zM370 189h1v1h-1zM373 189h1v1h-1zM378 189h1v1h-1zM303 190h1v1h-1zM309 190h2v1h-2zM314 190h1v1h-1zM377 190h1v1h-1zM304 191h1v1h-1zM311 191h2v1h-2zM367 191h1v1h-1zM302 192h2v1h-2zM309 192h1v1h-1zM312 192h1v1h-1zM371 192h1v1h-1zM376 192h1v1h-1zM308 193h2v1h-2zM372 193h2v1h-2zM302 194h1v1h-1zM375 194h1v1h-1zM307 195h1v1h-1zM309 195h1v1h-1zM370 195h1v1h-1zM303 196h1v1h-1zM308 196h1v1h-1zM376 196h2v1h-2zM367 197h1v1h-1zM300 198h1v1h-1zM306 198h1v1h-1zM311 198h1v1h-1zM365 198h2v1h-2zM370 198h1v1h-1zM373 198h1v1h-1zM309 199h1v1h-1zM364 199h1v1h-1zM366 199h1v1h-1zM368 199h1v1h-1zM370 199h1v1h-1zM306 200h1v1h-1zM308 200h1v1h-1zM310 200h1v1h-1zM312 200h1v1h-1zM362 200h1v1h-1zM372 200h1v1h-1zM362 201h1v1h-1zM360 202h1v1h-1zM314 203h1v1h-1zM364 203h1v1h-1zM309 204h2v1h-2zM313 204h1v1h-1zM371 204h1v1h-1zM309 205h3v1h-3zM316 205h1v1h-1zM362 206h1v1h-1zM316 207h1v1h-1zM356 207h1v1h-1zM352 208h2v1h-2zM324 210h1v1h-1zM326 211h1v1h-1z" fill="#00ff00" fill-opacity="0.65"/>
<path d="M349 175h1v1h-1zM343 176h1v1h-1zM358 176h1v1h-1zM339 177h1v1h-1zM359 177h3v1h-3zM363 177h2v1h-2zM333 178h2v1h-2zM361 178h1v1h-1zM332 179h2v1h-2zM367 179h1v1h-1zM371 179h1v1h-1zM321 180h1v1h-1zM327 180h1v1h-1zM363 180h1v1h-1zM370 180h1v1h-1zM314 181h1v1h-1zM321 181h1v1h-1zM327 181h1v1h-1zM369 181h1v1h-1zM315 182h1v1h-1zM319 182h1v1h-1zM322 182h1v1h-1zM324 182h1v1h-1zM366 183h3v1h-3zM371 183h2v1h-2zM312 184h2v1h-2zM315 184h1v1h-1zM367 184h1v1h-1zM378 184h1v1h-1zM302 185h1v1h-1zM311 185h1v1h-1zM315 186h1v1h-1zM374 186h1v1h-1zM311 187h1v1h-1zM316 187h1v1h-1zM374 187h2v1h-2zM307 188h1v1h-1zM312 188h1v1h-1zM380 188h1v1h-1zM311 190h1v1h-1zM368 190h1v1h-1zM370 190h1v1h-1zM372 190h1v1h-1zM301 191h1v1h-1zM305 191h1v1h-1zM368 191h1v1h-1zM375 191h1v1h-1zM379 191h1v1h-1zM295 192h1v1h-1zM304 192h1v1h-1zM307 192h1v1h-1zM314 192h1v1h-1zM375 192h1v1h-1zM300 193h1v1h-1zM302 193h1v1h-1zM304 193h1v1h-1zM370 193h1v1h-1zM305 194h1v1h-1zM307 194h1v1h-1zM312 194h1v1h-1zM368 194h2v1h-2zM299 195h1v1h-1zM305 195h1v1h-1zM366 195h1v1h-1zM368 195h1v1h-1zM300 196h1v1h-1zM307 196h1v1h-1zM368 196h1v1h-1zM310 197h3v1h-3zM368 198h1v1h-1zM306 199h1v1h-1zM365 199h1v1h-1zM304 200h1v1h-1zM307 200h1v1h-1zM364 200h2v1h-2zM367 200h1v1h-1zM313 201h1v1h-1zM364 201h2v1h-2zM374 201h1v1h-1zM309 202h1v1h-1zM311 202h1v1h-1zM361 202h1v1h-1zM369 202h1v1h-1zM311 203h1v1h-1zM308 204h1v1h-1zM357 204h1v1h-1zM361 204h1v1h-1zM364 204h1v1h-1zM368 204h1v1h-1zM312 205h1v1h-1zM356 205h2v1h-2zM361 205h1v1h-1zM317 206h1v1h-1zM354 206h1v1h-1zM357 206h1v1h-1zM361 206h1v1h-1zM314 207h1v1h-1zM318 207h1v1h-1zM355 207h1v1h-1zM318 208h1v1h-1zM320 209h2v1h-2z" fill="#00ff00" fill-opacity="0.85"/>
<g filter="url(#rb)">
<path d="M328.18 211.84 329.54 208.23 330.9 204.62 332.25 201.01 333.61 197.4 335.84 193.79 338.11 190.18 340.39 186.57 342.66 182.96 344.93 179.35 347.2 175.74 356.2 175.74 353.93 179.35 351.66 182.96 349.39 186.57 347.11 190.18 344.84 193.79 342.55 197.4 339.82 201.01 337.08 204.62 334.35 208.23 331.62 211.84Z" fill="#007800" fill-opacity="0.22"/>
<path d="M328.64 211.84 330.18 208.23 331.72 204.62 333.26 201.01 334.8 197.4 337.04 193.79 339.31 190.18 341.59 186.57 343.86 182.96 346.13 179.35 348.4 175.74 355.2 175.74 352.93 179.35 350.66 182.96 348.39 186.57 346.11 190.18 343.84 193.79 341.55 197.4 338.98 201.01 336.4 204.62 333.82 208.23 331.24 211.84Z" fill="#007800" fill-opacity="0.2"/>
<path d="M328.38 211.84 329.81 208.23 331.24 204.62 332.67 201.01 334.1 197.4 336.34 193.79 338.61 190.18 340.89 186.57 343.16 182.96 345.43 179.35 347.7 175.74 350.2 175.74 347.93 179.35 345.66 182.96 343.39 186.57 341.11 190.18 338.84 193.79 336.59 197.4 334.77 201.01 332.96 204.62 331.14 208.23 329.33 211.84Z" fill="#007800" fill-opacity="0.15"/>
<path d="M350 175h1v1h-1zM349 176h1v1h-1zM354 177h1v1h-1zM351 178h1v1h-1zM353 178h1v1h-1zM348 180h1v1h-1zM353 180h1v1h-1zM347 183h2v1h-2zM351 183h1v1h-1zM342 184h1v1h-1zM348 185h2v1h-2zM339 186h1v1h-1zM345 186h2v1h-2zM349 186h1v1h-1zM341 187h2v1h-2zM341 188h2v1h-2zM347 188h1v1h-1zM338 189h1v1h-1zM340 189h2v1h-2zM346 189h2v1h-2zM343 190h1v1h-1zM347 190h1v1h-1zM338 191h1v1h-1zM342 191h1v1h-1zM346 191h1v1h-1zM337 192h1v1h-1zM345 192h1v1h-1zM336 193h3v1h-3zM340 193h1v1h-1zM342 194h1v1h-1zM338 195h1v1h-1zM344 195h1v1h-1zM334 196h1v1h-1zM336 196h1v1h-1zM338 197h1v1h-1zM343 197h1v1h-1zM335 198h1v1h-1zM332 199h1v1h-1zM338 199h2v1h-2zM335 200h1v1h-1zM339 202h1v1h-1zM336 203h3v1h-3zM328 204h2v1h-2zM327 206h1v1h-1zM331 206h1v1h-1zM333 206h1v1h-1zM328 207h2v1h-2zM336 207h1v1h-1zM331 208h1v1h-1zM332 209h1v1h-1zM327 210h1v1h-1zM334 210h1v1h-1z" fill="#007800" fill-opacity="0.2"/>
<path d="M353 175h2v1h-2zM346 176h1v1h-1zM348 176h1v1h-1zM356 176h1v1h-1zM352 177h1v1h-1zM344 178h1v1h-1zM347 179h1v1h-1zM349 179h1v1h-1zM344 180h4v1h-4zM349 181h1v1h-1zM352 181h2v1h-2zM342 182h3v1h-3zM347 182h1v1h-1zM352 182h1v1h-1zM341 183h1v1h-1zM348 184h1v1h-1zM350 184h1v1h-1zM342 185h1v1h-1zM339 187h1v1h-1zM343 188h1v1h-1zM348 188h1v1h-1zM348 189h1v1h-1zM341 191h1v1h-1zM345 191h1v1h-1zM341 192h2v1h-2zM339 193h1v1h-1zM340 194h1v1h-1zM343 194h1v1h-1zM334 195h1v1h-1zM340 196h2v1h-2zM334 197h1v1h-1zM341 198h1v1h-1zM333 199h1v1h-1zM341 199h1v1h-1zM333 200h1v1h-1zM340 200h1v1h-1zM336 201h1v1h-1zM340 201h1v1h-1zM333 202h1v1h-1zM329 203h1v1h-1zM335 203h1v1h-1zM337 204h1v1h-1zM334 205h1v1h-1zM332 207h1v1h-1zM335 207h1v1h-1zM335 208h1v1h-1zM328 209h1v1h-1zM333 209h3v1h-3zM325 210h1v1h-1zM332 210h1v1h-1z" fill="#007800" fill-opacity="0.35"/>
</g>
<rect x="328.9" y="179.6" width="3.8" height="32" fill="#00af00" fill-opacity="0.45" filter="url(#rb)"/>
<rect x="329.15" y="165.7" width="2.3" height="46.42" fill="#00af00"/>
<rect x="346.9" y="160.7" width="2.2" height="23.31" fill="#00af00"/>
<line x1="505.36" y1="187.63" x2="505.36" y2="141.03" stroke="#e4e4e4" stroke-width="0.7"/>
<line x1="525.13" y1="184.42" x2="525.13" y2="137.82" stroke="#e4e4e4" stroke-width="0.7"/>
<line x1="544.89" y1="181.2" x2="544.89" y2="134.6" stroke="#e4e4e4" stroke-width="0.7"/>
<line x1="564.66" y1="177.99" x2="564.66" y2="131.39" stroke="#e4e4e4" stroke-width="0.7"/>
<line x1="584.42" y1="174.77" x2="584.42" y2="128.17" stroke="#e4e4e4" stroke-width="0.7"/>
<line x1="485.6" y1="171.83" x2="586.4" y2="155.43" stroke="#e4e4e4" stroke-width="0.7"/>
<line x1="485.6" y1="152.81" x2="586.4" y2="136.41" stroke="#e4e4e4" stroke-width="0.7"/>
<line x1="648.3" y1="191.65" x2="648.3" y2="145.05" stroke="#e4e4e4" stroke-width="0.7"/>
<line x1="633.2" y1="187.46" x2="633.2" y2="140.86" stroke="#e4e4e4" stroke-width="0.7"/>
<line x1="618.11" y1="183.26" x2="618.11" y2="136.66" stroke="#e4e4e4" stroke-width="0.7"/>
<line x1="603.01" y1="179.07" x2="603.01" y2="132.47" stroke="#e4e4e4" stroke-width="0.7"/>
<line x1="587.91" y1="174.87" x2="587.91" y2="128.27" stroke="#e4e4e4" stroke-width="0.7"/>
<line x1="663.4" y1="176.83" x2="586.4" y2="155.43" stroke="#e4e4e4" stroke-width="0.7"/>
<line x1="663.4" y1="157.81" x2="586.4" y2="136.41" stroke="#e4e4e4" stroke-width="0.7"/>
<line x1="582.36" y1="209.03" x2="505.36" y2="187.63" stroke="#ececec" stroke-width="0.7"/>
<line x1="602.13" y1="205.82" x2="525.13" y2="184.42" stroke="#ececec" stroke-width="0.7"/>
<line x1="621.89" y1="202.6" x2="544.89" y2="181.2" stroke="#ececec" stroke-width="0.7"/>
<line x1="641.66" y1="199.39" x2="564.66" y2="177.99" stroke="#ececec" stroke-width="0.7"/>
<line x1="661.42" y1="196.17" x2="584.42" y2="174.77" stroke="#ececec" stroke-width="0.7"/>
<line x1="547.5" y1="208.05" x2="648.3" y2="191.65" stroke="#ececec" stroke-width="0.7"/>
<line x1="532.4" y1="203.86" x2="633.2" y2="187.46" stroke="#ececec" stroke-width="0.7"/>
<line x1="517.31" y1="199.66" x2="618.11" y2="183.26" stroke="#ececec" stroke-width="0.7"/>
<line x1="502.21" y1="195.47" x2="603.01" y2="179.07" stroke="#ececec" stroke-width="0.7"/>
<line x1="487.11" y1="191.27" x2="587.91" y2="174.87" stroke="#ececec" stroke-width="0.7"/>
<line x1="586.4" y1="174.45" x2="586.4" y2="127.85" stroke="#9a9a9a" stroke-width="0.8"/>
<line x1="485.6" y1="190.85" x2="586.4" y2="174.45" stroke="#505050" stroke-width="0.75"/>
<line x1="663.4" y1="195.85" x2="586.4" y2="174.45" stroke="#505050" stroke-width="0.75"/>
<line x1="485.6" y1="190.85" x2="485.6" y2="144.25" stroke="#505050" stroke-width="0.75"/>
<line x1="485.6" y1="144.25" x2="586.4" y2="127.85" stroke="#505050" stroke-width="0.75"/>
<line x1="586.4" y1="127.85" x2="663.4" y2="149.25" stroke="#505050" stroke-width="0.75"/>
<line x1="663.4" y1="195.85" x2="663.4" y2="149.25" stroke="#505050" stroke-width="0.75"/>
<line x1="562.6" y1="212.25" x2="663.4" y2="195.85" stroke="#505050" stroke-width="0.75"/>
<line x1="562.6" y1="212.25" x2="485.6" y2="190.85" stroke="#505050" stroke-width="0.75"/>
<line x1="483.6" y1="190.85" x2="485.6" y2="190.85" stroke="#505050" stroke-width="0.7"/>
<text x="481.4" y="192.85" font-size="5.6" text-anchor="end" font-weight="normal" fill="#484848" font-family="'Liberation Sans', sans-serif">0</text>
<line x1="483.6" y1="171.83" x2="485.6" y2="171.83" stroke="#505050" stroke-width="0.7"/>
<text x="481.4" y="173.83" font-size="5.6" text-anchor="end" font-weight="normal" fill="#484848" font-family="'Liberation Sans', sans-serif">2</text>
<line x1="483.6" y1="152.81" x2="485.6" y2="152.81" stroke="#505050" stroke-width="0.7"/>
<text x="481.4" y="154.81" font-size="5.6" text-anchor="end" font-weight="normal" fill="#484848" font-family="'Liberation Sans', sans-serif">4</text>
<text x="567.1" y="218.25" font-size="5.6" text-anchor="start" font-weight="normal" fill="#484848" font-family="'Liberation Sans', sans-serif">0</text>
<text x="586.86" y="215.03" font-size="5.6" text-anchor="start" font-weight="normal" fill="#484848" font-family="'Liberation Sans', sans-serif">50</text>
<line x1="582.36" y1="209.03" x2="583.91" y2="209.46" stroke="#505050" stroke-width="0.6"/>
<text x="606.63" y="211.82" font-size="5.6" text-anchor="start" font-weight="normal" fill="#484848" font-family="'Liberation Sans', sans-serif">100</text>
<line x1="602.13" y1="205.82" x2="603.67" y2="206.25" stroke="#505050" stroke-width="0.6"/>
<text x="626.39" y="208.6" font-size="5.6" text-anchor="start" font-weight="normal" fill="#484848" font-family="'Liberation Sans', sans-serif">150</text>
<line x1="621.89" y1="202.6" x2="623.44" y2="203.03" stroke="#505050" stroke-width="0.6"/>
<text x="646.16" y="205.39" font-size="5.6" text-anchor="start" font-weight="normal" fill="#484848" font-family="'Liberation Sans', sans-serif">200</text>
<line x1="641.66" y1="199.39" x2="643.2" y2="199.82" stroke="#505050" stroke-width="0.6"/>
<text x="665.92" y="202.17" font-size="5.6" text-anchor="start" font-weight="normal" fill="#484848" font-family="'Liberation Sans', sans-serif">250</text>
<line x1="661.42" y1="196.17" x2="662.97" y2="196.6" stroke="#505050" stroke-width="0.6"/>
<line x1="547.5" y1="208.05" x2="545.92" y2="208.31" stroke="#505050" stroke-width="0.6"/>
<line x1="532.4" y1="203.86" x2="530.82" y2="204.11" stroke="#505050" stroke-width="0.6"/>
<line x1="517.31" y1="199.66" x2="515.73" y2="199.92" stroke="#505050" stroke-width="0.6"/>
<line x1="502.21" y1="195.47" x2="500.63" y2="195.72" stroke="#505050" stroke-width="0.6"/>
<line x1="487.11" y1="191.27" x2="485.53" y2="191.53" stroke="#505050" stroke-width="0.6"/>
<text x="558.5" y="218.25" font-size="5.6" text-anchor="end" font-weight="normal" fill="#484848" font-family="'Liberation Sans', sans-serif">0</text>
<text x="543.4" y="214.05" font-size="5.6" text-anchor="end" font-weight="normal" fill="#484848" font-family="'Liberation Sans', sans-serif">50</text>
<text x="528.3" y="209.86" font-size="5.6" text-anchor="end" font-weight="normal" fill="#484848" font-family="'Liberation Sans', sans-serif">100</text>
<text x="513.21" y="205.66" font-size="5.6" text-anchor="end" font-weight="normal" fill="#484848" font-family="'Liberation Sans', sans-serif">150</text>
<text x="498.11" y="201.47" font-size="5.6" text-anchor="end" font-weight="normal" fill="#484848" font-family="'Liberation Sans', sans-serif">200</text>
<text x="483.01" y="197.27" font-size="5.6" text-anchor="end" font-weight="normal" fill="#484848" font-family="'Liberation Sans', sans-serif">250</text>
<text x="471.7" y="136.45" font-size="6.8" text-anchor="start" font-weight="normal" fill="#444" font-family="'Liberation Serif', serif">×10<tspan font-size="4.2" dy="-2.4">4</tspan></text>
<text x="574.5" y="125.35" font-size="6.43" text-anchor="middle" font-weight="bold" fill="#262626" font-family="'Liberation Sans', sans-serif">Pixel Distribution (Diagonal-wise) of Original Image - Green component</text>
<text x="524.1" y="233.35" font-size="6.15" text-anchor="middle" font-weight="normal" fill="#484848" font-family="'Liberation Sans', sans-serif">Pixel value on location (x+1,y+1)</text>
<text x="613" y="227.25" font-size="6.15" text-anchor="middle" font-weight="normal" fill="#484848" font-family="'Liberation Sans', sans-serif">Pixel value on location (x,y)</text>
<path d="M594 206.05 602.9 201.65 609.5 196.15 610.6 190.55 608.4 185.05 599.6 179.25 586.4 174.05 570.6 177.75 556.8 181.65 547.4 184.85 540.3 190.65 537.9 196.55 540.3 202.45 548.6 207.25 552.6 209.25 562.6 212.25 586.63 208.34Z" fill="#00ff00"/>
<path d="M589 176h1v1h-1zM573 177h1v1h-1zM576 177h1v1h-1zM588 177h1v1h-1zM590 177h1v1h-1zM592 177h2v1h-2zM573 178h2v1h-2zM591 178h1v1h-1zM593 178h1v1h-1zM595 178h2v1h-2zM564 179h1v1h-1zM567 179h1v1h-1zM569 179h1v1h-1zM573 179h2v1h-2zM593 179h1v1h-1zM596 179h2v1h-2zM599 179h1v1h-1zM564 180h1v1h-1zM569 180h1v1h-1zM575 180h1v1h-1zM589 180h1v1h-1zM592 180h2v1h-2zM595 180h1v1h-1zM598 180h3v1h-3zM558 181h4v1h-4zM563 181h1v1h-1zM567 181h1v1h-1zM569 181h1v1h-1zM571 181h1v1h-1zM573 181h1v1h-1zM589 181h2v1h-2zM592 181h1v1h-1zM594 181h2v1h-2zM598 181h1v1h-1zM600 181h1v1h-1zM602 181h1v1h-1zM555 182h1v1h-1zM566 182h2v1h-2zM569 182h1v1h-1zM573 182h1v1h-1zM587 182h1v1h-1zM592 182h3v1h-3zM596 182h1v1h-1zM598 182h4v1h-4zM603 182h2v1h-2zM551 183h1v1h-1zM554 183h3v1h-3zM561 183h6v1h-6zM568 183h1v1h-1zM570 183h4v1h-4zM585 183h1v1h-1zM587 183h1v1h-1zM590 183h1v1h-1zM593 183h1v1h-1zM597 183h2v1h-2zM600 183h2v1h-2zM604 183h1v1h-1zM550 184h1v1h-1zM553 184h2v1h-2zM558 184h1v1h-1zM560 184h1v1h-1zM562 184h3v1h-3zM571 184h2v1h-2zM584 184h1v1h-1zM588 184h2v1h-2zM592 184h1v1h-1zM594 184h2v1h-2zM598 184h3v1h-3zM602 184h2v1h-2zM606 184h1v1h-1zM550 185h1v1h-1zM553 185h1v1h-1zM556 185h2v1h-2zM559 185h2v1h-2zM563 185h1v1h-1zM565 185h2v1h-2zM568 185h1v1h-1zM570 185h2v1h-2zM584 185h1v1h-1zM586 185h1v1h-1zM589 185h1v1h-1zM591 185h1v1h-1zM593 185h2v1h-2zM598 185h1v1h-1zM552 186h1v1h-1zM554 186h1v1h-1zM560 186h2v1h-2zM570 186h1v1h-1zM584 186h3v1h-3zM591 186h2v1h-2zM594 186h2v1h-2zM603 186h2v1h-2zM606 186h3v1h-3zM544 187h1v1h-1zM546 187h1v1h-1zM557 187h1v1h-1zM559 187h2v1h-2zM563 187h1v1h-1zM568 187h1v1h-1zM583 187h1v1h-1zM587 187h1v1h-1zM590 187h2v1h-2zM594 187h4v1h-4zM601 187h1v1h-1zM603 187h6v1h-6zM547 188h2v1h-2zM550 188h2v1h-2zM554 188h1v1h-1zM556 188h1v1h-1zM558 188h1v1h-1zM564 188h1v1h-1zM566 188h1v1h-1zM569 188h2v1h-2zM583 188h1v1h-1zM589 188h1v1h-1zM591 188h1v1h-1zM593 188h4v1h-4zM598 188h6v1h-6zM605 188h1v1h-1zM543 189h3v1h-3zM550 189h1v1h-1zM552 189h1v1h-1zM557 189h2v1h-2zM565 189h1v1h-1zM568 189h1v1h-1zM583 189h1v1h-1zM587 189h2v1h-2zM590 189h1v1h-1zM592 189h3v1h-3zM596 189h2v1h-2zM599 189h1v1h-1zM602 189h1v1h-1zM606 189h1v1h-1zM540 190h1v1h-1zM542 190h1v1h-1zM545 190h1v1h-1zM548 190h1v1h-1zM550 190h2v1h-2zM554 190h1v1h-1zM557 190h1v1h-1zM562 190h1v1h-1zM566 190h1v1h-1zM580 190h1v1h-1zM582 190h1v1h-1zM584 190h1v1h-1zM591 190h2v1h-2zM595 190h3v1h-3zM599 190h1v1h-1zM601 190h1v1h-1zM603 190h1v1h-1zM605 190h2v1h-2zM610 190h1v1h-1zM541 191h1v1h-1zM543 191h2v1h-2zM547 191h1v1h-1zM549 191h3v1h-3zM553 191h3v1h-3zM558 191h3v1h-3zM562 191h3v1h-3zM566 191h3v1h-3zM580 191h4v1h-4zM590 191h1v1h-1zM597 191h1v1h-1zM599 191h1v1h-1zM603 191h3v1h-3zM609 191h1v1h-1zM541 192h1v1h-1zM543 192h1v1h-1zM545 192h1v1h-1zM547 192h3v1h-3zM551 192h1v1h-1zM556 192h1v1h-1zM558 192h1v1h-1zM562 192h1v1h-1zM564 192h3v1h-3zM579 192h5v1h-5zM585 192h2v1h-2zM590 192h1v1h-1zM599 192h1v1h-1zM601 192h3v1h-3zM539 193h2v1h-2zM545 193h2v1h-2zM552 193h1v1h-1zM554 193h2v1h-2zM562 193h1v1h-1zM586 193h1v1h-1zM590 193h1v1h-1zM592 193h2v1h-2zM598 193h2v1h-2zM601 193h1v1h-1zM603 193h4v1h-4zM609 193h1v1h-1zM539 194h1v1h-1zM541 194h1v1h-1zM543 194h2v1h-2zM546 194h4v1h-4zM552 194h1v1h-1zM554 194h2v1h-2zM558 194h1v1h-1zM564 194h3v1h-3zM579 194h1v1h-1zM582 194h1v1h-1zM589 194h2v1h-2zM592 194h1v1h-1zM597 194h2v1h-2zM601 194h3v1h-3zM608 194h1v1h-1zM538 195h2v1h-2zM542 195h1v1h-1zM545 195h2v1h-2zM548 195h3v1h-3zM554 195h1v1h-1zM556 195h1v1h-1zM558 195h1v1h-1zM562 195h1v1h-1zM564 195h1v1h-1zM577 195h1v1h-1zM579 195h3v1h-3zM584 195h3v1h-3zM589 195h4v1h-4zM594 195h1v1h-1zM597 195h2v1h-2zM605 195h1v1h-1zM607 195h2v1h-2zM538 196h1v1h-1zM545 196h1v1h-1zM547 196h2v1h-2zM556 196h1v1h-1zM562 196h2v1h-2zM578 196h1v1h-1zM580 196h3v1h-3zM584 196h3v1h-3zM590 196h3v1h-3zM594 196h3v1h-3zM598 196h1v1h-1zM602 196h2v1h-2zM605 196h1v1h-1zM608 196h1v1h-1zM538 197h1v1h-1zM540 197h2v1h-2zM545 197h1v1h-1zM549 197h3v1h-3zM554 197h1v1h-1zM558 197h1v1h-1zM561 197h3v1h-3zM577 197h1v1h-1zM579 197h1v1h-1zM582 197h3v1h-3zM587 197h1v1h-1zM590 197h3v1h-3zM596 197h1v1h-1zM602 197h5v1h-5zM540 198h6v1h-6zM548 198h1v1h-1zM550 198h1v1h-1zM553 198h2v1h-2zM558 198h2v1h-2zM561 198h1v1h-1zM563 198h1v1h-1zM575 198h1v1h-1zM578 198h2v1h-2zM582 198h1v1h-1zM586 198h1v1h-1zM588 198h1v1h-1zM591 198h1v1h-1zM594 198h1v1h-1zM599 198h3v1h-3zM605 198h1v1h-1zM541 199h3v1h-3zM545 199h3v1h-3zM549 199h1v1h-1zM560 199h1v1h-1zM562 199h1v1h-1zM577 199h3v1h-3zM583 199h1v1h-1zM585 199h1v1h-1zM588 199h1v1h-1zM591 199h1v1h-1zM594 199h6v1h-6zM540 200h3v1h-3zM547 200h1v1h-1zM549 200h1v1h-1zM551 200h1v1h-1zM557 200h1v1h-1zM560 200h1v1h-1zM562 200h1v1h-1zM577 200h3v1h-3zM582 200h1v1h-1zM584 200h1v1h-1zM586 200h3v1h-3zM595 200h2v1h-2zM598 200h1v1h-1zM600 200h1v1h-1zM542 201h2v1h-2zM548 201h1v1h-1zM550 201h1v1h-1zM552 201h5v1h-5zM560 201h1v1h-1zM574 201h2v1h-2zM578 201h3v1h-3zM583 201h1v1h-1zM589 201h1v1h-1zM591 201h1v1h-1zM594 201h1v1h-1zM596 201h1v1h-1zM602 201h1v1h-1zM540 202h1v1h-1zM544 202h1v1h-1zM547 202h3v1h-3zM552 202h6v1h-6zM561 202h1v1h-1zM573 202h2v1h-2zM578 202h1v1h-1zM582 202h3v1h-3zM589 202h1v1h-1zM592 202h1v1h-1zM595 202h1v1h-1zM597 202h1v1h-1zM599 202h1v1h-1zM543 203h1v1h-1zM547 203h5v1h-5zM557 203h1v1h-1zM573 203h1v1h-1zM576 203h1v1h-1zM579 203h1v1h-1zM581 203h1v1h-1zM583 203h1v1h-1zM587 203h3v1h-3zM593 203h2v1h-2zM596 203h1v1h-1zM546 204h1v1h-1zM549 204h1v1h-1zM551 204h2v1h-2zM558 204h1v1h-1zM575 204h1v1h-1zM578 204h1v1h-1zM581 204h2v1h-2zM584 204h1v1h-1zM586 204h3v1h-3zM591 204h1v1h-1zM549 205h2v1h-2zM554 205h2v1h-2zM558 205h1v1h-1zM574 205h1v1h-1zM578 205h1v1h-1zM581 205h1v1h-1zM585 205h1v1h-1zM592 205h1v1h-1zM550 206h1v1h-1zM552 206h3v1h-3zM556 206h2v1h-2zM572 206h1v1h-1zM574 206h1v1h-1zM576 206h3v1h-3zM580 206h1v1h-1zM583 206h5v1h-5zM591 206h1v1h-1zM551 207h1v1h-1zM554 207h2v1h-2zM557 207h1v1h-1zM571 207h2v1h-2zM576 207h1v1h-1zM578 207h4v1h-4zM583 207h1v1h-1zM585 207h2v1h-2zM551 208h1v1h-1zM556 208h1v1h-1zM578 208h1v1h-1zM581 208h3v1h-3zM554 209h3v1h-3zM568 209h1v1h-1zM573 209h1v1h-1zM575 209h3v1h-3zM579 209h1v1h-1zM568 210h2v1h-2zM571 210h1v1h-1zM560 211h2v1h-2zM563 211h1v1h-1z" fill="#007800" fill-opacity="0.2"/>
<path d="M580 175h2v1h-2zM587 175h1v1h-1zM578 176h5v1h-5zM584 176h1v1h-1zM588 176h1v1h-1zM590 176h2v1h-2zM572 177h2v1h-2zM578 177h2v1h-2zM584 177h1v1h-1zM587 177h2v1h-2zM593 177h1v1h-1zM568 178h1v1h-1zM571 178h2v1h-2zM574 178h1v1h-1zM580 178h1v1h-1zM587 178h1v1h-1zM589 178h1v1h-1zM596 178h2v1h-2zM564 179h1v1h-1zM567 179h1v1h-1zM574 179h2v1h-2zM577 179h1v1h-1zM581 179h1v1h-1zM585 179h1v1h-1zM587 179h1v1h-1zM597 179h1v1h-1zM599 179h1v1h-1zM565 180h3v1h-3zM569 180h1v1h-1zM572 180h1v1h-1zM590 180h1v1h-1zM596 180h1v1h-1zM598 180h1v1h-1zM560 181h3v1h-3zM566 181h1v1h-1zM601 181h2v1h-2zM554 182h1v1h-1zM556 182h2v1h-2zM559 182h1v1h-1zM571 182h1v1h-1zM596 182h1v1h-1zM598 182h1v1h-1zM600 182h1v1h-1zM604 182h1v1h-1zM552 183h4v1h-4zM565 183h1v1h-1zM605 183h1v1h-1zM548 184h3v1h-3zM557 184h1v1h-1zM559 184h3v1h-3zM563 184h1v1h-1zM565 184h1v1h-1zM555 185h1v1h-1zM562 185h1v1h-1zM548 186h1v1h-1zM550 186h1v1h-1zM602 186h2v1h-2zM605 186h3v1h-3zM546 187h1v1h-1zM550 187h1v1h-1zM608 187h1v1h-1zM547 188h1v1h-1zM608 189h1v1h-1zM540 190h3v1h-3zM546 190h1v1h-1zM607 190h2v1h-2zM540 191h3v1h-3zM607 191h1v1h-1zM540 192h1v1h-1zM544 192h1v1h-1zM605 192h2v1h-2zM609 192h1v1h-1zM540 193h1v1h-1zM607 193h3v1h-3zM603 194h1v1h-1zM607 194h3v1h-3zM538 195h2v1h-2zM542 195h1v1h-1zM607 195h1v1h-1zM609 195h1v1h-1zM539 196h1v1h-1zM606 196h1v1h-1zM602 197h1v1h-1zM604 197h1v1h-1zM539 198h1v1h-1zM542 198h1v1h-1zM606 198h1v1h-1zM539 199h1v1h-1zM602 199h1v1h-1zM540 200h1v1h-1zM597 200h1v1h-1zM601 200h1v1h-1zM603 200h1v1h-1zM542 201h1v1h-1zM544 201h2v1h-2zM595 201h2v1h-2zM598 201h3v1h-3zM542 202h1v1h-1zM548 202h1v1h-1zM595 202h1v1h-1zM597 202h1v1h-1zM599 202h2v1h-2zM543 203h2v1h-2zM584 203h1v1h-1zM598 203h1v1h-1zM545 204h1v1h-1zM591 204h1v1h-1zM595 204h2v1h-2zM546 205h1v1h-1zM549 205h1v1h-1zM552 205h1v1h-1zM574 205h1v1h-1zM577 205h1v1h-1zM586 205h1v1h-1zM589 205h1v1h-1zM592 205h1v1h-1zM594 205h1v1h-1zM547 206h3v1h-3zM553 206h1v1h-1zM572 206h1v1h-1zM580 206h1v1h-1zM584 206h1v1h-1zM587 206h1v1h-1zM592 206h1v1h-1zM550 207h1v1h-1zM552 207h1v1h-1zM566 207h1v1h-1zM572 207h4v1h-4zM579 207h1v1h-1zM581 207h1v1h-1zM583 207h1v1h-1zM588 207h1v1h-1zM551 208h1v1h-1zM561 208h1v1h-1zM569 208h1v1h-1zM575 208h3v1h-3zM580 208h2v1h-2zM584 208h1v1h-1zM555 209h2v1h-2zM558 209h1v1h-1zM564 209h1v1h-1zM568 209h1v1h-1zM570 209h1v1h-1zM576 209h1v1h-1zM557 210h5v1h-5zM564 210h1v1h-1zM566 210h2v1h-2zM572 210h1v1h-1zM561 211h2v1h-2zM564 211h2v1h-2z" fill="#fff" fill-opacity="0.5"/>
<path d="M578 175h2v1h-2zM590 175h1v1h-1zM568 177h1v1h-1zM571 177h1v1h-1zM595 177h1v1h-1zM561 178h1v1h-1zM563 178h1v1h-1zM566 178h1v1h-1zM561 179h1v1h-1zM563 179h1v1h-1zM602 179h1v1h-1zM547 180h1v1h-1zM553 180h1v1h-1zM545 181h1v1h-1zM549 181h1v1h-1zM554 181h1v1h-1zM604 181h1v1h-1zM546 182h1v1h-1zM549 182h1v1h-1zM551 182h1v1h-1zM605 182h2v1h-2zM609 182h1v1h-1zM537 183h1v1h-1zM545 183h1v1h-1zM549 183h1v1h-1zM609 183h1v1h-1zM611 183h1v1h-1zM544 184h1v1h-1zM546 184h1v1h-1zM614 184h1v1h-1zM529 185h1v1h-1zM537 185h1v1h-1zM541 185h3v1h-3zM611 185h2v1h-2zM617 185h1v1h-1zM530 186h1v1h-1zM539 186h1v1h-1zM542 186h1v1h-1zM544 186h1v1h-1zM617 186h1v1h-1zM533 187h1v1h-1zM536 187h1v1h-1zM540 187h3v1h-3zM610 187h1v1h-1zM613 187h1v1h-1zM625 187h1v1h-1zM532 188h1v1h-1zM542 188h1v1h-1zM610 188h1v1h-1zM526 189h1v1h-1zM529 189h1v1h-1zM537 189h1v1h-1zM540 189h1v1h-1zM610 189h1v1h-1zM616 189h1v1h-1zM618 189h1v1h-1zM529 190h1v1h-1zM532 190h1v1h-1zM536 190h2v1h-2zM614 190h1v1h-1zM537 191h2v1h-2zM610 191h1v1h-1zM614 191h1v1h-1zM618 191h1v1h-1zM531 192h1v1h-1zM535 192h2v1h-2zM538 192h2v1h-2zM612 192h2v1h-2zM617 192h1v1h-1zM619 192h1v1h-1zM621 192h1v1h-1zM628 192h1v1h-1zM526 193h1v1h-1zM528 193h2v1h-2zM532 193h1v1h-1zM612 193h1v1h-1zM615 193h1v1h-1zM617 193h2v1h-2zM521 194h2v1h-2zM530 194h1v1h-1zM536 194h1v1h-1zM611 194h1v1h-1zM623 194h1v1h-1zM627 194h1v1h-1zM525 195h1v1h-1zM532 195h2v1h-2zM610 195h2v1h-2zM614 195h1v1h-1zM522 196h1v1h-1zM530 196h1v1h-1zM609 196h1v1h-1zM621 196h1v1h-1zM631 196h1v1h-1zM609 197h1v1h-1zM614 197h1v1h-1zM529 198h2v1h-2zM609 198h1v1h-1zM617 198h1v1h-1zM531 199h3v1h-3zM536 199h2v1h-2zM605 199h3v1h-3zM614 199h1v1h-1zM617 199h1v1h-1zM530 200h1v1h-1zM538 200h1v1h-1zM610 200h1v1h-1zM617 200h1v1h-1zM619 200h1v1h-1zM535 201h3v1h-3zM609 201h1v1h-1zM616 201h2v1h-2zM608 202h1v1h-1zM539 203h2v1h-2zM538 204h1v1h-1zM543 204h1v1h-1zM598 204h1v1h-1zM601 204h2v1h-2zM605 204h1v1h-1zM538 205h1v1h-1zM540 205h1v1h-1zM599 205h1v1h-1zM545 206h2v1h-2zM594 206h1v1h-1zM596 206h1v1h-1zM589 207h2v1h-2zM556 210h1v1h-1z" fill="#00ff00" fill-opacity="0.25"/>
<path d="M573 176h1v1h-1zM575 176h1v1h-1zM570 177h1v1h-1zM596 177h1v1h-1zM598 178h1v1h-1zM555 179h2v1h-2zM559 179h2v1h-2zM562 179h1v1h-1zM601 179h1v1h-1zM603 179h1v1h-1zM549 180h1v1h-1zM554 180h1v1h-1zM603 180h1v1h-1zM541 181h1v1h-1zM546 181h1v1h-1zM548 181h1v1h-1zM550 181h1v1h-1zM552 181h1v1h-1zM605 181h1v1h-1zM608 181h1v1h-1zM610 181h1v1h-1zM547 182h1v1h-1zM550 182h1v1h-1zM607 182h1v1h-1zM540 183h1v1h-1zM547 183h1v1h-1zM608 183h1v1h-1zM539 184h1v1h-1zM547 184h1v1h-1zM609 184h3v1h-3zM613 184h1v1h-1zM531 185h1v1h-1zM535 185h1v1h-1zM540 185h1v1h-1zM546 185h1v1h-1zM614 185h1v1h-1zM526 186h1v1h-1zM533 186h1v1h-1zM538 186h1v1h-1zM610 186h1v1h-1zM627 186h1v1h-1zM527 187h1v1h-1zM535 187h1v1h-1zM537 187h1v1h-1zM539 187h1v1h-1zM615 187h1v1h-1zM620 187h1v1h-1zM527 188h1v1h-1zM533 188h3v1h-3zM538 188h2v1h-2zM541 188h1v1h-1zM611 188h1v1h-1zM619 188h1v1h-1zM621 188h1v1h-1zM626 188h1v1h-1zM521 189h1v1h-1zM531 189h1v1h-1zM534 189h1v1h-1zM615 189h1v1h-1zM620 189h1v1h-1zM628 189h1v1h-1zM611 190h2v1h-2zM619 190h1v1h-1zM622 190h1v1h-1zM624 190h2v1h-2zM629 190h1v1h-1zM532 191h1v1h-1zM611 191h1v1h-1zM620 191h2v1h-2zM528 192h1v1h-1zM534 192h1v1h-1zM537 192h1v1h-1zM614 192h2v1h-2zM622 192h1v1h-1zM626 192h1v1h-1zM534 193h1v1h-1zM537 193h2v1h-2zM622 193h2v1h-2zM627 193h1v1h-1zM527 194h1v1h-1zM532 194h1v1h-1zM534 194h2v1h-2zM537 194h1v1h-1zM614 194h2v1h-2zM620 194h1v1h-1zM528 195h1v1h-1zM534 195h2v1h-2zM613 195h1v1h-1zM618 195h1v1h-1zM528 196h1v1h-1zM612 196h1v1h-1zM620 196h1v1h-1zM627 196h1v1h-1zM525 197h1v1h-1zM530 197h1v1h-1zM534 197h2v1h-2zM537 197h1v1h-1zM611 197h2v1h-2zM616 197h1v1h-1zM618 197h1v1h-1zM622 197h2v1h-2zM625 197h1v1h-1zM536 198h1v1h-1zM607 198h2v1h-2zM612 198h1v1h-1zM614 198h1v1h-1zM625 198h1v1h-1zM528 199h1v1h-1zM609 199h1v1h-1zM612 199h2v1h-2zM620 199h1v1h-1zM533 200h1v1h-1zM539 200h1v1h-1zM604 200h1v1h-1zM608 200h1v1h-1zM611 200h1v1h-1zM614 200h1v1h-1zM620 200h1v1h-1zM526 201h1v1h-1zM539 201h1v1h-1zM606 201h1v1h-1zM613 201h1v1h-1zM618 201h1v1h-1zM530 202h1v1h-1zM539 202h1v1h-1zM603 202h2v1h-2zM606 202h1v1h-1zM609 202h1v1h-1zM612 202h1v1h-1zM614 202h2v1h-2zM536 203h1v1h-1zM602 203h2v1h-2zM599 204h2v1h-2zM539 205h1v1h-1zM545 205h1v1h-1zM596 205h1v1h-1z" fill="#00ff00" fill-opacity="0.45"/>
<path d="M574 176h1v1h-1zM562 178h1v1h-1zM565 178h1v1h-1zM599 178h2v1h-2zM557 179h1v1h-1zM600 179h1v1h-1zM604 179h1v1h-1zM557 180h4v1h-4zM602 180h1v1h-1zM605 180h1v1h-1zM542 181h2v1h-2zM555 181h2v1h-2zM603 181h1v1h-1zM607 181h1v1h-1zM609 181h1v1h-1zM536 182h2v1h-2zM541 182h1v1h-1zM545 182h1v1h-1zM608 182h1v1h-1zM612 182h1v1h-1zM546 183h1v1h-1zM606 183h2v1h-2zM615 183h1v1h-1zM535 184h1v1h-1zM542 184h2v1h-2zM545 185h1v1h-1zM613 185h1v1h-1zM531 186h1v1h-1zM540 186h1v1h-1zM543 186h1v1h-1zM609 186h1v1h-1zM616 186h1v1h-1zM528 187h1v1h-1zM532 187h1v1h-1zM611 187h1v1h-1zM530 188h1v1h-1zM537 188h1v1h-1zM540 188h1v1h-1zM612 188h1v1h-1zM615 188h1v1h-1zM620 188h1v1h-1zM629 188h1v1h-1zM536 189h1v1h-1zM538 189h1v1h-1zM541 189h1v1h-1zM613 189h2v1h-2zM623 189h1v1h-1zM531 190h1v1h-1zM535 190h1v1h-1zM538 190h2v1h-2zM615 190h1v1h-1zM620 190h1v1h-1zM628 190h1v1h-1zM524 191h1v1h-1zM529 191h1v1h-1zM531 191h1v1h-1zM533 191h1v1h-1zM535 191h1v1h-1zM539 191h1v1h-1zM613 191h1v1h-1zM615 191h1v1h-1zM624 191h1v1h-1zM525 192h2v1h-2zM533 192h1v1h-1zM611 192h1v1h-1zM623 192h1v1h-1zM536 193h1v1h-1zM611 193h1v1h-1zM614 193h1v1h-1zM529 194h1v1h-1zM538 194h1v1h-1zM610 194h1v1h-1zM612 194h1v1h-1zM616 194h1v1h-1zM618 194h1v1h-1zM526 195h1v1h-1zM612 195h1v1h-1zM616 195h2v1h-2zM619 195h3v1h-3zM627 195h1v1h-1zM523 196h1v1h-1zM535 196h3v1h-3zM610 196h1v1h-1zM613 196h1v1h-1zM608 197h1v1h-1zM610 197h1v1h-1zM621 197h1v1h-1zM527 198h1v1h-1zM533 198h1v1h-1zM537 198h1v1h-1zM613 198h1v1h-1zM527 199h1v1h-1zM535 199h1v1h-1zM608 199h1v1h-1zM525 200h1v1h-1zM529 200h1v1h-1zM605 200h1v1h-1zM607 200h1v1h-1zM609 200h1v1h-1zM612 200h1v1h-1zM533 201h1v1h-1zM538 201h1v1h-1zM607 201h2v1h-2zM610 201h1v1h-1zM612 201h1v1h-1zM615 201h1v1h-1zM531 202h2v1h-2zM535 202h1v1h-1zM537 202h1v1h-1zM602 202h1v1h-1zM605 202h1v1h-1zM610 202h1v1h-1zM616 202h1v1h-1zM534 203h1v1h-1zM537 203h1v1h-1zM541 203h1v1h-1zM599 203h3v1h-3zM604 203h1v1h-1zM607 203h1v1h-1zM614 203h1v1h-1zM536 204h1v1h-1zM539 204h1v1h-1zM541 204h1v1h-1zM603 204h1v1h-1zM608 204h2v1h-2zM597 205h1v1h-1zM602 205h1v1h-1zM543 206h2v1h-2zM593 206h1v1h-1zM595 206h1v1h-1zM547 207h2v1h-2zM591 207h1v1h-1z" fill="#00ff00" fill-opacity="0.65"/>
<path d="M572 176h1v1h-1zM593 176h2v1h-2zM566 177h1v1h-1zM569 177h1v1h-1zM597 177h1v1h-1zM564 178h1v1h-1zM567 178h1v1h-1zM601 178h1v1h-1zM554 179h1v1h-1zM605 179h1v1h-1zM551 180h1v1h-1zM555 180h2v1h-2zM601 180h1v1h-1zM604 180h1v1h-1zM606 180h1v1h-1zM553 181h1v1h-1zM606 181h1v1h-1zM612 181h1v1h-1zM544 182h1v1h-1zM548 182h1v1h-1zM552 182h2v1h-2zM611 182h1v1h-1zM615 182h1v1h-1zM542 183h3v1h-3zM548 183h1v1h-1zM550 183h1v1h-1zM610 183h1v1h-1zM533 184h1v1h-1zM537 184h2v1h-2zM541 184h1v1h-1zM545 184h1v1h-1zM608 184h1v1h-1zM617 184h1v1h-1zM539 185h1v1h-1zM544 185h1v1h-1zM609 185h2v1h-2zM534 186h1v1h-1zM537 186h1v1h-1zM541 186h1v1h-1zM529 187h1v1h-1zM534 187h1v1h-1zM538 187h1v1h-1zM543 187h1v1h-1zM609 187h1v1h-1zM612 187h1v1h-1zM619 187h1v1h-1zM623 187h1v1h-1zM531 188h1v1h-1zM613 188h2v1h-2zM628 188h1v1h-1zM539 189h1v1h-1zM611 189h2v1h-2zM617 189h1v1h-1zM621 189h1v1h-1zM624 189h1v1h-1zM626 189h1v1h-1zM533 190h2v1h-2zM616 190h1v1h-1zM534 191h1v1h-1zM536 191h1v1h-1zM612 191h1v1h-1zM616 191h1v1h-1zM619 191h1v1h-1zM529 192h1v1h-1zM610 192h1v1h-1zM616 192h1v1h-1zM624 192h1v1h-1zM525 193h1v1h-1zM530 193h1v1h-1zM535 193h1v1h-1zM610 193h1v1h-1zM613 193h1v1h-1zM619 193h1v1h-1zM621 193h1v1h-1zM629 193h1v1h-1zM519 194h1v1h-1zM531 194h1v1h-1zM533 194h1v1h-1zM613 194h1v1h-1zM619 194h1v1h-1zM621 194h2v1h-2zM527 195h1v1h-1zM529 195h1v1h-1zM536 195h2v1h-2zM615 195h1v1h-1zM622 195h2v1h-2zM527 196h1v1h-1zM531 196h1v1h-1zM533 196h1v1h-1zM611 196h1v1h-1zM616 196h1v1h-1zM618 196h1v1h-1zM523 197h1v1h-1zM529 197h1v1h-1zM531 197h2v1h-2zM536 197h1v1h-1zM613 197h1v1h-1zM526 198h1v1h-1zM528 198h1v1h-1zM532 198h1v1h-1zM534 198h2v1h-2zM538 198h1v1h-1zM610 198h2v1h-2zM615 198h2v1h-2zM530 199h1v1h-1zM538 199h1v1h-1zM610 199h2v1h-2zM618 199h1v1h-1zM623 199h1v1h-1zM531 200h2v1h-2zM535 200h3v1h-3zM606 200h1v1h-1zM613 200h1v1h-1zM530 201h1v1h-1zM603 201h2v1h-2zM619 201h1v1h-1zM533 202h1v1h-1zM536 202h1v1h-1zM538 202h1v1h-1zM601 202h1v1h-1zM607 202h1v1h-1zM617 202h1v1h-1zM538 203h1v1h-1zM542 204h1v1h-1zM597 204h1v1h-1zM604 204h1v1h-1zM542 205h3v1h-3zM595 205h1v1h-1zM542 206h1v1h-1zM597 206h1v1h-1zM546 207h1v1h-1zM549 208h2v1h-2z" fill="#00ff00" fill-opacity="0.85"/>
<g filter="url(#rb)">
<path d="M560.78 211.49 562.14 207.88 563.5 204.27 564.85 200.66 566.21 197.05 568.44 193.44 570.71 189.83 572.99 186.22 575.26 182.61 577.53 179 579.8 175.4 588.8 175.4 586.53 179 584.26 182.61 581.99 186.22 579.71 189.83 577.44 193.44 575.15 197.05 572.42 200.66 569.68 204.27 566.95 207.88 564.22 211.49Z" fill="#007800" fill-opacity="0.22"/>
<path d="M561.24 211.49 562.78 207.88 564.32 204.27 565.86 200.66 567.4 197.05 569.64 193.44 571.91 189.83 574.19 186.22 576.46 182.61 578.73 179 581 175.4 587.8 175.4 585.53 179 583.26 182.61 580.99 186.22 578.71 189.83 576.44 193.44 574.15 197.05 571.58 200.66 569 204.27 566.42 207.88 563.84 211.49Z" fill="#007800" fill-opacity="0.2"/>
<path d="M560.98 211.49 562.41 207.88 563.84 204.27 565.27 200.66 566.71 197.05 568.94 193.44 571.21 189.83 573.49 186.22 575.76 182.61 578.03 179 580.3 175.4 582.8 175.4 580.53 179 578.26 182.61 575.99 186.22 573.71 189.83 571.44 193.44 569.19 197.05 567.37 200.66 565.56 204.27 563.74 207.88 561.93 211.49Z" fill="#007800" fill-opacity="0.15"/>
<path d="M583 175h2v1h-2zM586 175h1v1h-1zM578 176h1v1h-1zM588 176h1v1h-1zM577 177h1v1h-1zM579 177h1v1h-1zM579 178h1v1h-1zM581 178h2v1h-2zM584 178h3v1h-3zM584 179h1v1h-1zM578 180h1v1h-1zM580 180h2v1h-2zM584 180h2v1h-2zM579 181h1v1h-1zM583 181h1v1h-1zM574 182h1v1h-1zM582 183h1v1h-1zM576 184h1v1h-1zM579 184h3v1h-3zM573 185h1v1h-1zM576 185h1v1h-1zM578 185h1v1h-1zM581 185h1v1h-1zM574 186h1v1h-1zM579 186h1v1h-1zM581 186h1v1h-1zM581 187h1v1h-1zM573 188h1v1h-1zM575 188h1v1h-1zM574 190h4v1h-4zM579 190h1v1h-1zM576 191h1v1h-1zM577 192h1v1h-1zM571 193h1v1h-1zM574 194h1v1h-1zM574 195h1v1h-1zM570 196h1v1h-1zM575 196h1v1h-1zM568 197h2v1h-2zM571 197h5v1h-5zM569 199h3v1h-3zM574 199h1v1h-1zM566 200h1v1h-1zM568 200h1v1h-1zM570 200h1v1h-1zM567 202h1v1h-1zM565 203h1v1h-1zM571 203h1v1h-1zM563 204h1v1h-1zM560 205h1v1h-1zM563 205h2v1h-2zM559 206h2v1h-2zM559 207h1v1h-1zM563 207h1v1h-1zM566 207h1v1h-1zM558 208h3v1h-3zM563 208h1v1h-1zM562 209h1v1h-1zM564 209h1v1h-1zM567 209h1v1h-1zM557 210h2v1h-2z" fill="#007800" fill-opacity="0.2"/>
<path d="M585 175h1v1h-1zM581 176h1v1h-1zM585 176h1v1h-1zM578 177h1v1h-1zM586 177h1v1h-1zM578 178h1v1h-1zM583 178h1v1h-1zM577 179h1v1h-1zM579 179h1v1h-1zM582 179h1v1h-1zM585 179h1v1h-1zM576 180h1v1h-1zM576 181h1v1h-1zM578 181h1v1h-1zM576 182h1v1h-1zM582 182h1v1h-1zM576 183h3v1h-3zM580 183h1v1h-1zM583 183h1v1h-1zM582 184h1v1h-1zM576 186h2v1h-2zM571 187h1v1h-1zM573 187h1v1h-1zM570 189h2v1h-2zM575 189h1v1h-1zM578 189h1v1h-1zM569 190h1v1h-1zM571 190h1v1h-1zM575 191h1v1h-1zM573 192h1v1h-1zM567 193h2v1h-2zM575 193h1v1h-1zM569 194h1v1h-1zM576 194h2v1h-2zM566 195h1v1h-1zM570 195h1v1h-1zM571 196h1v1h-1zM574 196h1v1h-1zM570 197h1v1h-1zM565 198h1v1h-1zM573 198h2v1h-2zM565 199h1v1h-1zM571 200h1v1h-1zM573 200h1v1h-1zM566 201h1v1h-1zM568 201h2v1h-2zM561 203h1v1h-1zM563 203h1v1h-1zM569 203h1v1h-1zM562 204h1v1h-1zM564 204h1v1h-1zM567 204h1v1h-1zM561 205h1v1h-1zM565 205h1v1h-1zM565 206h1v1h-1zM567 206h1v1h-1zM560 207h1v1h-1zM562 208h1v1h-1zM563 209h1v1h-1zM566 209h1v1h-1zM559 210h1v1h-1z" fill="#007800" fill-opacity="0.35"/>
</g>
<rect x="562.3" y="179.25" width="3.8" height="32" fill="#00af00" fill-opacity="0.45" filter="url(#rb)"/>
<rect x="562.55" y="165.35" width="2.3" height="45.15" fill="#00af00"/>
<rect x="579.9" y="158.65" width="2.2" height="24.38" fill="#00af00"/>
<line x1="39.16" y1="307.18" x2="39.16" y2="260.58" stroke="#e4e4e4" stroke-width="0.7"/>
<line x1="58.93" y1="303.97" x2="58.93" y2="257.37" stroke="#e4e4e4" stroke-width="0.7"/>
<line x1="78.69" y1="300.75" x2="78.69" y2="254.15" stroke="#e4e4e4" stroke-width="0.7"/>
<line x1="98.46" y1="297.54" x2="98.46" y2="250.94" stroke="#e4e4e4" stroke-width="0.7"/>
<line x1="118.22" y1="294.32" x2="118.22" y2="247.72" stroke="#e4e4e4" stroke-width="0.7"/>
<line x1="19.4" y1="292.48" x2="120.2" y2="276.08" stroke="#e4e4e4" stroke-width="0.7"/>
<line x1="19.4" y1="274.55" x2="120.2" y2="258.15" stroke="#e4e4e4" stroke-width="0.7"/>
<line x1="182.1" y1="311.2" x2="182.1" y2="264.6" stroke="#e4e4e4" stroke-width="0.7"/>
<line x1="167" y1="307.01" x2="167" y2="260.41" stroke="#e4e4e4" stroke-width="0.7"/>
<line x1="151.91" y1="302.81" x2="151.91" y2="256.21" stroke="#e4e4e4" stroke-width="0.7"/>
<line x1="136.81" y1="298.62" x2="136.81" y2="252.02" stroke="#e4e4e4" stroke-width="0.7"/>
<line x1="121.71" y1="294.42" x2="121.71" y2="247.82" stroke="#e4e4e4" stroke-width="0.7"/>
<line x1="197.2" y1="297.48" x2="120.2" y2="276.08" stroke="#e4e4e4" stroke-width="0.7"/>
<line x1="197.2" y1="279.55" x2="120.2" y2="258.15" stroke="#e4e4e4" stroke-width="0.7"/>
<line x1="116.16" y1="328.58" x2="39.16" y2="307.18" stroke="#ececec" stroke-width="0.7"/>
<line x1="135.93" y1="325.37" x2="58.93" y2="303.97" stroke="#ececec" stroke-width="0.7"/>
<line x1="155.69" y1="322.15" x2="78.69" y2="300.75" stroke="#ececec" stroke-width="0.7"/>
<line x1="175.46" y1="318.94" x2="98.46" y2="297.54" stroke="#ececec" stroke-width="0.7"/>
<line x1="195.22" y1="315.72" x2="118.22" y2="294.32" stroke="#ececec" stroke-width="0.7"/>
<line x1="81.3" y1="327.6" x2="182.1" y2="311.2" stroke="#ececec" stroke-width="0.7"/>
<line x1="66.2" y1="323.41" x2="167" y2="307.01" stroke="#ececec" stroke-width="0.7"/>
<line x1="51.11" y1="319.21" x2="151.91" y2="302.81" stroke="#ececec" stroke-width="0.7"/>
<line x1="36.01" y1="315.02" x2="136.81" y2="298.62" stroke="#ececec" stroke-width="0.7"/>
<line x1="20.91" y1="310.82" x2="121.71" y2="294.42" stroke="#ececec" stroke-width="0.7"/>
<line x1="120.2" y1="294" x2="120.2" y2="247.4" stroke="#9a9a9a" stroke-width="0.8"/>
<line x1="19.4" y1="310.4" x2="120.2" y2="294" stroke="#505050" stroke-width="0.75"/>
<line x1="197.2" y1="315.4" x2="120.2" y2="294" stroke="#505050" stroke-width="0.75"/>
<line x1="19.4" y1="310.4" x2="19.4" y2="263.8" stroke="#505050" stroke-width="0.75"/>
<line x1="19.4" y1="263.8" x2="120.2" y2="247.4" stroke="#505050" stroke-width="0.75"/>
<line x1="120.2" y1="247.4" x2="197.2" y2="268.8" stroke="#505050" stroke-width="0.75"/>
<line x1="197.2" y1="315.4" x2="197.2" y2="268.8" stroke="#505050" stroke-width="0.75"/>
<line x1="96.4" y1="331.8" x2="197.2" y2="315.4" stroke="#505050" stroke-width="0.75"/>
<line x1="96.4" y1="331.8" x2="19.4" y2="310.4" stroke="#505050" stroke-width="0.75"/>
<line x1="17.4" y1="310.4" x2="19.4" y2="310.4" stroke="#505050" stroke-width="0.7"/>
<text x="15.2" y="312.4" font-size="5.6" text-anchor="end" font-weight="normal" fill="#484848" font-family="'Liberation Sans', sans-serif">0</text>
<line x1="17.4" y1="292.48" x2="19.4" y2="292.48" stroke="#505050" stroke-width="0.7"/>
<text x="15.2" y="294.48" font-size="5.6" text-anchor="end" font-weight="normal" fill="#484848" font-family="'Liberation Sans', sans-serif">2</text>
<line x1="17.4" y1="274.55" x2="19.4" y2="274.55" stroke="#505050" stroke-width="0.7"/>
<text x="15.2" y="276.55" font-size="5.6" text-anchor="end" font-weight="normal" fill="#484848" font-family="'Liberation Sans', sans-serif">4</text>
<text x="100.9" y="337.8" font-size="5.6" text-anchor="start" font-weight="normal" fill="#484848" font-family="'Liberation Sans', sans-serif">0</text>
<text x="120.66" y="334.58" font-size="5.6" text-anchor="start" font-weight="normal" fill="#484848" font-family="'Liberation Sans', sans-serif">50</text>
<line x1="116.16" y1="328.58" x2="117.71" y2="329.01" stroke="#505050" stroke-width="0.6"/>
<text x="140.43" y="331.37" font-size="5.6" text-anchor="start" font-weight="normal" fill="#484848" font-family="'Liberation Sans', sans-serif">100</text>
<line x1="135.93" y1="325.37" x2="137.47" y2="325.8" stroke="#505050" stroke-width="0.6"/>
<text x="160.19" y="328.15" font-size="5.6" text-anchor="start" font-weight="normal" fill="#484848" font-family="'Liberation Sans', sans-serif">150</text>
<line x1="155.69" y1="322.15" x2="157.24" y2="322.58" stroke="#505050" stroke-width="0.6"/>
<text x="179.96" y="324.94" font-size="5.6" text-anchor="start" font-weight="normal" fill="#484848" font-family="'Liberation Sans', sans-serif">200</text>
<line x1="175.46" y1="318.94" x2="177" y2="319.37" stroke="#505050" stroke-width="0.6"/>
<text x="199.72" y="321.72" font-size="5.6" text-anchor="start" font-weight="normal" fill="#484848" font-family="'Liberation Sans', sans-serif">250</text>
<line x1="195.22" y1="315.72" x2="196.77" y2="316.15" stroke="#505050" stroke-width="0.6"/>
<line x1="81.3" y1="327.6" x2="79.72" y2="327.86" stroke="#505050" stroke-width="0.6"/>
<line x1="66.2" y1="323.41" x2="64.62" y2="323.66" stroke="#505050" stroke-width="0.6"/>
<line x1="51.11" y1="319.21" x2="49.53" y2="319.47" stroke="#505050" stroke-width="0.6"/>
<line x1="36.01" y1="315.02" x2="34.43" y2="315.27" stroke="#505050" stroke-width="0.6"/>
<line x1="20.91" y1="310.82" x2="19.33" y2="311.08" stroke="#505050" stroke-width="0.6"/>
<text x="92.3" y="337.8" font-size="5.6" text-anchor="end" font-weight="normal" fill="#484848" font-family="'Liberation Sans', sans-serif">0</text>
<text x="77.2" y="333.6" font-size="5.6" text-anchor="end" font-weight="normal" fill="#484848" font-family="'Liberation Sans', sans-serif">50</text>
<text x="62.1" y="329.41" font-size="5.6" text-anchor="end" font-weight="normal" fill="#484848" font-family="'Liberation Sans', sans-serif">100</text>
<text x="47.01" y="325.21" font-size="5.6" text-anchor="end" font-weight="normal" fill="#484848" font-family="'Liberation Sans', sans-serif">150</text>
<text x="31.91" y="321.02" font-size="5.6" text-anchor="end" font-weight="normal" fill="#484848" font-family="'Liberation Sans', sans-serif">200</text>
<text x="16.81" y="316.82" font-size="5.6" text-anchor="end" font-weight="normal" fill="#484848" font-family="'Liberation Sans', sans-serif">250</text>
<text x="5.5" y="256" font-size="6.8" text-anchor="start" font-weight="normal" fill="#444" font-family="'Liberation Serif', serif">×10<tspan font-size="4.2" dy="-2.4">4</tspan></text>
<text x="108.3" y="244.9" font-size="6.43" text-anchor="middle" font-weight="bold" fill="#262626" font-family="'Liberation Sans', sans-serif">Pixel Distribution (Vertical-wise) of Original Image - Blue component</text>
<text x="57.9" y="352.9" font-size="6.15" text-anchor="middle" font-weight="normal" fill="#484848" font-family="'Liberation Sans', sans-serif">Pixel value on location (x,y+1)</text>
<text x="146.8" y="346.8" font-size="6.15" text-anchor="middle" font-weight="normal" fill="#484848" font-family="'Liberation Sans', sans-serif">Pixel value on location (x,y)</text>
<path d="M123.7 324.3 129.3 319.9 131.5 314.4 131.5 308.8 129.3 303.3 127 295.8 120.2 293.6 104.4 297.3 93.9 301 89.2 304.2 82.1 310 78.6 315.9 78.6 321.8 83.3 326.6 86.4 328.6 96.4 331.8 117.43 328.38Z" fill="#0000ff"/>
<path d="M123 295h1v1h-1zM110 296h2v1h-2zM124 296h1v1h-1zM126 296h1v1h-1zM107 297h4v1h-4zM101 298h5v1h-5zM108 298h1v1h-1zM122 298h1v1h-1zM125 298h2v1h-2zM100 299h1v1h-1zM106 299h1v1h-1zM109 299h1v1h-1zM121 299h1v1h-1zM125 299h1v1h-1zM98 300h2v1h-2zM101 300h1v1h-1zM123 300h1v1h-1zM93 301h2v1h-2zM99 301h1v1h-1zM119 301h2v1h-2zM127 301h1v1h-1zM97 302h1v1h-1zM100 302h1v1h-1zM119 302h2v1h-2zM122 302h1v1h-1zM126 302h1v1h-1zM91 303h2v1h-2zM94 303h6v1h-6zM101 303h3v1h-3zM106 303h1v1h-1zM119 303h1v1h-1zM125 303h3v1h-3zM91 304h4v1h-4zM106 304h1v1h-1zM119 304h1v1h-1zM121 304h1v1h-1zM123 304h1v1h-1zM126 304h1v1h-1zM89 305h3v1h-3zM94 305h1v1h-1zM96 305h1v1h-1zM98 305h1v1h-1zM101 305h1v1h-1zM117 305h1v1h-1zM120 305h1v1h-1zM123 305h2v1h-2zM127 305h1v1h-1zM87 306h1v1h-1zM89 306h1v1h-1zM92 306h2v1h-2zM95 306h1v1h-1zM99 306h2v1h-2zM103 306h1v1h-1zM118 306h1v1h-1zM130 306h1v1h-1zM89 307h1v1h-1zM93 307h1v1h-1zM96 307h1v1h-1zM98 307h3v1h-3zM104 307h1v1h-1zM117 307h1v1h-1zM122 307h1v1h-1zM124 307h2v1h-2zM87 308h1v1h-1zM89 308h6v1h-6zM97 308h1v1h-1zM100 308h1v1h-1zM115 308h1v1h-1zM117 308h1v1h-1zM127 308h2v1h-2zM85 309h1v1h-1zM88 309h1v1h-1zM92 309h2v1h-2zM95 309h1v1h-1zM102 309h1v1h-1zM122 309h1v1h-1zM125 309h1v1h-1zM127 309h1v1h-1zM129 309h1v1h-1zM82 310h1v1h-1zM86 310h1v1h-1zM89 310h1v1h-1zM93 310h1v1h-1zM95 310h1v1h-1zM97 310h1v1h-1zM101 310h2v1h-2zM114 310h1v1h-1zM116 310h1v1h-1zM118 310h2v1h-2zM81 311h3v1h-3zM90 311h1v1h-1zM98 311h1v1h-1zM100 311h1v1h-1zM117 311h1v1h-1zM120 311h2v1h-2zM125 311h1v1h-1zM83 312h1v1h-1zM86 312h1v1h-1zM88 312h1v1h-1zM94 312h2v1h-2zM117 312h2v1h-2zM122 312h1v1h-1zM125 312h1v1h-1zM80 313h1v1h-1zM83 313h1v1h-1zM87 313h2v1h-2zM92 313h3v1h-3zM113 313h2v1h-2zM124 313h3v1h-3zM79 314h3v1h-3zM86 314h1v1h-1zM91 314h1v1h-1zM95 314h1v1h-1zM113 314h1v1h-1zM116 314h1v1h-1zM118 314h2v1h-2zM123 314h1v1h-1zM125 314h1v1h-1zM128 314h1v1h-1zM80 315h1v1h-1zM82 315h1v1h-1zM86 315h1v1h-1zM94 315h1v1h-1zM98 315h1v1h-1zM112 315h1v1h-1zM117 315h1v1h-1zM124 315h3v1h-3zM81 316h1v1h-1zM84 316h1v1h-1zM87 316h2v1h-2zM95 316h2v1h-2zM111 316h1v1h-1zM115 316h1v1h-1zM120 316h1v1h-1zM122 316h1v1h-1zM126 316h1v1h-1zM128 316h1v1h-1zM82 317h1v1h-1zM85 317h1v1h-1zM90 317h1v1h-1zM92 317h1v1h-1zM94 317h1v1h-1zM96 317h1v1h-1zM111 317h1v1h-1zM119 317h1v1h-1zM125 317h2v1h-2zM129 317h1v1h-1zM80 318h2v1h-2zM83 318h1v1h-1zM85 318h2v1h-2zM93 318h1v1h-1zM96 318h1v1h-1zM109 318h1v1h-1zM111 318h1v1h-1zM114 318h3v1h-3zM119 318h1v1h-1zM126 318h2v1h-2zM81 319h1v1h-1zM88 319h1v1h-1zM92 319h1v1h-1zM94 319h2v1h-2zM108 319h1v1h-1zM111 319h1v1h-1zM113 319h1v1h-1zM119 319h1v1h-1zM121 319h1v1h-1zM126 319h2v1h-2zM80 320h1v1h-1zM84 320h1v1h-1zM88 320h2v1h-2zM115 320h1v1h-1zM117 320h1v1h-1zM121 320h1v1h-1zM126 320h1v1h-1zM128 320h1v1h-1zM84 321h2v1h-2zM88 321h1v1h-1zM92 321h1v1h-1zM108 321h1v1h-1zM117 321h3v1h-3zM122 321h1v1h-1zM125 321h2v1h-2zM79 322h1v1h-1zM85 322h1v1h-1zM87 322h1v1h-1zM89 322h2v1h-2zM92 322h2v1h-2zM108 322h1v1h-1zM112 322h5v1h-5zM119 322h1v1h-1zM121 322h1v1h-1zM125 322h1v1h-1zM80 323h1v1h-1zM84 323h1v1h-1zM86 323h1v1h-1zM110 323h1v1h-1zM116 323h1v1h-1zM118 323h2v1h-2zM121 323h2v1h-2zM82 324h1v1h-1zM86 324h2v1h-2zM91 324h1v1h-1zM109 324h1v1h-1zM111 324h1v1h-1zM113 324h1v1h-1zM117 324h1v1h-1zM119 324h1v1h-1zM85 325h1v1h-1zM107 325h1v1h-1zM109 325h1v1h-1zM111 325h1v1h-1zM113 325h1v1h-1zM116 325h1v1h-1zM121 325h1v1h-1zM84 326h1v1h-1zM104 326h1v1h-1zM106 326h2v1h-2zM110 326h1v1h-1zM115 326h1v1h-1zM86 327h3v1h-3zM104 327h1v1h-1zM111 327h1v1h-1zM113 327h3v1h-3zM90 328h1v1h-1zM105 328h1v1h-1zM111 328h1v1h-1zM115 328h1v1h-1zM102 329h3v1h-3zM107 329h1v1h-1zM109 329h1v1h-1zM101 330h1v1h-1zM103 330h1v1h-1zM95 331h1v1h-1z" fill="#00006e" fill-opacity="0.16"/>
<path d="M122 294h1v1h-1zM114 295h3v1h-3zM118 295h1v1h-1zM111 296h1v1h-1zM121 296h1v1h-1zM107 297h1v1h-1zM124 297h1v1h-1zM103 298h1v1h-1zM126 298h2v1h-2zM97 300h1v1h-1zM97 302h1v1h-1zM92 303h1v1h-1zM128 303h1v1h-1zM128 304h2v1h-2zM89 305h1v1h-1zM127 305h1v1h-1zM87 306h1v1h-1zM86 307h1v1h-1zM130 307h1v1h-1zM130 308h1v1h-1zM84 309h1v1h-1zM81 311h1v1h-1zM80 314h1v1h-1zM130 314h1v1h-1zM128 317h1v1h-1zM80 318h1v1h-1zM79 319h1v1h-1zM128 319h1v1h-1zM79 320h1v1h-1zM127 320h2v1h-2zM123 323h2v1h-2zM82 324h1v1h-1zM122 324h1v1h-1zM82 325h1v1h-1zM119 325h1v1h-1zM84 326h2v1h-2zM87 326h1v1h-1zM86 327h1v1h-1zM117 327h2v1h-2zM87 328h1v1h-1zM90 328h1v1h-1zM107 328h1v1h-1zM89 329h1v1h-1zM92 329h1v1h-1zM98 329h1v1h-1zM106 329h1v1h-1zM110 329h1v1h-1zM92 330h1v1h-1zM95 330h1v1h-1zM99 330h1v1h-1zM95 331h1v1h-1z" fill="#fff" fill-opacity="0.5"/>
<path d="M109 295h1v1h-1zM126 295h1v1h-1zM105 296h2v1h-2zM99 297h2v1h-2zM102 297h1v1h-1zM131 297h1v1h-1zM100 298h1v1h-1zM86 299h1v1h-1zM91 299h1v1h-1zM136 299h1v1h-1zM82 300h1v1h-1zM94 300h1v1h-1zM84 301h2v1h-2zM87 301h1v1h-1zM131 301h1v1h-1zM133 301h1v1h-1zM136 301h1v1h-1zM139 301h1v1h-1zM142 301h1v1h-1zM85 302h1v1h-1zM90 302h1v1h-1zM130 302h1v1h-1zM133 302h1v1h-1zM136 302h1v1h-1zM85 303h1v1h-1zM87 303h1v1h-1zM89 303h1v1h-1zM129 303h1v1h-1zM132 303h1v1h-1zM138 303h1v1h-1zM76 304h2v1h-2zM88 304h1v1h-1zM80 305h1v1h-1zM82 305h1v1h-1zM131 305h1v1h-1zM134 305h1v1h-1zM136 305h1v1h-1zM80 306h1v1h-1zM85 306h1v1h-1zM131 306h1v1h-1zM135 306h1v1h-1zM139 306h2v1h-2zM72 307h1v1h-1zM74 307h1v1h-1zM80 307h1v1h-1zM82 307h1v1h-1zM131 307h1v1h-1zM138 307h1v1h-1zM74 308h1v1h-1zM78 308h1v1h-1zM82 308h1v1h-1zM137 308h2v1h-2zM72 309h1v1h-1zM76 309h1v1h-1zM79 309h1v1h-1zM81 309h1v1h-1zM131 309h1v1h-1zM136 309h1v1h-1zM78 310h2v1h-2zM131 310h1v1h-1zM139 310h1v1h-1zM145 310h1v1h-1zM76 311h1v1h-1zM140 311h1v1h-1zM142 311h1v1h-1zM74 312h1v1h-1zM131 312h3v1h-3zM139 312h1v1h-1zM69 313h1v1h-1zM71 313h1v1h-1zM77 313h1v1h-1zM138 313h1v1h-1zM140 313h1v1h-1zM150 313h1v1h-1zM72 314h1v1h-1zM75 314h1v1h-1zM77 314h1v1h-1zM139 314h1v1h-1zM67 315h1v1h-1zM133 315h1v1h-1zM144 315h1v1h-1zM68 316h1v1h-1zM131 316h1v1h-1zM134 316h1v1h-1zM145 316h1v1h-1zM66 317h1v1h-1zM68 317h1v1h-1zM134 317h1v1h-1zM136 317h1v1h-1zM130 318h1v1h-1zM133 318h1v1h-1zM77 319h2v1h-2zM132 319h1v1h-1zM72 320h1v1h-1zM77 320h1v1h-1zM67 321h1v1h-1zM76 321h2v1h-2zM132 321h1v1h-1zM139 321h2v1h-2zM66 322h1v1h-1zM78 322h1v1h-1zM127 322h1v1h-1zM130 322h3v1h-3zM79 323h1v1h-1zM125 323h1v1h-1zM127 323h1v1h-1zM132 323h1v1h-1zM73 324h1v1h-1zM124 324h1v1h-1zM131 324h1v1h-1zM135 324h1v1h-1zM78 325h1v1h-1zM121 326h1v1h-1zM83 327h2v1h-2z" fill="#0000ff" fill-opacity="0.25"/>
<path d="M115 294h1v1h-1zM127 296h1v1h-1zM101 297h1v1h-1zM94 298h1v1h-1zM93 299h1v1h-1zM95 299h1v1h-1zM81 300h1v1h-1zM86 300h1v1h-1zM88 300h1v1h-1zM91 300h1v1h-1zM129 300h1v1h-1zM132 300h1v1h-1zM83 301h1v1h-1zM92 301h1v1h-1zM132 301h1v1h-1zM84 302h1v1h-1zM91 302h1v1h-1zM139 302h2v1h-2zM80 303h1v1h-1zM86 303h1v1h-1zM131 303h1v1h-1zM135 303h1v1h-1zM87 304h1v1h-1zM131 304h1v1h-1zM134 304h1v1h-1zM136 304h1v1h-1zM86 305h1v1h-1zM132 305h1v1h-1zM135 305h1v1h-1zM137 305h1v1h-1zM76 306h1v1h-1zM78 306h1v1h-1zM133 307h1v1h-1zM80 308h2v1h-2zM131 308h1v1h-1zM133 308h1v1h-1zM136 308h1v1h-1zM139 308h2v1h-2zM75 309h1v1h-1zM133 309h2v1h-2zM142 309h1v1h-1zM144 310h1v1h-1zM69 311h1v1h-1zM80 311h1v1h-1zM131 311h1v1h-1zM133 311h1v1h-1zM135 311h3v1h-3zM75 312h1v1h-1zM80 312h1v1h-1zM138 312h1v1h-1zM76 313h1v1h-1zM131 313h1v1h-1zM133 313h3v1h-3zM139 313h1v1h-1zM66 314h1v1h-1zM74 314h1v1h-1zM78 314h1v1h-1zM145 314h1v1h-1zM75 315h1v1h-1zM131 315h2v1h-2zM140 315h1v1h-1zM71 316h1v1h-1zM73 316h1v1h-1zM75 316h2v1h-2zM136 316h1v1h-1zM138 316h1v1h-1zM144 316h1v1h-1zM64 317h1v1h-1zM67 317h1v1h-1zM70 317h1v1h-1zM76 317h2v1h-2zM132 317h1v1h-1zM135 317h1v1h-1zM70 318h1v1h-1zM72 318h1v1h-1zM134 318h1v1h-1zM143 318h1v1h-1zM71 319h2v1h-2zM76 320h1v1h-1zM130 320h1v1h-1zM69 321h1v1h-1zM71 321h1v1h-1zM127 321h1v1h-1zM131 321h1v1h-1zM137 321h2v1h-2zM76 322h1v1h-1zM129 322h1v1h-1zM133 322h1v1h-1zM73 323h1v1h-1zM74 324h2v1h-2zM123 324h1v1h-1zM126 324h2v1h-2zM130 324h1v1h-1zM79 325h1v1h-1zM126 325h1v1h-1zM81 326h1v1h-1zM126 326h1v1h-1zM120 327h2v1h-2z" fill="#0000ff" fill-opacity="0.45"/>
<path d="M97 297h1v1h-1zM128 297h1v1h-1zM132 297h1v1h-1zM93 298h1v1h-1zM95 298h1v1h-1zM98 298h1v1h-1zM130 298h1v1h-1zM136 298h1v1h-1zM88 299h1v1h-1zM94 299h1v1h-1zM96 299h1v1h-1zM128 299h2v1h-2zM138 299h1v1h-1zM93 300h1v1h-1zM128 300h1v1h-1zM135 300h1v1h-1zM139 300h1v1h-1zM129 301h1v1h-1zM134 301h1v1h-1zM81 302h1v1h-1zM83 302h1v1h-1zM137 302h1v1h-1zM81 303h1v1h-1zM88 303h1v1h-1zM133 303h2v1h-2zM141 303h1v1h-1zM83 304h1v1h-1zM86 304h1v1h-1zM135 304h1v1h-1zM137 304h1v1h-1zM143 304h1v1h-1zM83 305h1v1h-1zM85 305h1v1h-1zM84 306h1v1h-1zM133 306h2v1h-2zM136 306h1v1h-1zM83 307h1v1h-1zM132 307h1v1h-1zM137 307h1v1h-1zM142 307h1v1h-1zM83 308h1v1h-1zM132 308h1v1h-1zM141 308h1v1h-1zM132 309h1v1h-1zM135 309h1v1h-1zM137 309h2v1h-2zM69 310h1v1h-1zM80 310h1v1h-1zM132 310h2v1h-2zM138 310h1v1h-1zM73 311h1v1h-1zM77 311h2v1h-2zM132 311h1v1h-1zM68 313h1v1h-1zM136 313h1v1h-1zM69 314h1v1h-1zM73 314h1v1h-1zM76 314h1v1h-1zM76 315h3v1h-3zM134 315h2v1h-2zM139 315h1v1h-1zM69 316h1v1h-1zM139 316h1v1h-1zM72 317h1v1h-1zM78 317h1v1h-1zM130 317h1v1h-1zM137 317h1v1h-1zM145 317h1v1h-1zM64 318h1v1h-1zM69 318h1v1h-1zM78 318h1v1h-1zM131 318h1v1h-1zM66 319h1v1h-1zM75 319h1v1h-1zM129 319h2v1h-2zM133 319h1v1h-1zM135 319h2v1h-2zM78 320h1v1h-1zM129 320h1v1h-1zM133 320h1v1h-1zM140 320h1v1h-1zM72 321h1v1h-1zM130 321h1v1h-1zM67 322h1v1h-1zM75 322h1v1h-1zM74 323h4v1h-4zM72 324h1v1h-1zM77 324h2v1h-2zM80 324h1v1h-1zM125 324h1v1h-1zM129 324h1v1h-1zM76 325h1v1h-1zM122 325h1v1h-1zM124 325h1v1h-1zM133 325h1v1h-1zM82 327h1v1h-1zM122 327h1v1h-1zM85 328h1v1h-1z" fill="#0000ff" fill-opacity="0.65"/>
<path d="M110 295h2v1h-2zM128 296h1v1h-1zM98 297h1v1h-1zM103 297h1v1h-1zM96 298h1v1h-1zM92 299h1v1h-1zM97 299h1v1h-1zM130 299h1v1h-1zM83 300h1v1h-1zM85 300h1v1h-1zM89 300h1v1h-1zM134 300h1v1h-1zM138 300h1v1h-1zM89 301h3v1h-3zM137 301h1v1h-1zM140 301h1v1h-1zM86 302h1v1h-1zM88 302h2v1h-2zM129 302h1v1h-1zM131 302h2v1h-2zM135 302h1v1h-1zM83 303h1v1h-1zM80 304h1v1h-1zM85 304h1v1h-1zM130 304h1v1h-1zM139 304h1v1h-1zM78 305h1v1h-1zM87 305h1v1h-1zM130 305h1v1h-1zM82 306h2v1h-2zM132 306h1v1h-1zM81 307h1v1h-1zM84 307h1v1h-1zM134 307h3v1h-3zM140 307h1v1h-1zM71 308h1v1h-1zM143 308h1v1h-1zM82 309h1v1h-1zM144 309h1v1h-1zM70 310h1v1h-1zM75 310h1v1h-1zM81 310h1v1h-1zM79 311h1v1h-1zM134 311h1v1h-1zM141 311h1v1h-1zM71 312h1v1h-1zM77 312h1v1h-1zM79 312h1v1h-1zM134 312h1v1h-1zM136 312h2v1h-2zM147 312h1v1h-1zM73 313h1v1h-1zM75 313h1v1h-1zM78 313h2v1h-2zM132 313h1v1h-1zM137 313h1v1h-1zM145 313h2v1h-2zM68 314h1v1h-1zM131 314h2v1h-2zM137 314h1v1h-1zM140 314h1v1h-1zM72 315h1v1h-1zM138 315h1v1h-1zM65 316h1v1h-1zM74 316h1v1h-1zM77 316h2v1h-2zM135 316h1v1h-1zM142 316h1v1h-1zM69 317h1v1h-1zM73 317h1v1h-1zM144 317h1v1h-1zM62 318h1v1h-1zM71 318h1v1h-1zM73 318h4v1h-4zM132 318h1v1h-1zM137 318h3v1h-3zM142 318h1v1h-1zM64 319h1v1h-1zM69 319h1v1h-1zM131 319h1v1h-1zM73 320h1v1h-1zM139 320h1v1h-1zM68 321h1v1h-1zM70 321h1v1h-1zM78 321h1v1h-1zM128 321h1v1h-1zM71 322h1v1h-1zM126 322h1v1h-1zM138 322h1v1h-1zM67 323h1v1h-1zM126 323h1v1h-1zM129 323h1v1h-1zM79 324h1v1h-1zM133 324h1v1h-1zM80 325h2v1h-2zM125 325h1v1h-1zM129 325h1v1h-1zM132 325h1v1h-1zM82 326h1v1h-1zM120 326h1v1h-1zM81 327h1v1h-1zM119 327h1v1h-1zM88 329h1v1h-1z" fill="#0000ff" fill-opacity="0.85"/>
<g filter="url(#rb)">
<path d="M94.58 331.04 95.94 327.43 97.3 323.82 98.65 320.21 100.01 316.6 102.24 312.99 104.51 309.38 106.79 305.77 109.06 302.16 111.33 298.55 113.6 294.94 122.6 294.94 120.33 298.55 118.06 302.16 115.79 305.77 113.51 309.38 111.24 312.99 108.95 316.6 106.22 320.21 103.48 323.82 100.75 327.43 98.02 331.04Z" fill="#00006e" fill-opacity="0.22"/>
<path d="M95.04 331.04 96.58 327.43 98.12 323.82 99.66 320.21 101.2 316.6 103.44 312.99 105.71 309.38 107.99 305.77 110.26 302.16 112.53 298.55 114.8 294.94 121.6 294.94 119.33 298.55 117.06 302.16 114.79 305.77 112.51 309.38 110.24 312.99 107.95 316.6 105.38 320.21 102.8 323.82 100.22 327.43 97.64 331.04Z" fill="#00006e" fill-opacity="0.2"/>
<path d="M94.78 331.04 96.21 327.43 97.64 323.82 99.07 320.21 100.51 316.6 102.74 312.99 105.01 309.38 107.29 305.77 109.56 302.16 111.83 298.55 114.1 294.94 116.6 294.94 114.33 298.55 112.06 302.16 109.79 305.77 107.51 309.38 105.24 312.99 102.99 316.6 101.17 320.21 99.36 323.82 97.54 327.43 95.73 331.04Z" fill="#00006e" fill-opacity="0.15"/>
<path d="M117 294h1v1h-1zM112 295h1v1h-1zM112 297h1v1h-1zM114 297h1v1h-1zM111 299h1v1h-1zM113 299h1v1h-1zM119 300h1v1h-1zM114 302h1v1h-1zM117 302h1v1h-1zM115 303h1v1h-1zM108 304h1v1h-1zM110 304h1v1h-1zM115 304h2v1h-2zM113 305h1v1h-1zM109 306h1v1h-1zM114 306h1v1h-1zM106 307h1v1h-1zM113 307h1v1h-1zM107 309h1v1h-1zM109 309h1v1h-1zM104 310h1v1h-1zM106 310h2v1h-2zM104 311h1v1h-1zM106 311h1v1h-1zM108 311h1v1h-1zM110 312h1v1h-1zM100 314h2v1h-2zM103 314h1v1h-1zM105 314h2v1h-2zM102 315h1v1h-1zM101 316h1v1h-1zM108 316h1v1h-1zM104 317h1v1h-1zM107 317h1v1h-1zM100 318h3v1h-3zM104 318h1v1h-1zM99 319h2v1h-2zM103 319h1v1h-1zM105 319h1v1h-1zM103 320h1v1h-1zM105 320h1v1h-1zM99 321h1v1h-1zM97 322h1v1h-1zM99 322h1v1h-1zM102 322h1v1h-1zM99 323h2v1h-2zM102 323h1v1h-1zM104 323h1v1h-1zM94 324h1v1h-1zM98 324h1v1h-1zM104 324h1v1h-1zM96 325h1v1h-1zM100 325h1v1h-1zM96 326h1v1h-1zM92 327h1v1h-1zM100 327h1v1h-1zM92 328h1v1h-1zM97 328h1v1h-1zM91 329h1v1h-1zM93 329h1v1h-1zM96 329h1v1h-1zM100 329h1v1h-1z" fill="#00006e" fill-opacity="0.2"/>
<path d="M119 294h1v1h-1zM113 295h2v1h-2zM119 295h1v1h-1zM113 296h2v1h-2zM115 297h1v1h-1zM119 297h1v1h-1zM115 298h1v1h-1zM118 298h1v1h-1zM112 299h1v1h-1zM116 299h1v1h-1zM118 300h1v1h-1zM108 301h1v1h-1zM112 301h1v1h-1zM115 301h2v1h-2zM113 302h1v1h-1zM118 302h1v1h-1zM111 303h1v1h-1zM111 304h1v1h-1zM114 304h1v1h-1zM106 305h1v1h-1zM110 305h1v1h-1zM112 305h1v1h-1zM106 306h1v1h-1zM108 306h1v1h-1zM108 308h1v1h-1zM105 309h1v1h-1zM112 309h1v1h-1zM103 312h1v1h-1zM102 313h1v1h-1zM106 313h3v1h-3zM100 316h1v1h-1zM103 316h1v1h-1zM100 317h1v1h-1zM103 317h1v1h-1zM106 317h1v1h-1zM103 318h1v1h-1zM107 318h1v1h-1zM97 319h2v1h-2zM107 319h1v1h-1zM99 320h1v1h-1zM101 320h1v1h-1zM96 321h1v1h-1zM98 321h1v1h-1zM98 322h1v1h-1zM100 322h1v1h-1zM105 322h1v1h-1zM96 323h2v1h-2zM101 323h1v1h-1zM103 323h1v1h-1zM96 324h1v1h-1zM94 325h2v1h-2zM97 325h1v1h-1zM103 325h1v1h-1zM95 326h1v1h-1zM97 326h1v1h-1zM102 326h1v1h-1zM94 327h1v1h-1zM96 327h1v1h-1zM99 327h1v1h-1zM91 328h1v1h-1zM95 328h1v1h-1zM100 328h1v1h-1zM94 329h2v1h-2zM99 329h1v1h-1zM93 330h1v1h-1z" fill="#00006e" fill-opacity="0.35"/>
</g>
<rect x="96.15" y="285.3" width="2.3" height="45.07" fill="#0000af"/>
<rect x="117.9" y="262" width="2.2" height="33.91" fill="#0000af"/>
<line x1="272.76" y1="307.18" x2="272.76" y2="260.58" stroke="#e4e4e4" stroke-width="0.7"/>
<line x1="292.53" y1="303.97" x2="292.53" y2="257.37" stroke="#e4e4e4" stroke-width="0.7"/>
<line x1="312.29" y1="300.75" x2="312.29" y2="254.15" stroke="#e4e4e4" stroke-width="0.7"/>
<line x1="332.06" y1="297.54" x2="332.06" y2="250.94" stroke="#e4e4e4" stroke-width="0.7"/>
<line x1="351.82" y1="294.32" x2="351.82" y2="247.72" stroke="#e4e4e4" stroke-width="0.7"/>
<line x1="253" y1="294.6" x2="353.8" y2="278.2" stroke="#e4e4e4" stroke-width="0.7"/>
<line x1="253" y1="278.81" x2="353.8" y2="262.41" stroke="#e4e4e4" stroke-width="0.7"/>
<line x1="415.7" y1="311.2" x2="415.7" y2="264.6" stroke="#e4e4e4" stroke-width="0.7"/>
<line x1="400.6" y1="307.01" x2="400.6" y2="260.41" stroke="#e4e4e4" stroke-width="0.7"/>
<line x1="385.51" y1="302.81" x2="385.51" y2="256.21" stroke="#e4e4e4" stroke-width="0.7"/>
<line x1="370.41" y1="298.62" x2="370.41" y2="252.02" stroke="#e4e4e4" stroke-width="0.7"/>
<line x1="355.31" y1="294.42" x2="355.31" y2="247.82" stroke="#e4e4e4" stroke-width="0.7"/>
<line x1="430.8" y1="299.6" x2="353.8" y2="278.2" stroke="#e4e4e4" stroke-width="0.7"/>
<line x1="430.8" y1="283.81" x2="353.8" y2="262.41" stroke="#e4e4e4" stroke-width="0.7"/>
<line x1="349.76" y1="328.58" x2="272.76" y2="307.18" stroke="#ececec" stroke-width="0.7"/>
<line x1="369.53" y1="325.37" x2="292.53" y2="303.97" stroke="#ececec" stroke-width="0.7"/>
<line x1="389.29" y1="322.15" x2="312.29" y2="300.75" stroke="#ececec" stroke-width="0.7"/>
<line x1="409.06" y1="318.94" x2="332.06" y2="297.54" stroke="#ececec" stroke-width="0.7"/>
<line x1="428.82" y1="315.72" x2="351.82" y2="294.32" stroke="#ececec" stroke-width="0.7"/>
<line x1="314.9" y1="327.6" x2="415.7" y2="311.2" stroke="#ececec" stroke-width="0.7"/>
<line x1="299.8" y1="323.41" x2="400.6" y2="307.01" stroke="#ececec" stroke-width="0.7"/>
<line x1="284.71" y1="319.21" x2="385.51" y2="302.81" stroke="#ececec" stroke-width="0.7"/>
<line x1="269.61" y1="315.02" x2="370.41" y2="298.62" stroke="#ececec" stroke-width="0.7"/>
<line x1="254.51" y1="310.82" x2="355.31" y2="294.42" stroke="#ececec" stroke-width="0.7"/>
<line x1="353.8" y1="294" x2="353.8" y2="247.4" stroke="#9a9a9a" stroke-width="0.8"/>
<line x1="253" y1="310.4" x2="353.8" y2="294" stroke="#505050" stroke-width="0.75"/>
<line x1="430.8" y1="315.4" x2="353.8" y2="294" stroke="#505050" stroke-width="0.75"/>
<line x1="253" y1="310.4" x2="253" y2="263.8" stroke="#505050" stroke-width="0.75"/>
<line x1="253" y1="263.8" x2="353.8" y2="247.4" stroke="#505050" stroke-width="0.75"/>
<line x1="353.8" y1="247.4" x2="430.8" y2="268.8" stroke="#505050" stroke-width="0.75"/>
<line x1="430.8" y1="315.4" x2="430.8" y2="268.8" stroke="#505050" stroke-width="0.75"/>
<line x1="330" y1="331.8" x2="430.8" y2="315.4" stroke="#505050" stroke-width="0.75"/>
<line x1="330" y1="331.8" x2="253" y2="310.4" stroke="#505050" stroke-width="0.75"/>
<line x1="251" y1="310.4" x2="253" y2="310.4" stroke="#505050" stroke-width="0.7"/>
<text x="248.8" y="312.4" font-size="5.6" text-anchor="end" font-weight="normal" fill="#484848" font-family="'Liberation Sans', sans-serif">0</text>
<line x1="251" y1="294.6" x2="253" y2="294.6" stroke="#505050" stroke-width="0.7"/>
<text x="248.8" y="296.6" font-size="5.6" text-anchor="end" font-weight="normal" fill="#484848" font-family="'Liberation Sans', sans-serif">2</text>
<line x1="251" y1="278.81" x2="253" y2="278.81" stroke="#505050" stroke-width="0.7"/>
<text x="248.8" y="280.81" font-size="5.6" text-anchor="end" font-weight="normal" fill="#484848" font-family="'Liberation Sans', sans-serif">4</text>
<text x="334.5" y="337.8" font-size="5.6" text-anchor="start" font-weight="normal" fill="#484848" font-family="'Liberation Sans', sans-serif">0</text>
<text x="354.26" y="334.58" font-size="5.6" text-anchor="start" font-weight="normal" fill="#484848" font-family="'Liberation Sans', sans-serif">50</text>
<line x1="349.76" y1="328.58" x2="351.31" y2="329.01" stroke="#505050" stroke-width="0.6"/>
<text x="374.03" y="331.37" font-size="5.6" text-anchor="start" font-weight="normal" fill="#484848" font-family="'Liberation Sans', sans-serif">100</text>
<line x1="369.53" y1="325.37" x2="371.07" y2="325.8" stroke="#505050" stroke-width="0.6"/>
<text x="393.79" y="328.15" font-size="5.6" text-anchor="start" font-weight="normal" fill="#484848" font-family="'Liberation Sans', sans-serif">150</text>
<line x1="389.29" y1="322.15" x2="390.84" y2="322.58" stroke="#505050" stroke-width="0.6"/>
<text x="413.56" y="324.94" font-size="5.6" text-anchor="start" font-weight="normal" fill="#484848" font-family="'Liberation Sans', sans-serif">200</text>
<line x1="409.06" y1="318.94" x2="410.6" y2="319.37" stroke="#505050" stroke-width="0.6"/>
<text x="433.32" y="321.72" font-size="5.6" text-anchor="start" font-weight="normal" fill="#484848" font-family="'Liberation Sans', sans-serif">250</text>
<line x1="428.82" y1="315.72" x2="430.37" y2="316.15" stroke="#505050" stroke-width="0.6"/>
<line x1="314.9" y1="327.6" x2="313.32" y2="327.86" stroke="#505050" stroke-width="0.6"/>
<line x1="299.8" y1="323.41" x2="298.22" y2="323.66" stroke="#505050" stroke-width="0.6"/>
<line x1="284.71" y1="319.21" x2="283.13" y2="319.47" stroke="#505050" stroke-width="0.6"/>
<line x1="269.61" y1="315.02" x2="268.03" y2="315.27" stroke="#505050" stroke-width="0.6"/>
<line x1="254.51" y1="310.82" x2="252.93" y2="311.08" stroke="#505050" stroke-width="0.6"/>
<text x="325.9" y="337.8" font-size="5.6" text-anchor="end" font-weight="normal" fill="#484848" font-family="'Liberation Sans', sans-serif">0</text>
<text x="310.8" y="333.6" font-size="5.6" text-anchor="end" font-weight="normal" fill="#484848" font-family="'Liberation Sans', sans-serif">50</text>
<text x="295.7" y="329.41" font-size="5.6" text-anchor="end" font-weight="normal" fill="#484848" font-family="'Liberation Sans', sans-serif">100</text>
<text x="280.61" y="325.21" font-size="5.6" text-anchor="end" font-weight="normal" fill="#484848" font-family="'Liberation Sans', sans-serif">150</text>
<text x="265.51" y="321.02" font-size="5.6" text-anchor="end" font-weight="normal" fill="#484848" font-family="'Liberation Sans', sans-serif">200</text>
<text x="250.41" y="316.82" font-size="5.6" text-anchor="end" font-weight="normal" fill="#484848" font-family="'Liberation Sans', sans-serif">250</text>
<text x="239.1" y="256" font-size="6.8" text-anchor="start" font-weight="normal" fill="#444" font-family="'Liberation Serif', serif">×10<tspan font-size="4.2" dy="-2.4">4</tspan></text>
<text x="341.9" y="244.9" font-size="6.43" text-anchor="middle" font-weight="bold" fill="#262626" font-family="'Liberation Sans', sans-serif">Pixel Distribution (Horizontal-wise) of Original Image - Blue component</text>
<text x="291.5" y="352.9" font-size="6.15" text-anchor="middle" font-weight="normal" fill="#484848" font-family="'Liberation Sans', sans-serif">Pixel value on location (x+1,y)</text>
<text x="380.4" y="346.8" font-size="6.15" text-anchor="middle" font-weight="normal" fill="#484848" font-family="'Liberation Sans', sans-serif">Pixel value on location (x,y)</text>
<path d="M352 328.2 359 324.3 363.4 319.9 365.6 314.4 366.7 308.8 365.6 303.3 364.5 296.8 353.8 293.6 338 297.3 327.6 301.3 322.9 304.2 314.7 308.9 312.3 315.9 313.5 321.8 319.4 326.6 322 329.3 330 331.8Z" fill="#0000ff"/>
<path d="M357 295h2v1h-2zM341 296h1v1h-1zM360 296h1v1h-1zM337 297h1v1h-1zM341 297h1v1h-1zM344 297h1v1h-1zM359 297h1v1h-1zM363 297h1v1h-1zM342 298h2v1h-2zM356 298h2v1h-2zM361 298h1v1h-1zM334 299h1v1h-1zM339 299h1v1h-1zM342 299h1v1h-1zM355 299h1v1h-1zM357 299h2v1h-2zM360 299h3v1h-3zM335 300h1v1h-1zM339 300h1v1h-1zM342 300h1v1h-1zM354 300h4v1h-4zM359 300h1v1h-1zM363 300h1v1h-1zM327 301h1v1h-1zM330 301h4v1h-4zM336 301h1v1h-1zM354 301h1v1h-1zM361 301h1v1h-1zM364 301h1v1h-1zM332 302h1v1h-1zM337 302h1v1h-1zM353 302h1v1h-1zM355 302h2v1h-2zM324 303h1v1h-1zM326 303h1v1h-1zM332 303h2v1h-2zM335 303h1v1h-1zM338 303h1v1h-1zM356 303h3v1h-3zM365 303h1v1h-1zM322 304h1v1h-1zM324 304h2v1h-2zM337 304h1v1h-1zM352 304h1v1h-1zM355 304h1v1h-1zM357 304h4v1h-4zM363 304h1v1h-1zM321 305h1v1h-1zM327 305h1v1h-1zM330 305h1v1h-1zM336 305h1v1h-1zM359 305h1v1h-1zM361 305h1v1h-1zM365 305h1v1h-1zM321 306h1v1h-1zM326 306h1v1h-1zM331 306h1v1h-1zM334 306h1v1h-1zM336 306h2v1h-2zM352 306h1v1h-1zM358 306h2v1h-2zM362 306h1v1h-1zM364 306h1v1h-1zM319 307h1v1h-1zM322 307h3v1h-3zM327 307h1v1h-1zM329 307h1v1h-1zM336 307h1v1h-1zM350 307h1v1h-1zM354 307h1v1h-1zM358 307h1v1h-1zM360 307h1v1h-1zM364 307h1v1h-1zM317 308h1v1h-1zM320 308h1v1h-1zM322 308h3v1h-3zM331 308h1v1h-1zM333 308h1v1h-1zM351 308h1v1h-1zM355 308h1v1h-1zM360 308h1v1h-1zM319 309h2v1h-2zM323 309h1v1h-1zM325 309h1v1h-1zM331 309h1v1h-1zM335 309h2v1h-2zM349 309h1v1h-1zM352 309h1v1h-1zM356 309h1v1h-1zM358 309h1v1h-1zM360 309h1v1h-1zM362 309h1v1h-1zM364 309h1v1h-1zM366 309h1v1h-1zM315 310h3v1h-3zM325 310h1v1h-1zM327 310h1v1h-1zM330 310h1v1h-1zM333 310h1v1h-1zM347 310h1v1h-1zM350 310h1v1h-1zM352 310h1v1h-1zM356 310h2v1h-2zM362 310h2v1h-2zM365 310h1v1h-1zM315 311h1v1h-1zM319 311h1v1h-1zM321 311h3v1h-3zM328 311h1v1h-1zM333 311h1v1h-1zM348 311h4v1h-4zM353 311h1v1h-1zM355 311h1v1h-1zM359 311h1v1h-1zM315 312h1v1h-1zM317 312h2v1h-2zM322 312h1v1h-1zM327 312h1v1h-1zM329 312h4v1h-4zM334 312h1v1h-1zM349 312h2v1h-2zM365 312h1v1h-1zM315 313h1v1h-1zM323 313h5v1h-5zM329 313h1v1h-1zM332 313h1v1h-1zM334 313h1v1h-1zM354 313h3v1h-3zM363 313h1v1h-1zM317 314h1v1h-1zM327 314h1v1h-1zM329 314h1v1h-1zM331 314h1v1h-1zM345 314h1v1h-1zM358 314h1v1h-1zM362 314h2v1h-2zM312 315h3v1h-3zM316 315h1v1h-1zM320 315h2v1h-2zM327 315h1v1h-1zM329 315h2v1h-2zM344 315h1v1h-1zM348 315h1v1h-1zM352 315h2v1h-2zM358 315h1v1h-1zM361 315h2v1h-2zM314 316h1v1h-1zM320 316h2v1h-2zM323 316h1v1h-1zM326 316h1v1h-1zM329 316h2v1h-2zM344 316h1v1h-1zM349 316h1v1h-1zM352 316h1v1h-1zM355 316h2v1h-2zM364 316h1v1h-1zM317 317h3v1h-3zM323 317h1v1h-1zM325 317h1v1h-1zM328 317h1v1h-1zM343 317h3v1h-3zM347 317h1v1h-1zM352 317h1v1h-1zM355 317h1v1h-1zM358 317h1v1h-1zM360 317h2v1h-2zM363 317h1v1h-1zM313 318h1v1h-1zM315 318h1v1h-1zM318 318h1v1h-1zM322 318h1v1h-1zM330 318h1v1h-1zM342 318h2v1h-2zM345 318h1v1h-1zM348 318h2v1h-2zM354 318h1v1h-1zM361 318h1v1h-1zM313 319h1v1h-1zM317 319h2v1h-2zM321 319h2v1h-2zM325 319h1v1h-1zM328 319h1v1h-1zM330 319h1v1h-1zM346 319h1v1h-1zM348 319h1v1h-1zM352 319h1v1h-1zM363 319h1v1h-1zM313 320h2v1h-2zM322 320h1v1h-1zM327 320h2v1h-2zM346 320h1v1h-1zM348 320h2v1h-2zM351 320h2v1h-2zM355 320h1v1h-1zM357 320h1v1h-1zM313 321h2v1h-2zM316 321h1v1h-1zM324 321h1v1h-1zM327 321h1v1h-1zM341 321h2v1h-2zM349 321h1v1h-1zM352 321h3v1h-3zM360 321h1v1h-1zM320 322h1v1h-1zM326 322h1v1h-1zM340 322h1v1h-1zM348 322h1v1h-1zM357 322h1v1h-1zM340 323h1v1h-1zM342 323h2v1h-2zM346 323h1v1h-1zM350 323h1v1h-1zM359 323h1v1h-1zM323 324h1v1h-1zM340 324h1v1h-1zM343 324h1v1h-1zM345 324h1v1h-1zM347 324h1v1h-1zM350 324h1v1h-1zM321 325h1v1h-1zM324 325h1v1h-1zM340 325h1v1h-1zM344 325h2v1h-2zM351 325h1v1h-1zM321 326h1v1h-1zM323 326h1v1h-1zM345 326h1v1h-1zM347 326h1v1h-1zM349 326h1v1h-1zM351 326h2v1h-2zM321 327h1v1h-1zM325 327h1v1h-1zM337 327h2v1h-2zM341 327h2v1h-2zM344 327h1v1h-1zM347 327h1v1h-1zM351 327h1v1h-1zM322 328h1v1h-1zM336 328h1v1h-1zM339 328h1v1h-1zM342 328h1v1h-1zM345 328h3v1h-3zM349 328h1v1h-1zM336 330h1v1h-1zM330 331h1v1h-1z" fill="#00006e" fill-opacity="0.16"/>
<path d="M346 295h1v1h-1zM348 295h1v1h-1zM356 295h2v1h-2zM348 296h1v1h-1zM358 296h1v1h-1zM340 297h2v1h-2zM343 297h1v1h-1zM338 298h1v1h-1zM336 299h1v1h-1zM330 300h2v1h-2zM331 301h1v1h-1zM333 301h1v1h-1zM363 302h2v1h-2zM323 304h1v1h-1zM365 304h1v1h-1zM363 305h1v1h-1zM321 306h1v1h-1zM318 307h1v1h-1zM315 308h1v1h-1zM317 308h2v1h-2zM315 309h1v1h-1zM366 309h1v1h-1zM364 310h1v1h-1zM364 311h2v1h-2zM314 313h1v1h-1zM363 313h1v1h-1zM363 314h1v1h-1zM365 314h1v1h-1zM312 315h1v1h-1zM312 316h2v1h-2zM313 317h1v1h-1zM314 320h1v1h-1zM361 320h1v1h-1zM313 321h1v1h-1zM360 321h1v1h-1zM315 322h1v1h-1zM316 323h1v1h-1zM357 323h1v1h-1zM317 324h1v1h-1zM319 325h1v1h-1zM321 325h1v1h-1zM353 326h1v1h-1zM322 327h1v1h-1zM324 327h2v1h-2zM348 327h2v1h-2zM324 329h2v1h-2zM333 329h1v1h-1zM340 329h1v1h-1zM342 329h2v1h-2zM326 330h1v1h-1zM330 330h1v1h-1zM337 330h1v1h-1zM329 331h2v1h-2z" fill="#fff" fill-opacity="0.5"/>
<path d="M338 296h1v1h-1zM335 297h1v1h-1zM367 298h1v1h-1zM324 300h1v1h-1zM327 300h2v1h-2zM365 300h1v1h-1zM372 300h1v1h-1zM374 301h1v1h-1zM324 302h1v1h-1zM366 303h1v1h-1zM370 303h2v1h-2zM374 303h1v1h-1zM314 304h1v1h-1zM319 304h1v1h-1zM321 304h1v1h-1zM301 305h1v1h-1zM313 305h1v1h-1zM367 305h1v1h-1zM311 306h1v1h-1zM314 306h1v1h-1zM367 306h1v1h-1zM305 307h1v1h-1zM309 307h1v1h-1zM313 307h1v1h-1zM378 307h1v1h-1zM305 308h1v1h-1zM311 308h1v1h-1zM367 308h1v1h-1zM370 309h1v1h-1zM302 310h1v1h-1zM309 310h1v1h-1zM312 310h1v1h-1zM307 311h1v1h-1zM368 311h1v1h-1zM376 311h1v1h-1zM301 312h1v1h-1zM305 312h1v1h-1zM309 312h1v1h-1zM311 312h1v1h-1zM366 312h1v1h-1zM369 312h1v1h-1zM373 312h1v1h-1zM309 314h1v1h-1zM370 314h2v1h-2zM374 314h1v1h-1zM378 314h1v1h-1zM297 315h1v1h-1zM366 315h1v1h-1zM304 316h1v1h-1zM311 316h1v1h-1zM371 316h2v1h-2zM310 317h2v1h-2zM299 318h1v1h-1zM364 318h1v1h-1zM311 319h1v1h-1zM367 319h1v1h-1zM380 319h1v1h-1zM365 320h1v1h-1zM307 321h1v1h-1zM362 321h1v1h-1zM308 322h1v1h-1zM309 324h1v1h-1zM359 324h1v1h-1zM313 325h1v1h-1zM360 326h1v1h-1z" fill="#0000ff" fill-opacity="0.25"/>
<path d="M343 295h1v1h-1zM337 296h1v1h-1zM340 296h1v1h-1zM330 297h1v1h-1zM320 299h1v1h-1zM326 299h1v1h-1zM365 299h1v1h-1zM368 300h1v1h-1zM368 301h1v1h-1zM371 301h1v1h-1zM316 302h1v1h-1zM319 302h1v1h-1zM321 302h1v1h-1zM370 302h1v1h-1zM380 302h1v1h-1zM314 303h1v1h-1zM318 303h1v1h-1zM321 303h1v1h-1zM377 303h1v1h-1zM311 304h1v1h-1zM320 304h1v1h-1zM371 304h1v1h-1zM383 304h1v1h-1zM309 305h1v1h-1zM311 305h1v1h-1zM317 305h1v1h-1zM303 306h1v1h-1zM317 306h2v1h-2zM371 306h1v1h-1zM374 306h3v1h-3zM378 306h1v1h-1zM312 307h1v1h-1zM372 307h1v1h-1zM301 308h1v1h-1zM374 308h1v1h-1zM312 309h2v1h-2zM377 309h1v1h-1zM301 310h1v1h-1zM311 310h1v1h-1zM369 310h1v1h-1zM378 310h1v1h-1zM384 310h1v1h-1zM298 311h1v1h-1zM377 311h1v1h-1zM310 312h1v1h-1zM312 312h1v1h-1zM368 312h1v1h-1zM293 313h1v1h-1zM368 313h1v1h-1zM373 313h1v1h-1zM307 314h2v1h-2zM311 314h1v1h-1zM366 314h2v1h-2zM369 314h1v1h-1zM372 314h1v1h-1zM380 314h1v1h-1zM372 315h1v1h-1zM367 316h1v1h-1zM370 316h1v1h-1zM376 316h1v1h-1zM302 317h1v1h-1zM375 317h1v1h-1zM311 318h1v1h-1zM365 318h1v1h-1zM368 318h1v1h-1zM304 320h1v1h-1zM312 320h1v1h-1zM311 322h1v1h-1zM364 322h3v1h-3zM365 323h1v1h-1zM362 324h1v1h-1zM371 324h1v1h-1zM359 325h1v1h-1zM315 326h1v1h-1z" fill="#0000ff" fill-opacity="0.45"/>
<path d="M365 297h1v1h-1zM329 298h1v1h-1zM366 298h1v1h-1zM331 299h1v1h-1zM369 299h1v1h-1zM312 300h1v1h-1zM322 300h2v1h-2zM326 300h1v1h-1zM326 301h1v1h-1zM365 302h1v1h-1zM368 302h2v1h-2zM322 303h2v1h-2zM369 303h1v1h-1zM319 305h1v1h-1zM369 305h1v1h-1zM373 305h1v1h-1zM315 306h1v1h-1zM368 306h1v1h-1zM316 307h1v1h-1zM370 307h1v1h-1zM375 307h1v1h-1zM380 307h1v1h-1zM368 309h1v1h-1zM373 309h2v1h-2zM376 309h1v1h-1zM367 310h2v1h-2zM372 310h1v1h-1zM381 310h1v1h-1zM301 311h1v1h-1zM366 311h1v1h-1zM370 311h1v1h-1zM296 312h1v1h-1zM302 313h1v1h-1zM312 313h1v1h-1zM294 314h1v1h-1zM312 314h1v1h-1zM300 315h1v1h-1zM304 315h1v1h-1zM307 315h3v1h-3zM311 315h1v1h-1zM377 315h1v1h-1zM310 316h1v1h-1zM364 317h1v1h-1zM301 318h1v1h-1zM303 318h1v1h-1zM306 318h1v1h-1zM366 318h1v1h-1zM374 318h1v1h-1zM386 318h1v1h-1zM308 319h1v1h-1zM365 319h2v1h-2zM363 320h1v1h-1zM375 320h1v1h-1zM307 322h1v1h-1zM312 322h2v1h-2zM361 322h2v1h-2zM376 322h1v1h-1zM311 323h1v1h-1zM313 323h1v1h-1zM360 324h1v1h-1zM317 325h1v1h-1zM311 326h1v1h-1z" fill="#0000ff" fill-opacity="0.65"/>
<path d="M336 297h1v1h-1zM328 299h1v1h-1zM367 299h2v1h-2zM374 299h1v1h-1zM321 301h1v1h-1zM323 301h1v1h-1zM365 301h1v1h-1zM320 302h1v1h-1zM316 303h1v1h-1zM320 303h1v1h-1zM312 304h1v1h-1zM368 304h1v1h-1zM377 304h1v1h-1zM314 305h1v1h-1zM377 305h1v1h-1zM313 306h1v1h-1zM303 307h1v1h-1zM308 307h1v1h-1zM373 307h1v1h-1zM303 308h1v1h-1zM370 308h1v1h-1zM306 309h1v1h-1zM309 309h1v1h-1zM296 310h1v1h-1zM305 310h1v1h-1zM310 310h1v1h-1zM313 310h1v1h-1zM379 310h2v1h-2zM308 311h1v1h-1zM367 311h1v1h-1zM371 311h1v1h-1zM373 311h1v1h-1zM308 312h1v1h-1zM303 313h1v1h-1zM310 313h1v1h-1zM372 313h1v1h-1zM379 313h1v1h-1zM302 314h1v1h-1zM368 314h1v1h-1zM373 315h1v1h-1zM365 316h2v1h-2zM369 316h1v1h-1zM303 317h1v1h-1zM309 317h1v1h-1zM366 317h1v1h-1zM378 317h1v1h-1zM309 318h1v1h-1zM368 319h1v1h-1zM310 320h2v1h-2zM308 321h1v1h-1zM310 321h1v1h-1zM363 321h1v1h-1zM367 321h1v1h-1zM304 323h1v1h-1zM314 323h1v1h-1zM362 323h1v1h-1zM364 323h1v1h-1zM313 324h1v1h-1zM315 325h1v1h-1zM353 327h1v1h-1z" fill="#0000ff" fill-opacity="0.85"/>
<g filter="url(#rb)">
<path d="M328.18 331.04 329.54 327.43 330.9 323.82 332.25 320.21 333.61 316.6 335.84 312.99 338.11 309.38 340.39 305.77 342.66 302.16 344.93 298.55 347.2 294.94 356.2 294.94 353.93 298.55 351.66 302.16 349.39 305.77 347.11 309.38 344.84 312.99 342.55 316.6 339.82 320.21 337.08 323.82 334.35 327.43 331.62 331.04Z" fill="#00006e" fill-opacity="0.22"/>
<path d="M328.64 331.04 330.18 327.43 331.72 323.82 333.26 320.21 334.8 316.6 337.04 312.99 339.31 309.38 341.59 305.77 343.86 302.16 346.13 298.55 348.4 294.94 355.2 294.94 352.93 298.55 350.66 302.16 348.39 305.77 346.11 309.38 343.84 312.99 341.55 316.6 338.98 320.21 336.4 323.82 333.82 327.43 331.24 331.04Z" fill="#00006e" fill-opacity="0.2"/>
<path d="M328.38 331.04 329.81 327.43 331.24 323.82 332.67 320.21 334.1 316.6 336.34 312.99 338.61 309.38 340.89 305.77 343.16 302.16 345.43 298.55 347.7 294.94 350.2 294.94 347.93 298.55 345.66 302.16 343.39 305.77 341.11 309.38 338.84 312.99 336.59 316.6 334.77 320.21 332.96 323.82 331.14 327.43 329.33 331.04Z" fill="#00006e" fill-opacity="0.15"/>
<path d="M354 294h1v1h-1zM356 294h1v1h-1zM352 295h1v1h-1zM355 295h1v1h-1zM348 296h1v1h-1zM354 296h2v1h-2zM346 297h1v1h-1zM346 298h1v1h-1zM349 298h2v1h-2zM348 299h1v1h-1zM351 299h1v1h-1zM349 300h1v1h-1zM353 300h1v1h-1zM347 301h1v1h-1zM344 302h1v1h-1zM348 302h2v1h-2zM350 303h1v1h-1zM342 304h1v1h-1zM346 304h1v1h-1zM349 305h1v1h-1zM347 307h1v1h-1zM339 308h1v1h-1zM342 308h1v1h-1zM338 309h2v1h-2zM341 309h1v1h-1zM343 309h1v1h-1zM345 309h2v1h-2zM336 310h2v1h-2zM344 310h1v1h-1zM340 311h1v1h-1zM342 311h1v1h-1zM336 312h1v1h-1zM340 312h1v1h-1zM337 313h1v1h-1zM340 314h1v1h-1zM334 315h1v1h-1zM339 315h1v1h-1zM343 315h1v1h-1zM333 316h4v1h-4zM339 316h1v1h-1zM333 317h2v1h-2zM337 317h2v1h-2zM332 318h1v1h-1zM335 319h1v1h-1zM337 319h1v1h-1zM338 320h1v1h-1zM339 321h1v1h-1zM331 322h2v1h-2zM338 322h1v1h-1zM336 323h1v1h-1zM330 324h1v1h-1zM328 325h1v1h-1zM335 325h1v1h-1zM335 326h1v1h-1zM331 328h2v1h-2zM334 330h1v1h-1z" fill="#00006e" fill-opacity="0.2"/>
<path d="M349 295h1v1h-1zM356 295h1v1h-1zM346 296h2v1h-2zM352 296h2v1h-2zM347 297h3v1h-3zM347 298h1v1h-1zM349 299h2v1h-2zM344 300h1v1h-1zM343 301h1v1h-1zM345 301h1v1h-1zM349 301h1v1h-1zM352 301h1v1h-1zM341 302h1v1h-1zM346 302h2v1h-2zM351 302h1v1h-1zM345 304h1v1h-1zM344 305h1v1h-1zM345 306h1v1h-1zM339 307h2v1h-2zM343 307h3v1h-3zM348 307h1v1h-1zM340 308h1v1h-1zM345 308h1v1h-1zM340 309h1v1h-1zM342 309h1v1h-1zM339 310h1v1h-1zM341 310h1v1h-1zM343 310h1v1h-1zM338 312h1v1h-1zM343 312h1v1h-1zM336 314h1v1h-1zM343 314h1v1h-1zM335 315h1v1h-1zM338 316h1v1h-1zM332 317h1v1h-1zM335 317h1v1h-1zM341 317h1v1h-1zM340 318h1v1h-1zM330 321h2v1h-2zM335 321h1v1h-1zM338 321h1v1h-1zM330 323h1v1h-1zM335 323h1v1h-1zM334 324h1v1h-1zM337 324h1v1h-1zM327 325h1v1h-1zM331 325h1v1h-1zM326 327h1v1h-1zM328 327h1v1h-1zM330 327h1v1h-1zM335 327h1v1h-1zM328 328h1v1h-1zM330 329h1v1h-1zM332 330h1v1h-1z" fill="#00006e" fill-opacity="0.35"/>
</g>
<rect x="329.15" y="284.3" width="2.3" height="47.02" fill="#0000af"/>
<rect x="350.9" y="266.7" width="2.2" height="30.16" fill="#0000af"/>
<line x1="505.36" y1="306.83" x2="505.36" y2="260.23" stroke="#e4e4e4" stroke-width="0.7"/>
<line x1="525.13" y1="303.62" x2="525.13" y2="257.02" stroke="#e4e4e4" stroke-width="0.7"/>
<line x1="544.89" y1="300.4" x2="544.89" y2="253.8" stroke="#e4e4e4" stroke-width="0.7"/>
<line x1="564.66" y1="297.19" x2="564.66" y2="250.59" stroke="#e4e4e4" stroke-width="0.7"/>
<line x1="584.42" y1="293.97" x2="584.42" y2="247.37" stroke="#e4e4e4" stroke-width="0.7"/>
<line x1="485.6" y1="289.79" x2="586.4" y2="273.39" stroke="#e4e4e4" stroke-width="0.7"/>
<line x1="485.6" y1="269.53" x2="586.4" y2="253.13" stroke="#e4e4e4" stroke-width="0.7"/>
<line x1="648.3" y1="310.85" x2="648.3" y2="264.25" stroke="#e4e4e4" stroke-width="0.7"/>
<line x1="633.2" y1="306.66" x2="633.2" y2="260.06" stroke="#e4e4e4" stroke-width="0.7"/>
<line x1="618.11" y1="302.46" x2="618.11" y2="255.86" stroke="#e4e4e4" stroke-width="0.7"/>
<line x1="603.01" y1="298.27" x2="603.01" y2="251.67" stroke="#e4e4e4" stroke-width="0.7"/>
<line x1="587.91" y1="294.07" x2="587.91" y2="247.47" stroke="#e4e4e4" stroke-width="0.7"/>
<line x1="663.4" y1="294.79" x2="586.4" y2="273.39" stroke="#e4e4e4" stroke-width="0.7"/>
<line x1="663.4" y1="274.53" x2="586.4" y2="253.13" stroke="#e4e4e4" stroke-width="0.7"/>
<line x1="582.36" y1="328.23" x2="505.36" y2="306.83" stroke="#ececec" stroke-width="0.7"/>
<line x1="602.13" y1="325.02" x2="525.13" y2="303.62" stroke="#ececec" stroke-width="0.7"/>
<line x1="621.89" y1="321.8" x2="544.89" y2="300.4" stroke="#ececec" stroke-width="0.7"/>
<line x1="641.66" y1="318.59" x2="564.66" y2="297.19" stroke="#ececec" stroke-width="0.7"/>
<line x1="661.42" y1="315.37" x2="584.42" y2="293.97" stroke="#ececec" stroke-width="0.7"/>
<line x1="547.5" y1="327.25" x2="648.3" y2="310.85" stroke="#ececec" stroke-width="0.7"/>
<line x1="532.4" y1="323.06" x2="633.2" y2="306.66" stroke="#ececec" stroke-width="0.7"/>
<line x1="517.31" y1="318.86" x2="618.11" y2="302.46" stroke="#ececec" stroke-width="0.7"/>
<line x1="502.21" y1="314.67" x2="603.01" y2="298.27" stroke="#ececec" stroke-width="0.7"/>
<line x1="487.11" y1="310.47" x2="587.91" y2="294.07" stroke="#ececec" stroke-width="0.7"/>
<line x1="586.4" y1="293.65" x2="586.4" y2="247.05" stroke="#9a9a9a" stroke-width="0.8"/>
<line x1="485.6" y1="310.05" x2="586.4" y2="293.65" stroke="#505050" stroke-width="0.75"/>
<line x1="663.4" y1="315.05" x2="586.4" y2="293.65" stroke="#505050" stroke-width="0.75"/>
<line x1="485.6" y1="310.05" x2="485.6" y2="263.45" stroke="#505050" stroke-width="0.75"/>
<line x1="485.6" y1="263.45" x2="586.4" y2="247.05" stroke="#505050" stroke-width="0.75"/>
<line x1="586.4" y1="247.05" x2="663.4" y2="268.45" stroke="#505050" stroke-width="0.75"/>
<line x1="663.4" y1="315.05" x2="663.4" y2="268.45" stroke="#505050" stroke-width="0.75"/>
<line x1="562.6" y1="331.45" x2="663.4" y2="315.05" stroke="#505050" stroke-width="0.75"/>
<line x1="562.6" y1="331.45" x2="485.6" y2="310.05" stroke="#505050" stroke-width="0.75"/>
<line x1="483.6" y1="310.05" x2="485.6" y2="310.05" stroke="#505050" stroke-width="0.7"/>
<text x="481.4" y="312.05" font-size="5.6" text-anchor="end" font-weight="normal" fill="#484848" font-family="'Liberation Sans', sans-serif">0</text>
<line x1="483.6" y1="289.79" x2="485.6" y2="289.79" stroke="#505050" stroke-width="0.7"/>
<text x="481.4" y="291.79" font-size="5.6" text-anchor="end" font-weight="normal" fill="#484848" font-family="'Liberation Sans', sans-serif">2</text>
<line x1="483.6" y1="269.53" x2="485.6" y2="269.53" stroke="#505050" stroke-width="0.7"/>
<text x="481.4" y="271.53" font-size="5.6" text-anchor="end" font-weight="normal" fill="#484848" font-family="'Liberation Sans', sans-serif">4</text>
<text x="567.1" y="337.45" font-size="5.6" text-anchor="start" font-weight="normal" fill="#484848" font-family="'Liberation Sans', sans-serif">0</text>
<text x="586.86" y="334.23" font-size="5.6" text-anchor="start" font-weight="normal" fill="#484848" font-family="'Liberation Sans', sans-serif">50</text>
<line x1="582.36" y1="328.23" x2="583.91" y2="328.66" stroke="#505050" stroke-width="0.6"/>
<text x="606.63" y="331.02" font-size="5.6" text-anchor="start" font-weight="normal" fill="#484848" font-family="'Liberation Sans', sans-serif">100</text>
<line x1="602.13" y1="325.02" x2="603.67" y2="325.45" stroke="#505050" stroke-width="0.6"/>
<text x="626.39" y="327.8" font-size="5.6" text-anchor="start" font-weight="normal" fill="#484848" font-family="'Liberation Sans', sans-serif">150</text>
<line x1="621.89" y1="321.8" x2="623.44" y2="322.23" stroke="#505050" stroke-width="0.6"/>
<text x="646.16" y="324.59" font-size="5.6" text-anchor="start" font-weight="normal" fill="#484848" font-family="'Liberation Sans', sans-serif">200</text>
<line x1="641.66" y1="318.59" x2="643.2" y2="319.02" stroke="#505050" stroke-width="0.6"/>
<text x="665.92" y="321.37" font-size="5.6" text-anchor="start" font-weight="normal" fill="#484848" font-family="'Liberation Sans', sans-serif">250</text>
<line x1="661.42" y1="315.37" x2="662.97" y2="315.8" stroke="#505050" stroke-width="0.6"/>
<line x1="547.5" y1="327.25" x2="545.92" y2="327.51" stroke="#505050" stroke-width="0.6"/>
<line x1="532.4" y1="323.06" x2="530.82" y2="323.31" stroke="#505050" stroke-width="0.6"/>
<line x1="517.31" y1="318.86" x2="515.73" y2="319.12" stroke="#505050" stroke-width="0.6"/>
<line x1="502.21" y1="314.67" x2="500.63" y2="314.92" stroke="#505050" stroke-width="0.6"/>
<line x1="487.11" y1="310.47" x2="485.53" y2="310.73" stroke="#505050" stroke-width="0.6"/>
<text x="558.5" y="337.45" font-size="5.6" text-anchor="end" font-weight="normal" fill="#484848" font-family="'Liberation Sans', sans-serif">0</text>
<text x="543.4" y="333.25" font-size="5.6" text-anchor="end" font-weight="normal" fill="#484848" font-family="'Liberation Sans', sans-serif">50</text>
<text x="528.3" y="329.06" font-size="5.6" text-anchor="end" font-weight="normal" fill="#484848" font-family="'Liberation Sans', sans-serif">100</text>
<text x="513.21" y="324.86" font-size="5.6" text-anchor="end" font-weight="normal" fill="#484848" font-family="'Liberation Sans', sans-serif">150</text>
<text x="498.11" y="320.67" font-size="5.6" text-anchor="end" font-weight="normal" fill="#484848" font-family="'Liberation Sans', sans-serif">200</text>
<text x="483.01" y="316.47" font-size="5.6" text-anchor="end" font-weight="normal" fill="#484848" font-family="'Liberation Sans', sans-serif">250</text>
<text x="471.7" y="255.65" font-size="6.8" text-anchor="start" font-weight="normal" fill="#444" font-family="'Liberation Serif', serif">×10<tspan font-size="4.2" dy="-2.4">4</tspan></text>
<text x="574.5" y="244.55" font-size="6.43" text-anchor="middle" font-weight="bold" fill="#262626" font-family="'Liberation Sans', sans-serif">Pixel Distribution (Diagonal-wise) of Original Image - Blue component</text>
<text x="524.1" y="352.55" font-size="6.15" text-anchor="middle" font-weight="normal" fill="#484848" font-family="'Liberation Sans', sans-serif">Pixel value on location (x+1,y+1)</text>
<text x="613" y="346.45" font-size="6.15" text-anchor="middle" font-weight="normal" fill="#484848" font-family="'Liberation Sans', sans-serif">Pixel value on location (x,y)</text>
<path d="M594 325.05 602.9 320.65 604 315.15 600.7 309.65 597.4 304.05 596.3 296.45 586.4 293.25 570.6 296.95 556.8 301.15 550.9 304.95 542.7 309.65 539.1 315.55 541.5 321.45 548.6 326.25 552.6 328.45 562.6 331.45 586.63 327.54Z" fill="#0000ff"/>
<path d="M591 295h1v1h-1zM576 296h2v1h-2zM592 296h2v1h-2zM595 296h1v1h-1zM569 297h1v1h-1zM572 297h4v1h-4zM588 297h2v1h-2zM595 297h1v1h-1zM567 298h2v1h-2zM571 298h2v1h-2zM574 298h1v1h-1zM589 298h1v1h-1zM595 298h2v1h-2zM562 299h1v1h-1zM564 299h1v1h-1zM567 299h1v1h-1zM570 299h2v1h-2zM574 299h2v1h-2zM591 299h2v1h-2zM595 299h1v1h-1zM561 300h1v1h-1zM564 300h1v1h-1zM566 300h3v1h-3zM574 300h1v1h-1zM586 300h1v1h-1zM589 300h1v1h-1zM593 300h4v1h-4zM558 301h1v1h-1zM560 301h1v1h-1zM563 301h1v1h-1zM567 301h1v1h-1zM572 301h2v1h-2zM590 301h1v1h-1zM592 301h1v1h-1zM594 301h1v1h-1zM596 301h1v1h-1zM555 302h1v1h-1zM557 302h1v1h-1zM559 302h3v1h-3zM566 302h3v1h-3zM572 302h2v1h-2zM587 302h1v1h-1zM590 302h1v1h-1zM553 303h3v1h-3zM558 303h1v1h-1zM564 303h1v1h-1zM569 303h1v1h-1zM572 303h1v1h-1zM587 303h1v1h-1zM589 303h1v1h-1zM593 303h2v1h-2zM596 303h1v1h-1zM552 304h1v1h-1zM555 304h4v1h-4zM561 304h2v1h-2zM564 304h2v1h-2zM572 304h1v1h-1zM584 304h1v1h-1zM587 304h1v1h-1zM590 304h2v1h-2zM594 304h1v1h-1zM597 304h1v1h-1zM550 305h1v1h-1zM554 305h1v1h-1zM557 305h2v1h-2zM560 305h4v1h-4zM571 305h1v1h-1zM583 305h1v1h-1zM585 305h1v1h-1zM591 305h3v1h-3zM596 305h2v1h-2zM548 306h1v1h-1zM554 306h3v1h-3zM559 306h1v1h-1zM563 306h2v1h-2zM566 306h1v1h-1zM568 306h3v1h-3zM584 306h2v1h-2zM587 306h2v1h-2zM590 306h1v1h-1zM592 306h2v1h-2zM597 306h1v1h-1zM546 307h3v1h-3zM550 307h2v1h-2zM556 307h1v1h-1zM559 307h1v1h-1zM561 307h1v1h-1zM565 307h1v1h-1zM568 307h1v1h-1zM587 307h1v1h-1zM590 307h1v1h-1zM595 307h1v1h-1zM597 307h2v1h-2zM545 308h1v1h-1zM547 308h1v1h-1zM549 308h5v1h-5zM555 308h1v1h-1zM559 308h1v1h-1zM561 308h1v1h-1zM566 308h1v1h-1zM583 308h4v1h-4zM588 308h3v1h-3zM592 308h2v1h-2zM595 308h2v1h-2zM599 308h1v1h-1zM543 309h1v1h-1zM547 309h1v1h-1zM549 309h2v1h-2zM552 309h2v1h-2zM555 309h5v1h-5zM563 309h4v1h-4zM568 309h1v1h-1zM580 309h1v1h-1zM586 309h2v1h-2zM589 309h2v1h-2zM592 309h1v1h-1zM596 309h2v1h-2zM600 309h1v1h-1zM543 310h4v1h-4zM551 310h1v1h-1zM554 310h1v1h-1zM557 310h1v1h-1zM560 310h1v1h-1zM562 310h2v1h-2zM565 310h1v1h-1zM567 310h1v1h-1zM583 310h1v1h-1zM586 310h5v1h-5zM592 310h2v1h-2zM599 310h1v1h-1zM542 311h3v1h-3zM546 311h1v1h-1zM548 311h5v1h-5zM555 311h2v1h-2zM559 311h1v1h-1zM563 311h2v1h-2zM579 311h1v1h-1zM582 311h1v1h-1zM585 311h1v1h-1zM589 311h3v1h-3zM594 311h1v1h-1zM596 311h1v1h-1zM542 312h3v1h-3zM546 312h2v1h-2zM551 312h2v1h-2zM557 312h4v1h-4zM565 312h1v1h-1zM567 312h1v1h-1zM579 312h1v1h-1zM582 312h2v1h-2zM586 312h4v1h-4zM595 312h3v1h-3zM600 312h1v1h-1zM540 313h1v1h-1zM542 313h2v1h-2zM546 313h1v1h-1zM550 313h1v1h-1zM554 313h3v1h-3zM558 313h4v1h-4zM563 313h1v1h-1zM579 313h2v1h-2zM584 313h1v1h-1zM586 313h1v1h-1zM589 313h1v1h-1zM591 313h4v1h-4zM597 313h1v1h-1zM599 313h1v1h-1zM601 313h2v1h-2zM540 314h1v1h-1zM542 314h3v1h-3zM548 314h3v1h-3zM552 314h1v1h-1zM554 314h4v1h-4zM559 314h1v1h-1zM562 314h1v1h-1zM564 314h1v1h-1zM577 314h2v1h-2zM581 314h2v1h-2zM585 314h2v1h-2zM595 314h1v1h-1zM597 314h3v1h-3zM603 314h1v1h-1zM539 315h4v1h-4zM544 315h4v1h-4zM552 315h1v1h-1zM554 315h1v1h-1zM556 315h1v1h-1zM560 315h2v1h-2zM563 315h1v1h-1zM578 315h1v1h-1zM584 315h2v1h-2zM587 315h1v1h-1zM589 315h1v1h-1zM592 315h2v1h-2zM597 315h1v1h-1zM599 315h1v1h-1zM601 315h1v1h-1zM539 316h3v1h-3zM545 316h1v1h-1zM553 316h1v1h-1zM561 316h2v1h-2zM564 316h1v1h-1zM578 316h2v1h-2zM583 316h1v1h-1zM585 316h1v1h-1zM588 316h1v1h-1zM598 316h1v1h-1zM544 317h1v1h-1zM547 317h1v1h-1zM554 317h2v1h-2zM557 317h1v1h-1zM559 317h3v1h-3zM575 317h1v1h-1zM577 317h1v1h-1zM581 317h2v1h-2zM587 317h1v1h-1zM589 317h1v1h-1zM592 317h2v1h-2zM595 317h2v1h-2zM545 318h2v1h-2zM548 318h1v1h-1zM550 318h7v1h-7zM558 318h5v1h-5zM576 318h1v1h-1zM581 318h2v1h-2zM584 318h6v1h-6zM592 318h1v1h-1zM594 318h1v1h-1zM596 318h1v1h-1zM599 318h3v1h-3zM541 319h1v1h-1zM543 319h1v1h-1zM548 319h2v1h-2zM552 319h1v1h-1zM554 319h2v1h-2zM558 319h2v1h-2zM561 319h1v1h-1zM574 319h1v1h-1zM578 319h2v1h-2zM582 319h2v1h-2zM586 319h2v1h-2zM589 319h2v1h-2zM593 319h1v1h-1zM600 319h1v1h-1zM543 320h1v1h-1zM546 320h3v1h-3zM551 320h2v1h-2zM555 320h2v1h-2zM581 320h2v1h-2zM586 320h2v1h-2zM589 320h2v1h-2zM592 320h1v1h-1zM598 320h2v1h-2zM542 321h1v1h-1zM545 321h1v1h-1zM550 321h2v1h-2zM553 321h1v1h-1zM556 321h1v1h-1zM560 321h1v1h-1zM574 321h2v1h-2zM577 321h1v1h-1zM581 321h1v1h-1zM586 321h1v1h-1zM588 321h2v1h-2zM591 321h1v1h-1zM593 321h2v1h-2zM596 321h1v1h-1zM543 322h1v1h-1zM549 322h2v1h-2zM552 322h1v1h-1zM555 322h6v1h-6zM573 322h2v1h-2zM576 322h1v1h-1zM582 322h4v1h-4zM588 322h1v1h-1zM590 322h1v1h-1zM594 322h1v1h-1zM596 322h1v1h-1zM546 323h1v1h-1zM549 323h1v1h-1zM551 323h2v1h-2zM557 323h1v1h-1zM573 323h4v1h-4zM581 323h2v1h-2zM584 323h1v1h-1zM587 323h1v1h-1zM589 323h3v1h-3zM593 323h1v1h-1zM595 323h1v1h-1zM546 324h2v1h-2zM549 324h1v1h-1zM551 324h2v1h-2zM559 324h1v1h-1zM571 324h4v1h-4zM576 324h2v1h-2zM583 324h2v1h-2zM589 324h1v1h-1zM591 324h1v1h-1zM593 324h2v1h-2zM549 325h1v1h-1zM555 325h2v1h-2zM571 325h1v1h-1zM573 325h8v1h-8zM583 325h2v1h-2zM587 325h1v1h-1zM589 325h1v1h-1zM591 325h2v1h-2zM549 326h2v1h-2zM552 326h1v1h-1zM554 326h1v1h-1zM571 326h3v1h-3zM575 326h1v1h-1zM579 326h1v1h-1zM581 326h3v1h-3zM585 326h1v1h-1zM587 326h1v1h-1zM589 326h1v1h-1zM554 327h1v1h-1zM556 327h1v1h-1zM572 327h1v1h-1zM575 327h1v1h-1zM577 327h1v1h-1zM580 327h1v1h-1zM582 327h2v1h-2zM586 327h1v1h-1zM553 328h2v1h-2zM568 328h1v1h-1zM572 328h1v1h-1zM574 328h2v1h-2zM577 328h3v1h-3zM570 329h1v1h-1zM572 329h1v1h-1zM559 330h1v1h-1zM563 330h2v1h-2zM566 330h1v1h-1z" fill="#00006e" fill-opacity="0.2"/>
<path d="M586 293h1v1h-1zM582 294h1v1h-1zM584 294h1v1h-1zM577 295h1v1h-1zM579 295h2v1h-2zM585 295h2v1h-2zM588 295h2v1h-2zM591 295h2v1h-2zM573 296h4v1h-4zM581 296h5v1h-5zM588 296h1v1h-1zM593 296h1v1h-1zM570 297h2v1h-2zM575 297h1v1h-1zM578 297h1v1h-1zM587 297h1v1h-1zM590 297h1v1h-1zM595 297h1v1h-1zM566 298h2v1h-2zM572 298h2v1h-2zM575 298h2v1h-2zM585 298h2v1h-2zM589 298h1v1h-1zM592 298h3v1h-3zM596 298h1v1h-1zM563 299h1v1h-1zM567 299h1v1h-1zM559 300h1v1h-1zM561 300h1v1h-1zM565 300h1v1h-1zM574 300h1v1h-1zM578 300h1v1h-1zM557 301h1v1h-1zM561 301h4v1h-4zM571 301h1v1h-1zM594 301h1v1h-1zM559 302h2v1h-2zM563 302h1v1h-1zM555 303h1v1h-1zM558 303h1v1h-1zM567 303h1v1h-1zM593 303h1v1h-1zM595 303h2v1h-2zM557 304h2v1h-2zM593 304h1v1h-1zM595 304h3v1h-3zM551 305h1v1h-1zM554 305h1v1h-1zM558 305h1v1h-1zM594 305h1v1h-1zM597 305h1v1h-1zM551 306h1v1h-1zM553 306h2v1h-2zM597 306h1v1h-1zM547 307h1v1h-1zM550 307h1v1h-1zM598 307h1v1h-1zM546 308h3v1h-3zM550 308h1v1h-1zM596 308h1v1h-1zM544 309h2v1h-2zM553 309h1v1h-1zM595 309h2v1h-2zM598 309h3v1h-3zM544 310h2v1h-2zM542 311h1v1h-1zM601 311h1v1h-1zM542 312h1v1h-1zM599 312h1v1h-1zM541 314h1v1h-1zM543 314h1v1h-1zM600 314h1v1h-1zM603 314h1v1h-1zM541 315h1v1h-1zM600 315h3v1h-3zM600 316h3v1h-3zM540 317h2v1h-2zM545 317h1v1h-1zM600 317h1v1h-1zM542 318h1v1h-1zM544 318h1v1h-1zM601 318h1v1h-1zM543 319h1v1h-1zM598 319h1v1h-1zM601 319h1v1h-1zM543 320h2v1h-2zM547 320h2v1h-2zM596 320h1v1h-1zM601 320h1v1h-1zM549 321h1v1h-1zM593 321h1v1h-1zM598 321h3v1h-3zM543 322h1v1h-1zM547 322h1v1h-1zM550 322h1v1h-1zM590 322h1v1h-1zM593 322h1v1h-1zM546 323h2v1h-2zM583 323h1v1h-1zM589 323h1v1h-1zM591 323h1v1h-1zM594 323h3v1h-3zM546 324h2v1h-2zM549 324h3v1h-3zM553 324h1v1h-1zM584 324h2v1h-2zM547 325h1v1h-1zM549 325h1v1h-1zM557 325h1v1h-1zM566 325h1v1h-1zM581 325h1v1h-1zM586 325h1v1h-1zM588 325h2v1h-2zM591 325h2v1h-2zM549 326h1v1h-1zM557 326h1v1h-1zM563 326h1v1h-1zM569 326h1v1h-1zM571 326h1v1h-1zM574 326h1v1h-1zM577 326h1v1h-1zM584 326h2v1h-2zM587 326h3v1h-3zM557 327h1v1h-1zM563 327h1v1h-1zM566 327h1v1h-1zM570 327h1v1h-1zM573 327h1v1h-1zM578 327h2v1h-2zM583 327h1v1h-1zM553 328h3v1h-3zM560 328h1v1h-1zM564 328h1v1h-1zM566 328h2v1h-2zM572 328h1v1h-1zM574 328h2v1h-2zM578 328h2v1h-2zM557 329h1v1h-1zM561 329h1v1h-1zM565 329h1v1h-1zM574 329h1v1h-1zM559 330h2v1h-2zM562 330h2v1h-2zM565 330h2v1h-2z" fill="#fff" fill-opacity="0.5"/>
<path d="M580 294h1v1h-1zM574 295h1v1h-1zM576 295h1v1h-1zM597 296h1v1h-1zM568 297h1v1h-1zM596 297h1v1h-1zM599 297h1v1h-1zM558 298h1v1h-1zM560 298h4v1h-4zM565 298h1v1h-1zM597 298h2v1h-2zM559 299h1v1h-1zM598 299h1v1h-1zM607 299h1v1h-1zM543 300h1v1h-1zM548 300h1v1h-1zM598 300h1v1h-1zM609 300h1v1h-1zM546 301h1v1h-1zM551 301h1v1h-1zM553 301h1v1h-1zM597 301h1v1h-1zM600 301h1v1h-1zM547 302h1v1h-1zM549 302h1v1h-1zM553 302h2v1h-2zM599 302h3v1h-3zM604 302h1v1h-1zM608 302h1v1h-1zM545 303h1v1h-1zM603 303h1v1h-1zM610 303h1v1h-1zM621 303h1v1h-1zM532 304h1v1h-1zM535 304h1v1h-1zM543 304h2v1h-2zM547 304h1v1h-1zM598 304h2v1h-2zM603 304h1v1h-1zM613 304h1v1h-1zM617 304h2v1h-2zM530 305h1v1h-1zM541 305h2v1h-2zM547 305h1v1h-1zM601 305h1v1h-1zM530 306h1v1h-1zM603 306h3v1h-3zM610 306h2v1h-2zM621 306h1v1h-1zM530 307h1v1h-1zM601 307h1v1h-1zM608 307h3v1h-3zM618 307h1v1h-1zM530 308h1v1h-1zM543 308h2v1h-2zM601 308h1v1h-1zM615 308h1v1h-1zM617 308h1v1h-1zM530 309h1v1h-1zM535 309h1v1h-1zM537 309h1v1h-1zM602 309h1v1h-1zM607 309h1v1h-1zM612 309h1v1h-1zM536 310h2v1h-2zM602 310h1v1h-1zM611 310h1v1h-1zM614 310h1v1h-1zM617 310h1v1h-1zM523 311h1v1h-1zM526 311h2v1h-2zM602 311h1v1h-1zM619 311h1v1h-1zM529 312h1v1h-1zM539 312h1v1h-1zM524 313h1v1h-1zM531 313h1v1h-1zM533 313h3v1h-3zM538 313h1v1h-1zM607 313h4v1h-4zM621 313h1v1h-1zM524 314h1v1h-1zM536 314h3v1h-3zM604 314h1v1h-1zM606 314h1v1h-1zM608 314h1v1h-1zM615 314h1v1h-1zM526 315h1v1h-1zM529 315h1v1h-1zM536 315h1v1h-1zM538 315h1v1h-1zM605 315h1v1h-1zM611 315h1v1h-1zM615 315h1v1h-1zM518 316h1v1h-1zM535 316h1v1h-1zM608 316h1v1h-1zM610 316h1v1h-1zM612 316h2v1h-2zM523 317h1v1h-1zM537 317h1v1h-1zM608 317h1v1h-1zM611 317h1v1h-1zM529 318h1v1h-1zM532 318h1v1h-1zM534 318h1v1h-1zM603 318h1v1h-1zM614 318h1v1h-1zM620 318h1v1h-1zM524 319h1v1h-1zM528 319h1v1h-1zM532 319h1v1h-1zM534 319h2v1h-2zM537 319h2v1h-2zM619 319h1v1h-1zM532 320h2v1h-2zM607 320h2v1h-2zM540 321h2v1h-2zM602 321h1v1h-1zM604 321h1v1h-1zM609 321h1v1h-1zM616 321h1v1h-1zM534 322h1v1h-1zM538 322h1v1h-1zM540 322h1v1h-1zM542 322h1v1h-1zM607 322h1v1h-1zM613 322h1v1h-1zM536 323h2v1h-2zM544 323h1v1h-1zM598 323h1v1h-1zM543 324h1v1h-1zM545 324h1v1h-1zM595 324h1v1h-1zM601 324h1v1h-1zM604 324h1v1h-1zM541 325h1v1h-1zM594 325h1v1h-1zM548 326h1v1h-1zM591 326h1v1h-1zM548 327h1v1h-1zM552 328h1v1h-1z" fill="#0000ff" fill-opacity="0.25"/>
<path d="M590 294h1v1h-1zM573 295h1v1h-1zM593 295h1v1h-1zM569 296h1v1h-1zM572 296h1v1h-1zM596 296h1v1h-1zM562 297h1v1h-1zM564 297h1v1h-1zM567 297h1v1h-1zM601 298h1v1h-1zM603 298h1v1h-1zM550 299h1v1h-1zM555 299h1v1h-1zM597 299h1v1h-1zM606 299h1v1h-1zM549 300h1v1h-1zM552 300h3v1h-3zM556 300h1v1h-1zM558 300h1v1h-1zM597 300h1v1h-1zM599 300h2v1h-2zM543 301h1v1h-1zM548 301h2v1h-2zM552 301h1v1h-1zM555 301h1v1h-1zM604 301h1v1h-1zM608 301h1v1h-1zM614 301h1v1h-1zM550 302h1v1h-1zM607 302h1v1h-1zM540 303h1v1h-1zM544 303h1v1h-1zM552 303h1v1h-1zM597 303h1v1h-1zM599 303h1v1h-1zM604 303h2v1h-2zM607 303h1v1h-1zM541 304h2v1h-2zM545 304h1v1h-1zM549 304h1v1h-1zM606 305h1v1h-1zM613 305h3v1h-3zM618 305h1v1h-1zM533 306h1v1h-1zM535 306h1v1h-1zM538 306h1v1h-1zM606 306h1v1h-1zM609 306h1v1h-1zM615 306h1v1h-1zM619 306h1v1h-1zM538 307h1v1h-1zM603 307h1v1h-1zM607 307h1v1h-1zM614 307h1v1h-1zM540 308h1v1h-1zM600 308h1v1h-1zM603 308h1v1h-1zM605 308h1v1h-1zM607 308h1v1h-1zM609 308h2v1h-2zM612 308h1v1h-1zM619 308h1v1h-1zM538 309h1v1h-1zM542 309h1v1h-1zM601 309h1v1h-1zM603 309h1v1h-1zM606 309h1v1h-1zM611 309h1v1h-1zM620 309h1v1h-1zM539 310h3v1h-3zM604 310h1v1h-1zM622 310h1v1h-1zM536 311h2v1h-2zM539 311h1v1h-1zM541 311h1v1h-1zM603 311h1v1h-1zM605 311h1v1h-1zM608 311h1v1h-1zM613 311h1v1h-1zM616 311h1v1h-1zM532 312h2v1h-2zM604 312h3v1h-3zM611 312h2v1h-2zM620 312h1v1h-1zM517 313h1v1h-1zM530 313h1v1h-1zM532 313h1v1h-1zM603 313h3v1h-3zM615 313h1v1h-1zM619 313h1v1h-1zM525 314h2v1h-2zM533 314h1v1h-1zM607 315h1v1h-1zM612 315h1v1h-1zM525 316h1v1h-1zM530 316h1v1h-1zM537 316h2v1h-2zM607 316h1v1h-1zM618 316h1v1h-1zM525 317h1v1h-1zM530 317h1v1h-1zM534 317h1v1h-1zM539 317h1v1h-1zM605 317h1v1h-1zM615 317h1v1h-1zM527 318h1v1h-1zM533 318h1v1h-1zM537 318h1v1h-1zM539 318h1v1h-1zM605 318h1v1h-1zM616 318h1v1h-1zM526 319h1v1h-1zM540 319h1v1h-1zM609 319h1v1h-1zM612 319h1v1h-1zM616 319h1v1h-1zM527 320h1v1h-1zM537 320h1v1h-1zM606 320h1v1h-1zM610 320h1v1h-1zM538 321h1v1h-1zM607 321h2v1h-2zM539 322h1v1h-1zM541 322h1v1h-1zM600 322h2v1h-2zM606 322h1v1h-1zM543 323h1v1h-1zM597 323h1v1h-1zM608 323h1v1h-1zM541 324h1v1h-1zM544 324h1v1h-1zM596 324h2v1h-2zM599 324h1v1h-1zM602 324h1v1h-1zM542 325h1v1h-1zM593 325h1v1h-1zM597 325h1v1h-1zM550 327h1v1h-1z" fill="#0000ff" fill-opacity="0.45"/>
<path d="M575 295h1v1h-1zM571 296h1v1h-1zM565 297h2v1h-2zM597 297h2v1h-2zM556 298h1v1h-1zM564 298h1v1h-1zM553 299h1v1h-1zM558 299h1v1h-1zM561 299h1v1h-1zM600 299h1v1h-1zM602 299h1v1h-1zM551 300h1v1h-1zM606 300h1v1h-1zM598 301h1v1h-1zM602 301h1v1h-1zM538 302h1v1h-1zM552 302h1v1h-1zM597 302h2v1h-2zM602 302h2v1h-2zM609 302h1v1h-1zM613 302h1v1h-1zM539 303h1v1h-1zM543 303h1v1h-1zM547 303h1v1h-1zM550 303h1v1h-1zM600 303h3v1h-3zM606 303h1v1h-1zM611 303h2v1h-2zM615 303h1v1h-1zM538 304h1v1h-1zM540 304h1v1h-1zM546 304h1v1h-1zM601 304h2v1h-2zM606 304h1v1h-1zM616 304h1v1h-1zM532 305h1v1h-1zM544 305h2v1h-2zM599 305h2v1h-2zM610 305h1v1h-1zM612 305h1v1h-1zM536 306h1v1h-1zM542 306h2v1h-2zM545 306h1v1h-1zM547 306h1v1h-1zM599 306h3v1h-3zM613 306h1v1h-1zM620 306h1v1h-1zM528 307h1v1h-1zM540 307h1v1h-1zM542 307h1v1h-1zM545 307h1v1h-1zM599 307h2v1h-2zM602 307h1v1h-1zM612 307h1v1h-1zM533 308h1v1h-1zM537 308h1v1h-1zM602 308h1v1h-1zM604 308h1v1h-1zM608 308h1v1h-1zM624 308h2v1h-2zM533 309h1v1h-1zM540 309h2v1h-2zM605 309h1v1h-1zM614 309h2v1h-2zM618 309h1v1h-1zM525 310h1v1h-1zM527 310h1v1h-1zM531 310h1v1h-1zM601 310h1v1h-1zM605 310h1v1h-1zM608 310h3v1h-3zM613 310h1v1h-1zM531 311h1v1h-1zM538 311h1v1h-1zM540 311h1v1h-1zM604 311h1v1h-1zM610 311h1v1h-1zM623 311h1v1h-1zM522 312h1v1h-1zM524 312h2v1h-2zM536 312h1v1h-1zM538 312h1v1h-1zM540 312h1v1h-1zM603 312h1v1h-1zM615 312h2v1h-2zM527 313h1v1h-1zM536 313h1v1h-1zM539 313h1v1h-1zM616 313h1v1h-1zM609 314h1v1h-1zM611 314h1v1h-1zM613 314h1v1h-1zM618 314h1v1h-1zM530 315h1v1h-1zM532 315h1v1h-1zM604 315h1v1h-1zM610 315h1v1h-1zM528 316h2v1h-2zM532 316h1v1h-1zM534 316h1v1h-1zM604 316h1v1h-1zM606 316h1v1h-1zM609 316h1v1h-1zM531 317h1v1h-1zM604 317h1v1h-1zM606 317h1v1h-1zM535 318h1v1h-1zM604 318h1v1h-1zM607 318h1v1h-1zM609 318h1v1h-1zM618 318h1v1h-1zM525 319h1v1h-1zM539 319h1v1h-1zM604 319h1v1h-1zM606 319h1v1h-1zM608 319h1v1h-1zM611 319h1v1h-1zM617 319h1v1h-1zM531 320h1v1h-1zM534 320h1v1h-1zM539 320h1v1h-1zM605 320h1v1h-1zM528 321h1v1h-1zM537 321h1v1h-1zM539 321h1v1h-1zM618 321h1v1h-1zM530 322h1v1h-1zM535 322h1v1h-1zM612 322h1v1h-1zM535 323h1v1h-1zM540 323h3v1h-3zM599 323h1v1h-1zM539 324h1v1h-1zM542 324h1v1h-1zM598 324h1v1h-1zM600 324h1v1h-1zM544 325h1v1h-1zM546 325h1v1h-1zM545 326h3v1h-3zM590 326h1v1h-1z" fill="#0000ff" fill-opacity="0.65"/>
<path d="M579 294h1v1h-1zM568 296h1v1h-1zM570 296h1v1h-1zM599 298h2v1h-2zM604 298h1v1h-1zM554 299h1v1h-1zM556 299h1v1h-1zM560 299h1v1h-1zM599 299h1v1h-1zM601 299h1v1h-1zM550 300h1v1h-1zM555 300h1v1h-1zM557 300h1v1h-1zM601 300h3v1h-3zM608 300h1v1h-1zM611 300h1v1h-1zM544 301h1v1h-1zM554 301h1v1h-1zM599 301h1v1h-1zM603 301h1v1h-1zM613 301h1v1h-1zM544 302h1v1h-1zM546 302h1v1h-1zM548 302h1v1h-1zM551 302h1v1h-1zM551 303h1v1h-1zM598 303h1v1h-1zM613 303h2v1h-2zM620 303h1v1h-1zM548 304h1v1h-1zM550 304h2v1h-2zM600 304h1v1h-1zM605 304h1v1h-1zM534 305h2v1h-2zM543 305h1v1h-1zM548 305h2v1h-2zM598 305h1v1h-1zM602 305h4v1h-4zM608 305h2v1h-2zM616 305h2v1h-2zM546 306h1v1h-1zM602 306h1v1h-1zM608 306h1v1h-1zM531 307h1v1h-1zM533 307h1v1h-1zM536 307h2v1h-2zM541 307h1v1h-1zM543 307h2v1h-2zM605 307h1v1h-1zM615 307h3v1h-3zM621 307h1v1h-1zM529 308h1v1h-1zM534 308h2v1h-2zM541 308h2v1h-2zM606 308h1v1h-1zM611 308h1v1h-1zM621 308h2v1h-2zM526 309h1v1h-1zM604 309h1v1h-1zM625 309h1v1h-1zM538 310h1v1h-1zM603 310h1v1h-1zM606 310h2v1h-2zM616 310h1v1h-1zM619 310h2v1h-2zM623 310h1v1h-1zM533 311h2v1h-2zM617 311h1v1h-1zM523 312h1v1h-1zM534 312h1v1h-1zM602 312h1v1h-1zM607 312h2v1h-2zM610 312h1v1h-1zM613 312h2v1h-2zM523 313h1v1h-1zM528 313h1v1h-1zM537 313h1v1h-1zM606 313h1v1h-1zM614 313h1v1h-1zM523 314h1v1h-1zM528 314h1v1h-1zM532 314h1v1h-1zM539 314h1v1h-1zM605 314h1v1h-1zM607 314h1v1h-1zM610 314h1v1h-1zM523 315h1v1h-1zM531 315h1v1h-1zM533 315h1v1h-1zM537 315h1v1h-1zM617 315h1v1h-1zM620 315h1v1h-1zM622 315h1v1h-1zM531 316h1v1h-1zM605 316h1v1h-1zM614 316h1v1h-1zM620 316h1v1h-1zM527 317h1v1h-1zM535 317h2v1h-2zM538 317h1v1h-1zM609 317h2v1h-2zM613 317h1v1h-1zM616 317h1v1h-1zM538 318h1v1h-1zM608 318h1v1h-1zM611 318h1v1h-1zM536 319h1v1h-1zM603 319h1v1h-1zM605 319h1v1h-1zM614 319h1v1h-1zM536 320h1v1h-1zM538 320h1v1h-1zM540 320h1v1h-1zM603 320h2v1h-2zM530 321h1v1h-1zM532 321h1v1h-1zM601 321h1v1h-1zM603 321h1v1h-1zM606 321h1v1h-1zM617 321h1v1h-1zM599 322h1v1h-1zM603 322h1v1h-1zM600 323h1v1h-1zM602 323h1v1h-1zM603 324h1v1h-1zM596 325h1v1h-1zM549 327h1v1h-1z" fill="#0000ff" fill-opacity="0.85"/>
<g filter="url(#rb)">
<path d="M560.78 330.69 562.14 327.08 563.5 323.47 564.85 319.86 566.21 316.25 568.44 312.64 570.71 309.03 572.99 305.42 575.26 301.81 577.53 298.2 579.8 294.59 588.8 294.59 586.53 298.2 584.26 301.81 581.99 305.42 579.71 309.03 577.44 312.64 575.15 316.25 572.42 319.86 569.68 323.47 566.95 327.08 564.22 330.69Z" fill="#00006e" fill-opacity="0.22"/>
<path d="M561.24 330.69 562.78 327.08 564.32 323.47 565.86 319.86 567.4 316.25 569.64 312.64 571.91 309.03 574.19 305.42 576.46 301.81 578.73 298.2 581 294.59 587.8 294.59 585.53 298.2 583.26 301.81 580.99 305.42 578.71 309.03 576.44 312.64 574.15 316.25 571.58 319.86 569 323.47 566.42 327.08 563.84 330.69Z" fill="#00006e" fill-opacity="0.2"/>
<path d="M560.98 330.69 562.41 327.08 563.84 323.47 565.27 319.86 566.71 316.25 568.94 312.64 571.21 309.03 573.49 305.42 575.76 301.81 578.03 298.2 580.3 294.59 582.8 294.59 580.53 298.2 578.26 301.81 575.99 305.42 573.71 309.03 571.44 312.64 569.19 316.25 567.37 319.86 565.56 323.47 563.74 327.08 561.93 330.69Z" fill="#00006e" fill-opacity="0.15"/>
<path d="M581 294h1v1h-1zM585 294h1v1h-1zM580 295h1v1h-1zM584 296h2v1h-2zM581 297h1v1h-1zM576 299h1v1h-1zM581 299h2v1h-2zM575 300h1v1h-1zM579 300h1v1h-1zM582 300h1v1h-1zM584 301h1v1h-1zM584 302h1v1h-1zM576 303h1v1h-1zM574 304h1v1h-1zM578 304h1v1h-1zM572 305h1v1h-1zM574 305h1v1h-1zM578 305h2v1h-2zM581 305h1v1h-1zM576 306h1v1h-1zM572 307h1v1h-1zM576 307h1v1h-1zM571 308h1v1h-1zM576 308h2v1h-2zM574 309h2v1h-2zM569 310h2v1h-2zM576 311h1v1h-1zM574 313h2v1h-2zM576 314h1v1h-1zM566 315h1v1h-1zM573 315h1v1h-1zM570 316h1v1h-1zM571 317h1v1h-1zM573 319h1v1h-1zM563 320h1v1h-1zM570 320h1v1h-1zM563 321h3v1h-3zM567 321h1v1h-1zM570 321h1v1h-1zM563 322h1v1h-1zM568 322h1v1h-1zM561 323h2v1h-2zM565 323h1v1h-1zM567 323h1v1h-1zM560 324h1v1h-1zM563 325h1v1h-1zM565 325h1v1h-1zM567 325h1v1h-1zM559 326h1v1h-1zM563 326h1v1h-1zM562 327h1v1h-1zM563 328h1v1h-1zM557 329h1v1h-1zM562 329h1v1h-1z" fill="#00006e" fill-opacity="0.2"/>
<path d="M584 294h1v1h-1zM588 294h2v1h-2zM578 295h2v1h-2zM581 296h3v1h-3zM586 296h1v1h-1zM578 297h1v1h-1zM582 297h2v1h-2zM587 297h1v1h-1zM585 298h1v1h-1zM578 299h1v1h-1zM580 299h1v1h-1zM583 299h1v1h-1zM585 299h2v1h-2zM576 300h1v1h-1zM581 300h1v1h-1zM583 300h3v1h-3zM574 302h2v1h-2zM582 302h1v1h-1zM577 303h1v1h-1zM575 304h1v1h-1zM573 305h1v1h-1zM571 306h1v1h-1zM578 306h3v1h-3zM571 307h1v1h-1zM573 307h1v1h-1zM575 307h1v1h-1zM579 307h1v1h-1zM574 308h1v1h-1zM579 308h1v1h-1zM569 309h1v1h-1zM573 310h2v1h-2zM571 311h1v1h-1zM577 311h1v1h-1zM568 312h1v1h-1zM571 312h2v1h-2zM576 313h2v1h-2zM570 314h1v1h-1zM572 314h1v1h-1zM566 316h1v1h-1zM571 316h1v1h-1zM575 316h1v1h-1zM569 318h1v1h-1zM573 318h2v1h-2zM568 319h1v1h-1zM570 319h1v1h-1zM564 320h1v1h-1zM566 320h1v1h-1zM569 321h1v1h-1zM562 322h1v1h-1zM565 322h1v1h-1zM571 322h1v1h-1zM563 323h1v1h-1zM569 323h1v1h-1zM562 324h1v1h-1zM568 324h1v1h-1zM570 324h1v1h-1zM562 325h1v1h-1zM561 327h1v1h-1zM568 327h1v1h-1zM558 328h1v1h-1zM561 328h1v1h-1zM566 328h1v1h-1zM561 329h1v1h-1zM564 329h1v1h-1z" fill="#00006e" fill-opacity="0.35"/>
</g>
<rect x="561.85" y="283.95" width="2.3" height="46.86" fill="#0000af"/>
<rect x="583.9" y="259.65" width="2.2" height="36.22" fill="#0000af"/>
<text x="32.6" y="383" font-size="20.1" text-anchor="start" font-weight="normal" fill="#000" font-family="'Liberation Serif', serif">(I) Vertical-wise</text>
<text x="259.9" y="383" font-size="19.7" text-anchor="start" font-weight="normal" fill="#000" font-family="'Liberation Serif', serif">(II) Horizontal-wise</text>
<text x="498" y="383" font-size="19.7" text-anchor="start" font-weight="normal" fill="#000" font-family="'Liberation Serif', serif">(III) Diagonal-wise</text>
</svg></body></html>
